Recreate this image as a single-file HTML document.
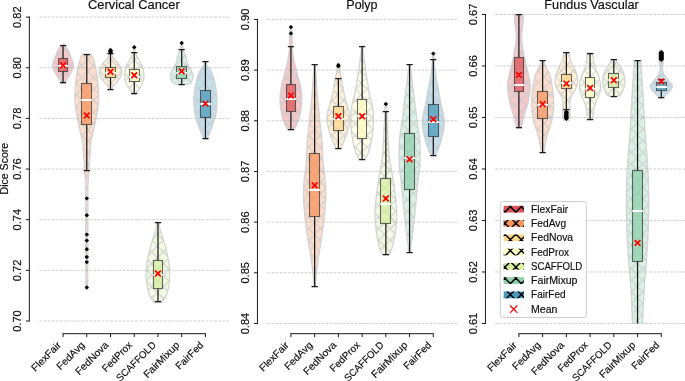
<!DOCTYPE html><html><head><meta charset="utf-8"><style>html,body{margin:0;padding:0;background:#fff;width:685px;height:381px;overflow:hidden}svg{display:block;will-change:transform}text{font-family:"Liberation Sans", sans-serif;fill:#111;stroke:#111;stroke-width:0.18px}</style></head><body>
<svg width="685" height="381" viewBox="0 0 685 381">
<defs>
<pattern id="hv0" patternUnits="userSpaceOnUse" x="0" y="0" width="11.64" height="11.64">
<path d="M-11.64,-39.46 L23.28,-4.54 M-11.64,-15.54 L23.28,-50.46 M-11.64,-27.82 L23.28,7.10 M-11.64,-3.90 L23.28,-38.82 M-11.64,-16.18 L23.28,18.74 M-11.64,7.74 L23.28,-27.18 M-11.64,-4.54 L23.28,30.38 M-11.64,19.38 L23.28,-15.54 M-11.64,7.10 L23.28,42.02 M-11.64,31.02 L23.28,-3.90 M-11.64,18.74 L23.28,53.66 M-11.64,42.66 L23.28,7.74 M-11.64,30.38 L23.28,65.30 M-11.64,54.30 L23.28,19.38" stroke="#c6c9d0" stroke-width="1.3" stroke-opacity="0.75" fill="none"/>
</pattern>
<pattern id="hv1" patternUnits="userSpaceOnUse" x="0" y="0" width="11.64" height="11.64">
<path d="M-11.64,-45.28 L23.28,-10.36 M-11.64,-21.36 L23.28,-56.28 M-11.64,-33.64 L23.28,1.28 M-11.64,-9.72 L23.28,-44.64 M-11.64,-22.00 L23.28,12.92 M-11.64,1.92 L23.28,-33.00 M-11.64,-10.36 L23.28,24.56 M-11.64,13.56 L23.28,-21.36 M-11.64,1.28 L23.28,36.20 M-11.64,25.20 L23.28,-9.72 M-11.64,12.92 L23.28,47.84 M-11.64,36.84 L23.28,1.92 M-11.64,24.56 L23.28,59.48 M-11.64,48.48 L23.28,13.56" stroke="#c6c9d0" stroke-width="1.3" stroke-opacity="0.75" fill="none"/>
</pattern>
<pattern id="hv2" patternUnits="userSpaceOnUse" x="0" y="0" width="11.64" height="11.64">
<path d="M-11.64,-36.70 L23.28,-1.78 M-11.64,-19.62 L23.28,-54.54 M-11.64,-25.06 L23.28,9.86 M-11.64,-7.98 L23.28,-42.90 M-11.64,-13.42 L23.28,21.50 M-11.64,3.66 L23.28,-31.26 M-11.64,-1.78 L23.28,33.14 M-11.64,15.30 L23.28,-19.62 M-11.64,9.86 L23.28,44.78 M-11.64,26.94 L23.28,-7.98 M-11.64,21.50 L23.28,56.42 M-11.64,38.58 L23.28,3.66 M-11.64,33.14 L23.28,68.06 M-11.64,50.22 L23.28,15.30" stroke="#c6c9d0" stroke-width="1.3" stroke-opacity="0.75" fill="none"/>
</pattern>
<pattern id="hl" patternUnits="userSpaceOnUse" x="0" y="0" width="11" height="11">
<path d="M-11.00,-39.70 L22.00,-6.70 M-11.00,-20.00 L22.00,-53.00 M-11.00,-28.70 L22.00,4.30 M-11.00,-9.00 L22.00,-42.00 M-11.00,-17.70 L22.00,15.30 M-11.00,2.00 L22.00,-31.00 M-11.00,-6.70 L22.00,26.30 M-11.00,13.00 L22.00,-20.00 M-11.00,4.30 L22.00,37.30 M-11.00,24.00 L22.00,-9.00 M-11.00,15.30 L22.00,48.30 M-11.00,35.00 L22.00,2.00 M-11.00,26.30 L22.00,59.30 M-11.00,46.00 L22.00,13.00" stroke="#000" stroke-width="1.5" stroke-opacity="1" fill="none"/>
</pattern>
<clipPath id="ax0"><rect x="39.32" y="14.45" width="189.84" height="309.15"/></clipPath>
<clipPath id="bx0"><rect x="39.32" y="12.45" width="189.84" height="311.15"/></clipPath>
<clipPath id="ax1"><rect x="267.27" y="14.45" width="189.84" height="309.15"/></clipPath>
<clipPath id="bx1"><rect x="267.27" y="12.45" width="189.84" height="311.15"/></clipPath>
<clipPath id="ax2"><rect x="495.17" y="14.45" width="190.33" height="309.15"/></clipPath>
<clipPath id="bx2"><rect x="495.17" y="12.45" width="190.33" height="311.15"/></clipPath>
</defs>
<g clip-path="url(#ax0)">
<path d="M63.95,44.20 L64.36,44.68 L65.15,45.70 L65.80,46.58 L66.60,47.68 L67.43,48.89 L68.15,50.10 L68.61,51.06 L69.02,52.05 L69.40,53.06 L69.77,54.08 L70.15,55.10 L70.56,56.12 L70.98,57.14 L71.40,58.16 L71.79,59.18 L72.15,60.20 L72.50,61.20 L72.85,62.20 L73.15,63.20 L73.37,64.20 L73.45,65.20 L73.38,66.22 L73.18,67.24 L72.90,68.26 L72.54,69.28 L72.15,70.30 L71.71,71.30 L71.19,72.30 L70.63,73.30 L70.04,74.30 L69.45,75.30 L68.84,76.35 L68.18,77.43 L67.52,78.51 L66.90,79.51 L66.35,80.40 L65.56,81.67 L64.90,82.70 L64.45,83.40 L61.65,83.40 L61.20,82.70 L60.54,81.67 L59.75,80.40 L59.20,79.51 L58.58,78.51 L57.92,77.43 L57.26,76.35 L56.65,75.30 L56.06,74.30 L55.47,73.30 L54.91,72.30 L54.39,71.30 L53.95,70.30 L53.56,69.28 L53.20,68.26 L52.92,67.24 L52.72,66.22 L52.65,65.20 L52.73,64.20 L52.95,63.20 L53.25,62.20 L53.60,61.20 L53.95,60.20 L54.31,59.18 L54.70,58.16 L55.12,57.14 L55.54,56.12 L55.95,55.10 L56.33,54.08 L56.70,53.06 L57.08,52.05 L57.49,51.06 L57.95,50.10 L58.67,48.89 L59.50,47.68 L60.30,46.58 L60.95,45.70 L61.74,44.68 L62.15,44.20 Z" fill="#dd4a4c" fill-opacity="0.3" stroke="none"/>
<path d="M63.95,44.20 L64.36,44.68 L65.15,45.70 L65.80,46.58 L66.60,47.68 L67.43,48.89 L68.15,50.10 L68.61,51.06 L69.02,52.05 L69.40,53.06 L69.77,54.08 L70.15,55.10 L70.56,56.12 L70.98,57.14 L71.40,58.16 L71.79,59.18 L72.15,60.20 L72.50,61.20 L72.85,62.20 L73.15,63.20 L73.37,64.20 L73.45,65.20 L73.38,66.22 L73.18,67.24 L72.90,68.26 L72.54,69.28 L72.15,70.30 L71.71,71.30 L71.19,72.30 L70.63,73.30 L70.04,74.30 L69.45,75.30 L68.84,76.35 L68.18,77.43 L67.52,78.51 L66.90,79.51 L66.35,80.40 L65.56,81.67 L64.90,82.70 L64.45,83.40 L61.65,83.40 L61.20,82.70 L60.54,81.67 L59.75,80.40 L59.20,79.51 L58.58,78.51 L57.92,77.43 L57.26,76.35 L56.65,75.30 L56.06,74.30 L55.47,73.30 L54.91,72.30 L54.39,71.30 L53.95,70.30 L53.56,69.28 L53.20,68.26 L52.92,67.24 L52.72,66.22 L52.65,65.20 L52.73,64.20 L52.95,63.20 L53.25,62.20 L53.60,61.20 L53.95,60.20 L54.31,59.18 L54.70,58.16 L55.12,57.14 L55.54,56.12 L55.95,55.10 L56.33,54.08 L56.70,53.06 L57.08,52.05 L57.49,51.06 L57.95,50.10 L58.67,48.89 L59.50,47.68 L60.30,46.58 L60.95,45.70 L61.74,44.68 L62.15,44.20 Z" fill="url(#hv0)" stroke="#d0d0d0" stroke-width="1.3" stroke-opacity="0.9"/>
<path d="M90.78,53.90 L91.33,54.51 L92.18,56.00 L92.47,56.70 L92.79,57.49 L93.13,58.38 L93.48,59.37 L93.85,60.49 L94.22,61.73 L94.58,63.10 L94.78,63.91 L94.98,64.78 L95.20,65.71 L95.41,66.69 L95.63,67.70 L95.85,68.74 L96.06,69.81 L96.27,70.89 L96.48,71.97 L96.67,73.05 L96.86,74.12 L97.03,75.18 L97.18,76.20 L97.32,77.21 L97.45,78.22 L97.58,79.22 L97.69,80.23 L97.79,81.24 L97.89,82.25 L97.98,83.25 L98.06,84.26 L98.14,85.27 L98.21,86.28 L98.27,87.28 L98.33,88.29 L98.38,89.30 L98.43,90.31 L98.47,91.32 L98.52,92.32 L98.55,93.33 L98.59,94.34 L98.61,95.35 L98.62,96.35 L98.63,97.36 L98.63,98.37 L98.61,99.38 L98.58,100.38 L98.54,101.39 L98.48,102.40 L98.41,103.41 L98.32,104.42 L98.21,105.42 L98.10,106.43 L97.97,107.44 L97.83,108.45 L97.68,109.45 L97.52,110.46 L97.36,111.47 L97.20,112.48 L97.03,113.48 L96.85,114.49 L96.68,115.50 L96.50,116.51 L96.32,117.52 L96.12,118.52 L95.93,119.53 L95.72,120.54 L95.51,121.55 L95.30,122.55 L95.08,123.56 L94.86,124.57 L94.64,125.58 L94.42,126.58 L94.20,127.59 L93.98,128.60 L93.75,129.62 L93.51,130.66 L93.26,131.72 L93.00,132.79 L92.74,133.86 L92.48,134.92 L92.22,135.98 L91.97,137.01 L91.74,138.02 L91.51,139.00 L91.31,139.95 L91.13,140.85 L90.98,141.70 L90.79,142.96 L90.67,144.07 L90.59,145.09 L90.54,146.04 L90.51,146.97 L90.49,147.92 L90.45,148.91 L90.38,150.00 L90.31,150.91 L90.24,151.81 L90.16,152.72 L90.08,153.64 L90.00,154.58 L89.92,155.56 L89.84,156.58 L89.76,157.65 L89.67,158.79 L89.58,160.00 L89.52,160.87 L89.45,161.79 L89.39,162.76 L89.32,163.77 L89.25,164.81 L89.18,165.88 L89.10,166.96 L89.03,168.04 L88.96,169.12 L88.89,170.19 L88.82,171.23 L88.76,172.24 L88.69,173.21 L88.64,174.13 L88.58,175.00 L88.50,176.18 L88.43,177.24 L88.35,178.21 L88.29,179.12 L88.22,180.00 L88.16,180.88 L88.11,181.79 L88.06,182.76 L88.02,183.82 L87.98,185.00 L87.96,185.78 L87.94,186.48 L87.93,187.12 L87.91,187.73 L87.91,188.33 L87.90,188.96 L87.89,189.64 L87.89,190.39 L87.89,191.24 L87.89,192.22 L87.89,193.36 L87.89,194.68 L87.88,196.21 L87.88,197.97 L87.88,200.00 L87.88,200.67 L87.88,201.36 L87.88,202.09 L87.88,202.85 L87.88,203.64 L87.88,204.45 L87.88,205.29 L87.88,206.15 L87.88,207.04 L87.88,207.95 L87.88,208.88 L87.88,209.84 L87.88,210.81 L87.88,211.80 L87.88,212.81 L87.88,213.83 L87.88,214.87 L87.88,215.92 L87.88,216.98 L87.88,218.06 L87.88,219.14 L87.88,220.24 L87.88,221.34 L87.89,222.45 L87.89,223.56 L87.89,224.68 L87.89,225.81 L87.89,226.93 L87.89,228.06 L87.89,229.18 L87.89,230.31 L87.89,231.43 L87.89,232.55 L87.89,233.67 L87.89,234.78 L87.89,235.88 L87.89,236.98 L87.89,238.07 L87.89,239.14 L87.89,240.21 L87.89,241.26 L87.89,242.30 L87.89,243.33 L87.89,244.34 L87.89,245.33 L87.89,246.30 L87.89,247.26 L87.88,248.19 L87.88,249.11 L87.88,250.00 L87.88,251.16 L87.87,252.33 L87.87,253.51 L87.87,254.69 L87.86,255.88 L87.86,257.07 L87.85,258.26 L87.85,259.45 L87.84,260.64 L87.84,261.83 L87.83,263.01 L87.82,264.18 L87.82,265.35 L87.81,266.51 L87.81,267.66 L87.80,268.80 L87.79,269.92 L87.79,271.03 L87.78,272.12 L87.77,273.20 L87.77,274.26 L87.76,275.30 L87.75,276.31 L87.75,277.31 L87.74,278.28 L87.74,279.22 L87.73,280.13 L87.72,281.02 L87.72,281.88 L87.71,282.70 L87.71,283.50 L87.70,284.25 L87.70,284.98 L87.69,285.66 L87.69,286.31 L87.69,286.91 L87.68,287.48 L87.68,288.00 L85.88,288.00 L85.88,287.48 L85.87,286.91 L85.87,286.31 L85.87,285.66 L85.86,284.98 L85.86,284.25 L85.85,283.50 L85.85,282.70 L85.84,281.88 L85.84,281.02 L85.83,280.13 L85.82,279.22 L85.82,278.28 L85.81,277.31 L85.81,276.31 L85.80,275.30 L85.79,274.26 L85.79,273.20 L85.78,272.12 L85.77,271.03 L85.77,269.92 L85.76,268.80 L85.75,267.66 L85.75,266.51 L85.74,265.35 L85.74,264.18 L85.73,263.01 L85.72,261.83 L85.72,260.64 L85.71,259.45 L85.71,258.26 L85.70,257.07 L85.70,255.88 L85.69,254.69 L85.69,253.51 L85.69,252.33 L85.68,251.16 L85.68,250.00 L85.68,249.11 L85.68,248.19 L85.67,247.26 L85.67,246.30 L85.67,245.33 L85.67,244.34 L85.67,243.33 L85.67,242.30 L85.67,241.26 L85.67,240.21 L85.67,239.14 L85.67,238.07 L85.67,236.98 L85.67,235.88 L85.67,234.78 L85.67,233.67 L85.67,232.55 L85.67,231.43 L85.67,230.31 L85.67,229.18 L85.67,228.06 L85.67,226.93 L85.67,225.81 L85.67,224.68 L85.67,223.56 L85.67,222.45 L85.68,221.34 L85.68,220.24 L85.68,219.14 L85.68,218.06 L85.68,216.98 L85.68,215.92 L85.68,214.87 L85.68,213.83 L85.68,212.81 L85.68,211.80 L85.68,210.81 L85.68,209.84 L85.68,208.88 L85.68,207.95 L85.68,207.04 L85.68,206.15 L85.68,205.29 L85.68,204.45 L85.68,203.64 L85.68,202.85 L85.68,202.09 L85.68,201.36 L85.68,200.67 L85.68,200.00 L85.68,197.97 L85.68,196.21 L85.67,194.68 L85.67,193.36 L85.67,192.22 L85.67,191.24 L85.67,190.39 L85.67,189.64 L85.66,188.96 L85.65,188.33 L85.65,187.73 L85.63,187.12 L85.62,186.48 L85.60,185.78 L85.58,185.00 L85.54,183.82 L85.50,182.76 L85.45,181.79 L85.40,180.88 L85.34,180.00 L85.27,179.12 L85.21,178.21 L85.13,177.24 L85.06,176.18 L84.98,175.00 L84.92,174.13 L84.87,173.21 L84.80,172.24 L84.74,171.23 L84.67,170.19 L84.60,169.12 L84.53,168.04 L84.46,166.96 L84.38,165.88 L84.31,164.81 L84.24,163.77 L84.17,162.76 L84.11,161.79 L84.04,160.87 L83.98,160.00 L83.89,158.79 L83.80,157.65 L83.72,156.58 L83.64,155.56 L83.56,154.58 L83.48,153.64 L83.40,152.72 L83.32,151.81 L83.25,150.91 L83.18,150.00 L83.11,148.91 L83.07,147.92 L83.05,146.97 L83.02,146.04 L82.97,145.09 L82.89,144.07 L82.77,142.96 L82.58,141.70 L82.43,140.85 L82.25,139.95 L82.05,139.00 L81.82,138.02 L81.59,137.01 L81.34,135.98 L81.08,134.92 L80.82,133.86 L80.56,132.79 L80.30,131.72 L80.05,130.66 L79.81,129.62 L79.58,128.60 L79.36,127.59 L79.14,126.58 L78.92,125.58 L78.70,124.57 L78.48,123.56 L78.26,122.55 L78.05,121.55 L77.84,120.54 L77.63,119.53 L77.44,118.52 L77.24,117.52 L77.06,116.51 L76.88,115.50 L76.71,114.49 L76.53,113.48 L76.36,112.48 L76.20,111.47 L76.04,110.46 L75.88,109.45 L75.73,108.45 L75.59,107.44 L75.46,106.43 L75.35,105.42 L75.24,104.42 L75.15,103.41 L75.08,102.40 L75.02,101.39 L74.98,100.38 L74.95,99.38 L74.93,98.37 L74.93,97.36 L74.94,96.35 L74.95,95.35 L74.97,94.34 L75.01,93.33 L75.04,92.32 L75.09,91.32 L75.13,90.31 L75.18,89.30 L75.23,88.29 L75.29,87.28 L75.35,86.28 L75.42,85.27 L75.50,84.26 L75.58,83.25 L75.67,82.25 L75.77,81.24 L75.87,80.23 L75.98,79.22 L76.11,78.22 L76.24,77.21 L76.38,76.20 L76.53,75.18 L76.70,74.12 L76.89,73.05 L77.08,71.97 L77.29,70.89 L77.50,69.81 L77.71,68.74 L77.93,67.70 L78.15,66.69 L78.36,65.71 L78.58,64.78 L78.78,63.91 L78.98,63.10 L79.34,61.73 L79.71,60.49 L80.08,59.37 L80.43,58.38 L80.77,57.49 L81.09,56.70 L81.38,56.00 L82.23,54.51 L82.78,53.90 Z" fill="#f98e52" fill-opacity="0.3" stroke="none"/>
<path d="M90.78,53.90 L91.33,54.51 L92.18,56.00 L92.47,56.70 L92.79,57.49 L93.13,58.38 L93.48,59.37 L93.85,60.49 L94.22,61.73 L94.58,63.10 L94.78,63.91 L94.98,64.78 L95.20,65.71 L95.41,66.69 L95.63,67.70 L95.85,68.74 L96.06,69.81 L96.27,70.89 L96.48,71.97 L96.67,73.05 L96.86,74.12 L97.03,75.18 L97.18,76.20 L97.32,77.21 L97.45,78.22 L97.58,79.22 L97.69,80.23 L97.79,81.24 L97.89,82.25 L97.98,83.25 L98.06,84.26 L98.14,85.27 L98.21,86.28 L98.27,87.28 L98.33,88.29 L98.38,89.30 L98.43,90.31 L98.47,91.32 L98.52,92.32 L98.55,93.33 L98.59,94.34 L98.61,95.35 L98.62,96.35 L98.63,97.36 L98.63,98.37 L98.61,99.38 L98.58,100.38 L98.54,101.39 L98.48,102.40 L98.41,103.41 L98.32,104.42 L98.21,105.42 L98.10,106.43 L97.97,107.44 L97.83,108.45 L97.68,109.45 L97.52,110.46 L97.36,111.47 L97.20,112.48 L97.03,113.48 L96.85,114.49 L96.68,115.50 L96.50,116.51 L96.32,117.52 L96.12,118.52 L95.93,119.53 L95.72,120.54 L95.51,121.55 L95.30,122.55 L95.08,123.56 L94.86,124.57 L94.64,125.58 L94.42,126.58 L94.20,127.59 L93.98,128.60 L93.75,129.62 L93.51,130.66 L93.26,131.72 L93.00,132.79 L92.74,133.86 L92.48,134.92 L92.22,135.98 L91.97,137.01 L91.74,138.02 L91.51,139.00 L91.31,139.95 L91.13,140.85 L90.98,141.70 L90.79,142.96 L90.67,144.07 L90.59,145.09 L90.54,146.04 L90.51,146.97 L90.49,147.92 L90.45,148.91 L90.38,150.00 L90.31,150.91 L90.24,151.81 L90.16,152.72 L90.08,153.64 L90.00,154.58 L89.92,155.56 L89.84,156.58 L89.76,157.65 L89.67,158.79 L89.58,160.00 L89.52,160.87 L89.45,161.79 L89.39,162.76 L89.32,163.77 L89.25,164.81 L89.18,165.88 L89.10,166.96 L89.03,168.04 L88.96,169.12 L88.89,170.19 L88.82,171.23 L88.76,172.24 L88.69,173.21 L88.64,174.13 L88.58,175.00 L88.50,176.18 L88.43,177.24 L88.35,178.21 L88.29,179.12 L88.22,180.00 L88.16,180.88 L88.11,181.79 L88.06,182.76 L88.02,183.82 L87.98,185.00 L87.96,185.78 L87.94,186.48 L87.93,187.12 L87.91,187.73 L87.91,188.33 L87.90,188.96 L87.89,189.64 L87.89,190.39 L87.89,191.24 L87.89,192.22 L87.89,193.36 L87.89,194.68 L87.88,196.21 L87.88,197.97 L87.88,200.00 L87.88,200.67 L87.88,201.36 L87.88,202.09 L87.88,202.85 L87.88,203.64 L87.88,204.45 L87.88,205.29 L87.88,206.15 L87.88,207.04 L87.88,207.95 L87.88,208.88 L87.88,209.84 L87.88,210.81 L87.88,211.80 L87.88,212.81 L87.88,213.83 L87.88,214.87 L87.88,215.92 L87.88,216.98 L87.88,218.06 L87.88,219.14 L87.88,220.24 L87.88,221.34 L87.89,222.45 L87.89,223.56 L87.89,224.68 L87.89,225.81 L87.89,226.93 L87.89,228.06 L87.89,229.18 L87.89,230.31 L87.89,231.43 L87.89,232.55 L87.89,233.67 L87.89,234.78 L87.89,235.88 L87.89,236.98 L87.89,238.07 L87.89,239.14 L87.89,240.21 L87.89,241.26 L87.89,242.30 L87.89,243.33 L87.89,244.34 L87.89,245.33 L87.89,246.30 L87.89,247.26 L87.88,248.19 L87.88,249.11 L87.88,250.00 L87.88,251.16 L87.87,252.33 L87.87,253.51 L87.87,254.69 L87.86,255.88 L87.86,257.07 L87.85,258.26 L87.85,259.45 L87.84,260.64 L87.84,261.83 L87.83,263.01 L87.82,264.18 L87.82,265.35 L87.81,266.51 L87.81,267.66 L87.80,268.80 L87.79,269.92 L87.79,271.03 L87.78,272.12 L87.77,273.20 L87.77,274.26 L87.76,275.30 L87.75,276.31 L87.75,277.31 L87.74,278.28 L87.74,279.22 L87.73,280.13 L87.72,281.02 L87.72,281.88 L87.71,282.70 L87.71,283.50 L87.70,284.25 L87.70,284.98 L87.69,285.66 L87.69,286.31 L87.69,286.91 L87.68,287.48 L87.68,288.00 L85.88,288.00 L85.88,287.48 L85.87,286.91 L85.87,286.31 L85.87,285.66 L85.86,284.98 L85.86,284.25 L85.85,283.50 L85.85,282.70 L85.84,281.88 L85.84,281.02 L85.83,280.13 L85.82,279.22 L85.82,278.28 L85.81,277.31 L85.81,276.31 L85.80,275.30 L85.79,274.26 L85.79,273.20 L85.78,272.12 L85.77,271.03 L85.77,269.92 L85.76,268.80 L85.75,267.66 L85.75,266.51 L85.74,265.35 L85.74,264.18 L85.73,263.01 L85.72,261.83 L85.72,260.64 L85.71,259.45 L85.71,258.26 L85.70,257.07 L85.70,255.88 L85.69,254.69 L85.69,253.51 L85.69,252.33 L85.68,251.16 L85.68,250.00 L85.68,249.11 L85.68,248.19 L85.67,247.26 L85.67,246.30 L85.67,245.33 L85.67,244.34 L85.67,243.33 L85.67,242.30 L85.67,241.26 L85.67,240.21 L85.67,239.14 L85.67,238.07 L85.67,236.98 L85.67,235.88 L85.67,234.78 L85.67,233.67 L85.67,232.55 L85.67,231.43 L85.67,230.31 L85.67,229.18 L85.67,228.06 L85.67,226.93 L85.67,225.81 L85.67,224.68 L85.67,223.56 L85.67,222.45 L85.68,221.34 L85.68,220.24 L85.68,219.14 L85.68,218.06 L85.68,216.98 L85.68,215.92 L85.68,214.87 L85.68,213.83 L85.68,212.81 L85.68,211.80 L85.68,210.81 L85.68,209.84 L85.68,208.88 L85.68,207.95 L85.68,207.04 L85.68,206.15 L85.68,205.29 L85.68,204.45 L85.68,203.64 L85.68,202.85 L85.68,202.09 L85.68,201.36 L85.68,200.67 L85.68,200.00 L85.68,197.97 L85.68,196.21 L85.67,194.68 L85.67,193.36 L85.67,192.22 L85.67,191.24 L85.67,190.39 L85.67,189.64 L85.66,188.96 L85.65,188.33 L85.65,187.73 L85.63,187.12 L85.62,186.48 L85.60,185.78 L85.58,185.00 L85.54,183.82 L85.50,182.76 L85.45,181.79 L85.40,180.88 L85.34,180.00 L85.27,179.12 L85.21,178.21 L85.13,177.24 L85.06,176.18 L84.98,175.00 L84.92,174.13 L84.87,173.21 L84.80,172.24 L84.74,171.23 L84.67,170.19 L84.60,169.12 L84.53,168.04 L84.46,166.96 L84.38,165.88 L84.31,164.81 L84.24,163.77 L84.17,162.76 L84.11,161.79 L84.04,160.87 L83.98,160.00 L83.89,158.79 L83.80,157.65 L83.72,156.58 L83.64,155.56 L83.56,154.58 L83.48,153.64 L83.40,152.72 L83.32,151.81 L83.25,150.91 L83.18,150.00 L83.11,148.91 L83.07,147.92 L83.05,146.97 L83.02,146.04 L82.97,145.09 L82.89,144.07 L82.77,142.96 L82.58,141.70 L82.43,140.85 L82.25,139.95 L82.05,139.00 L81.82,138.02 L81.59,137.01 L81.34,135.98 L81.08,134.92 L80.82,133.86 L80.56,132.79 L80.30,131.72 L80.05,130.66 L79.81,129.62 L79.58,128.60 L79.36,127.59 L79.14,126.58 L78.92,125.58 L78.70,124.57 L78.48,123.56 L78.26,122.55 L78.05,121.55 L77.84,120.54 L77.63,119.53 L77.44,118.52 L77.24,117.52 L77.06,116.51 L76.88,115.50 L76.71,114.49 L76.53,113.48 L76.36,112.48 L76.20,111.47 L76.04,110.46 L75.88,109.45 L75.73,108.45 L75.59,107.44 L75.46,106.43 L75.35,105.42 L75.24,104.42 L75.15,103.41 L75.08,102.40 L75.02,101.39 L74.98,100.38 L74.95,99.38 L74.93,98.37 L74.93,97.36 L74.94,96.35 L74.95,95.35 L74.97,94.34 L75.01,93.33 L75.04,92.32 L75.09,91.32 L75.13,90.31 L75.18,89.30 L75.23,88.29 L75.29,87.28 L75.35,86.28 L75.42,85.27 L75.50,84.26 L75.58,83.25 L75.67,82.25 L75.77,81.24 L75.87,80.23 L75.98,79.22 L76.11,78.22 L76.24,77.21 L76.38,76.20 L76.53,75.18 L76.70,74.12 L76.89,73.05 L77.08,71.97 L77.29,70.89 L77.50,69.81 L77.71,68.74 L77.93,67.70 L78.15,66.69 L78.36,65.71 L78.58,64.78 L78.78,63.91 L78.98,63.10 L79.34,61.73 L79.71,60.49 L80.08,59.37 L80.43,58.38 L80.77,57.49 L81.09,56.70 L81.38,56.00 L82.23,54.51 L82.78,53.90 Z" fill="url(#hv0)" stroke="#d0d0d0" stroke-width="1.3" stroke-opacity="0.9"/>
<path d="M111.51,48.50 L111.58,49.32 L111.67,50.51 L111.79,51.81 L111.91,53.00 L112.00,54.34 L112.11,55.62 L112.51,56.90 L113.38,58.20 L114.53,59.50 L115.71,60.80 L116.87,62.06 L118.04,63.33 L119.11,64.70 L119.84,65.86 L120.52,67.09 L121.10,68.36 L121.51,69.60 L121.73,70.80 L121.81,72.00 L121.73,73.20 L121.51,74.40 L121.10,75.64 L120.52,76.91 L119.84,78.14 L119.11,79.30 L118.01,80.71 L116.81,82.01 L115.71,83.20 L114.40,84.71 L113.31,86.10 L112.66,87.20 L112.10,88.32 L111.71,89.10 L109.31,89.10 L108.92,88.32 L108.36,87.20 L107.71,86.10 L106.62,84.71 L105.31,83.20 L104.21,82.01 L103.01,80.71 L101.91,79.30 L101.18,78.14 L100.50,76.91 L99.92,75.64 L99.51,74.40 L99.28,73.20 L99.21,72.00 L99.28,70.80 L99.51,69.60 L99.92,68.36 L100.50,67.09 L101.18,65.86 L101.91,64.70 L102.98,63.33 L104.15,62.06 L105.31,60.80 L106.49,59.50 L107.64,58.20 L108.51,56.90 L108.91,55.62 L109.02,54.34 L109.11,53.00 L109.23,51.81 L109.35,50.51 L109.44,49.32 L109.51,48.50 Z" fill="#fed481" fill-opacity="0.3" stroke="none"/>
<path d="M111.51,48.50 L111.58,49.32 L111.67,50.51 L111.79,51.81 L111.91,53.00 L112.00,54.34 L112.11,55.62 L112.51,56.90 L113.38,58.20 L114.53,59.50 L115.71,60.80 L116.87,62.06 L118.04,63.33 L119.11,64.70 L119.84,65.86 L120.52,67.09 L121.10,68.36 L121.51,69.60 L121.73,70.80 L121.81,72.00 L121.73,73.20 L121.51,74.40 L121.10,75.64 L120.52,76.91 L119.84,78.14 L119.11,79.30 L118.01,80.71 L116.81,82.01 L115.71,83.20 L114.40,84.71 L113.31,86.10 L112.66,87.20 L112.10,88.32 L111.71,89.10 L109.31,89.10 L108.92,88.32 L108.36,87.20 L107.71,86.10 L106.62,84.71 L105.31,83.20 L104.21,82.01 L103.01,80.71 L101.91,79.30 L101.18,78.14 L100.50,76.91 L99.92,75.64 L99.51,74.40 L99.28,73.20 L99.21,72.00 L99.28,70.80 L99.51,69.60 L99.92,68.36 L100.50,67.09 L101.18,65.86 L101.91,64.70 L102.98,63.33 L104.15,62.06 L105.31,60.80 L106.49,59.50 L107.64,58.20 L108.51,56.90 L108.91,55.62 L109.02,54.34 L109.11,53.00 L109.23,51.81 L109.35,50.51 L109.44,49.32 L109.51,48.50 Z" fill="url(#hv0)" stroke="#d0d0d0" stroke-width="1.3" stroke-opacity="0.9"/>
<path d="M134.94,47.00 L134.98,47.87 L135.04,49.15 L135.11,50.57 L135.18,51.87 L135.24,52.80 L135.23,53.15 L135.54,53.50 L135.95,54.33 L136.50,55.45 L137.13,56.74 L137.80,58.06 L138.44,59.30 L139.08,60.46 L139.77,61.62 L140.45,62.78 L141.08,63.94 L141.64,65.10 L142.11,66.26 L142.52,67.42 L142.88,68.59 L143.19,69.75 L143.44,70.90 L143.65,72.04 L143.82,73.18 L143.94,74.32 L143.98,75.46 L143.94,76.60 L143.81,77.75 L143.59,78.91 L143.31,80.08 L142.95,81.24 L142.54,82.40 L142.04,83.60 L141.44,84.83 L140.80,86.04 L140.15,87.18 L139.54,88.20 L138.57,89.61 L137.63,90.77 L136.84,91.80 L135.97,93.22 L135.44,94.20 L133.04,94.20 L132.51,93.22 L131.64,91.80 L130.85,90.77 L129.91,89.61 L128.94,88.20 L128.33,87.18 L127.68,86.04 L127.04,84.83 L126.44,83.60 L125.94,82.40 L125.53,81.24 L125.17,80.08 L124.89,78.91 L124.67,77.75 L124.54,76.60 L124.50,75.46 L124.54,74.32 L124.66,73.18 L124.83,72.04 L125.04,70.90 L125.29,69.75 L125.60,68.59 L125.96,67.42 L126.37,66.26 L126.84,65.10 L127.40,63.94 L128.03,62.78 L128.71,61.62 L129.40,60.46 L130.04,59.30 L130.68,58.06 L131.35,56.74 L131.98,55.45 L132.53,54.33 L132.94,53.50 L133.25,53.15 L133.24,52.80 L133.30,51.87 L133.37,50.57 L133.44,49.15 L133.50,47.87 L133.54,47.00 Z" fill="#ffffbe" fill-opacity="0.3" stroke="none"/>
<path d="M134.94,47.00 L134.98,47.87 L135.04,49.15 L135.11,50.57 L135.18,51.87 L135.24,52.80 L135.23,53.15 L135.54,53.50 L135.95,54.33 L136.50,55.45 L137.13,56.74 L137.80,58.06 L138.44,59.30 L139.08,60.46 L139.77,61.62 L140.45,62.78 L141.08,63.94 L141.64,65.10 L142.11,66.26 L142.52,67.42 L142.88,68.59 L143.19,69.75 L143.44,70.90 L143.65,72.04 L143.82,73.18 L143.94,74.32 L143.98,75.46 L143.94,76.60 L143.81,77.75 L143.59,78.91 L143.31,80.08 L142.95,81.24 L142.54,82.40 L142.04,83.60 L141.44,84.83 L140.80,86.04 L140.15,87.18 L139.54,88.20 L138.57,89.61 L137.63,90.77 L136.84,91.80 L135.97,93.22 L135.44,94.20 L133.04,94.20 L132.51,93.22 L131.64,91.80 L130.85,90.77 L129.91,89.61 L128.94,88.20 L128.33,87.18 L127.68,86.04 L127.04,84.83 L126.44,83.60 L125.94,82.40 L125.53,81.24 L125.17,80.08 L124.89,78.91 L124.67,77.75 L124.54,76.60 L124.50,75.46 L124.54,74.32 L124.66,73.18 L124.83,72.04 L125.04,70.90 L125.29,69.75 L125.60,68.59 L125.96,67.42 L126.37,66.26 L126.84,65.10 L127.40,63.94 L128.03,62.78 L128.71,61.62 L129.40,60.46 L130.04,59.30 L130.68,58.06 L131.35,56.74 L131.98,55.45 L132.53,54.33 L132.94,53.50 L133.25,53.15 L133.24,52.80 L133.30,51.87 L133.37,50.57 L133.44,49.15 L133.50,47.87 L133.54,47.00 Z" fill="url(#hv0)" stroke="#d0d0d0" stroke-width="1.3" stroke-opacity="0.9"/>
<path d="M158.67,222.30 L158.78,222.95 L158.92,223.80 L159.08,224.83 L159.27,225.97 L159.50,227.20 L159.76,228.45 L160.07,229.70 L160.35,230.67 L160.66,231.67 L161.00,232.70 L161.36,233.76 L161.74,234.85 L162.12,235.97 L162.51,237.11 L162.90,238.29 L163.27,239.50 L163.55,240.43 L163.84,241.39 L164.13,242.38 L164.43,243.39 L164.73,244.41 L165.03,245.44 L165.32,246.49 L165.61,247.54 L165.89,248.59 L166.16,249.63 L166.42,250.67 L166.67,251.70 L166.91,252.72 L167.14,253.75 L167.36,254.77 L167.58,255.80 L167.79,256.82 L167.99,257.85 L168.18,258.88 L168.36,259.90 L168.53,260.93 L168.69,261.95 L168.84,262.98 L168.97,264.00 L169.09,265.02 L169.20,266.04 L169.30,267.05 L169.40,268.07 L169.48,269.09 L169.54,270.10 L169.60,271.11 L169.64,272.13 L169.67,273.15 L169.69,274.16 L169.69,275.18 L169.67,276.20 L169.64,277.23 L169.59,278.29 L169.52,279.36 L169.44,280.43 L169.35,281.51 L169.25,282.58 L169.13,283.64 L169.00,284.68 L168.85,285.69 L168.70,286.67 L168.54,287.61 L168.37,288.50 L168.09,289.76 L167.77,290.96 L167.43,292.10 L167.06,293.18 L166.68,294.20 L166.28,295.18 L165.88,296.11 L165.47,297.00 L164.74,298.38 L163.91,299.68 L163.08,300.84 L162.37,301.80 L161.87,302.50 L154.07,302.50 L153.57,301.80 L152.86,300.84 L152.03,299.68 L151.20,298.38 L150.47,297.00 L150.06,296.11 L149.66,295.18 L149.26,294.20 L148.88,293.18 L148.51,292.10 L148.17,290.96 L147.85,289.76 L147.57,288.50 L147.40,287.61 L147.24,286.67 L147.09,285.69 L146.94,284.68 L146.81,283.64 L146.69,282.58 L146.59,281.51 L146.50,280.43 L146.42,279.36 L146.35,278.29 L146.30,277.23 L146.27,276.20 L146.25,275.18 L146.25,274.16 L146.27,273.15 L146.30,272.13 L146.34,271.11 L146.40,270.10 L146.46,269.09 L146.54,268.07 L146.64,267.05 L146.74,266.04 L146.85,265.02 L146.97,264.00 L147.10,262.98 L147.25,261.95 L147.41,260.93 L147.58,259.90 L147.76,258.88 L147.95,257.85 L148.15,256.82 L148.36,255.80 L148.58,254.77 L148.80,253.75 L149.03,252.72 L149.27,251.70 L149.52,250.67 L149.78,249.63 L150.05,248.59 L150.33,247.54 L150.62,246.49 L150.91,245.44 L151.21,244.41 L151.51,243.39 L151.81,242.38 L152.10,241.39 L152.39,240.43 L152.67,239.50 L153.04,238.29 L153.43,237.11 L153.82,235.97 L154.20,234.85 L154.58,233.76 L154.94,232.70 L155.28,231.67 L155.59,230.67 L155.87,229.70 L156.18,228.45 L156.44,227.20 L156.67,225.97 L156.86,224.83 L157.02,223.80 L157.16,222.95 L157.27,222.30 Z" fill="#d6ee9b" fill-opacity="0.3" stroke="none"/>
<path d="M158.67,222.30 L158.78,222.95 L158.92,223.80 L159.08,224.83 L159.27,225.97 L159.50,227.20 L159.76,228.45 L160.07,229.70 L160.35,230.67 L160.66,231.67 L161.00,232.70 L161.36,233.76 L161.74,234.85 L162.12,235.97 L162.51,237.11 L162.90,238.29 L163.27,239.50 L163.55,240.43 L163.84,241.39 L164.13,242.38 L164.43,243.39 L164.73,244.41 L165.03,245.44 L165.32,246.49 L165.61,247.54 L165.89,248.59 L166.16,249.63 L166.42,250.67 L166.67,251.70 L166.91,252.72 L167.14,253.75 L167.36,254.77 L167.58,255.80 L167.79,256.82 L167.99,257.85 L168.18,258.88 L168.36,259.90 L168.53,260.93 L168.69,261.95 L168.84,262.98 L168.97,264.00 L169.09,265.02 L169.20,266.04 L169.30,267.05 L169.40,268.07 L169.48,269.09 L169.54,270.10 L169.60,271.11 L169.64,272.13 L169.67,273.15 L169.69,274.16 L169.69,275.18 L169.67,276.20 L169.64,277.23 L169.59,278.29 L169.52,279.36 L169.44,280.43 L169.35,281.51 L169.25,282.58 L169.13,283.64 L169.00,284.68 L168.85,285.69 L168.70,286.67 L168.54,287.61 L168.37,288.50 L168.09,289.76 L167.77,290.96 L167.43,292.10 L167.06,293.18 L166.68,294.20 L166.28,295.18 L165.88,296.11 L165.47,297.00 L164.74,298.38 L163.91,299.68 L163.08,300.84 L162.37,301.80 L161.87,302.50 L154.07,302.50 L153.57,301.80 L152.86,300.84 L152.03,299.68 L151.20,298.38 L150.47,297.00 L150.06,296.11 L149.66,295.18 L149.26,294.20 L148.88,293.18 L148.51,292.10 L148.17,290.96 L147.85,289.76 L147.57,288.50 L147.40,287.61 L147.24,286.67 L147.09,285.69 L146.94,284.68 L146.81,283.64 L146.69,282.58 L146.59,281.51 L146.50,280.43 L146.42,279.36 L146.35,278.29 L146.30,277.23 L146.27,276.20 L146.25,275.18 L146.25,274.16 L146.27,273.15 L146.30,272.13 L146.34,271.11 L146.40,270.10 L146.46,269.09 L146.54,268.07 L146.64,267.05 L146.74,266.04 L146.85,265.02 L146.97,264.00 L147.10,262.98 L147.25,261.95 L147.41,260.93 L147.58,259.90 L147.76,258.88 L147.95,257.85 L148.15,256.82 L148.36,255.80 L148.58,254.77 L148.80,253.75 L149.03,252.72 L149.27,251.70 L149.52,250.67 L149.78,249.63 L150.05,248.59 L150.33,247.54 L150.62,246.49 L150.91,245.44 L151.21,244.41 L151.51,243.39 L151.81,242.38 L152.10,241.39 L152.39,240.43 L152.67,239.50 L153.04,238.29 L153.43,237.11 L153.82,235.97 L154.20,234.85 L154.58,233.76 L154.94,232.70 L155.28,231.67 L155.59,230.67 L155.87,229.70 L156.18,228.45 L156.44,227.20 L156.67,225.97 L156.86,224.83 L157.02,223.80 L157.16,222.95 L157.27,222.30 Z" fill="url(#hv0)" stroke="#d0d0d0" stroke-width="1.3" stroke-opacity="0.9"/>
<path d="M182.70,42.90 L182.72,43.60 L182.75,44.60 L182.78,45.76 L182.83,46.97 L182.90,48.09 L183.00,49.00 L183.28,50.16 L183.64,50.97 L184.10,52.00 L184.54,53.09 L185.06,54.32 L185.57,55.62 L186.00,56.90 L186.24,57.92 L186.42,58.98 L186.58,60.03 L186.76,61.05 L187.00,62.00 L187.40,63.08 L187.88,64.07 L188.38,65.03 L188.90,66.00 L189.43,66.98 L189.99,67.94 L190.56,68.93 L191.10,70.00 L191.56,70.94 L192.05,71.93 L192.51,72.95 L192.88,73.98 L193.10,75.00 L193.14,76.03 L193.05,77.10 L192.86,78.14 L192.59,79.13 L192.30,80.00 L191.66,81.21 L190.87,82.20 L190.10,83.00 L188.96,83.84 L188.10,84.30 L175.30,84.30 L174.44,83.84 L173.30,83.00 L172.53,82.20 L171.74,81.21 L171.10,80.00 L170.81,79.13 L170.54,78.14 L170.35,77.10 L170.26,76.03 L170.30,75.00 L170.52,73.98 L170.89,72.95 L171.35,71.93 L171.84,70.94 L172.30,70.00 L172.84,68.93 L173.41,67.94 L173.97,66.98 L174.50,66.00 L175.02,65.03 L175.52,64.07 L176.00,63.08 L176.40,62.00 L176.64,61.05 L176.82,60.03 L176.98,58.98 L177.16,57.92 L177.40,56.90 L177.83,55.62 L178.34,54.32 L178.86,53.09 L179.30,52.00 L179.76,50.97 L180.12,50.16 L180.40,49.00 L180.50,48.09 L180.57,46.97 L180.62,45.76 L180.65,44.60 L180.68,43.60 L180.70,42.90 Z" fill="#86cfa5" fill-opacity="0.3" stroke="none"/>
<path d="M182.70,42.90 L182.72,43.60 L182.75,44.60 L182.78,45.76 L182.83,46.97 L182.90,48.09 L183.00,49.00 L183.28,50.16 L183.64,50.97 L184.10,52.00 L184.54,53.09 L185.06,54.32 L185.57,55.62 L186.00,56.90 L186.24,57.92 L186.42,58.98 L186.58,60.03 L186.76,61.05 L187.00,62.00 L187.40,63.08 L187.88,64.07 L188.38,65.03 L188.90,66.00 L189.43,66.98 L189.99,67.94 L190.56,68.93 L191.10,70.00 L191.56,70.94 L192.05,71.93 L192.51,72.95 L192.88,73.98 L193.10,75.00 L193.14,76.03 L193.05,77.10 L192.86,78.14 L192.59,79.13 L192.30,80.00 L191.66,81.21 L190.87,82.20 L190.10,83.00 L188.96,83.84 L188.10,84.30 L175.30,84.30 L174.44,83.84 L173.30,83.00 L172.53,82.20 L171.74,81.21 L171.10,80.00 L170.81,79.13 L170.54,78.14 L170.35,77.10 L170.26,76.03 L170.30,75.00 L170.52,73.98 L170.89,72.95 L171.35,71.93 L171.84,70.94 L172.30,70.00 L172.84,68.93 L173.41,67.94 L173.97,66.98 L174.50,66.00 L175.02,65.03 L175.52,64.07 L176.00,63.08 L176.40,62.00 L176.64,61.05 L176.82,60.03 L176.98,58.98 L177.16,57.92 L177.40,56.90 L177.83,55.62 L178.34,54.32 L178.86,53.09 L179.30,52.00 L179.76,50.97 L180.12,50.16 L180.40,49.00 L180.50,48.09 L180.57,46.97 L180.62,45.76 L180.65,44.60 L180.68,43.60 L180.70,42.90 Z" fill="url(#hv0)" stroke="#d0d0d0" stroke-width="1.3" stroke-opacity="0.9"/>
<path d="M206.03,61.40 L206.10,62.06 L206.27,63.06 L206.83,64.50 L207.29,65.30 L207.88,66.24 L208.56,67.26 L209.28,68.35 L210.00,69.45 L210.66,70.55 L211.23,71.60 L211.70,72.57 L212.11,73.49 L212.48,74.40 L212.82,75.33 L213.15,76.33 L213.48,77.44 L213.83,78.70 L214.06,79.60 L214.30,80.56 L214.54,81.58 L214.78,82.64 L215.02,83.75 L215.26,84.87 L215.48,86.01 L215.70,87.15 L215.89,88.29 L216.07,89.41 L216.23,90.50 L216.37,91.57 L216.50,92.64 L216.62,93.72 L216.72,94.79 L216.81,95.86 L216.89,96.93 L216.95,98.00 L217.00,99.07 L217.03,100.15 L217.04,101.22 L217.03,102.30 L217.00,103.38 L216.96,104.46 L216.91,105.54 L216.84,106.62 L216.75,107.71 L216.64,108.79 L216.52,109.88 L216.38,110.96 L216.22,112.04 L216.03,113.12 L215.83,114.20 L215.60,115.29 L215.33,116.40 L215.03,117.52 L214.71,118.65 L214.37,119.77 L214.02,120.88 L213.67,121.97 L213.32,123.04 L212.97,124.07 L212.64,125.06 L212.33,126.00 L211.92,127.23 L211.50,128.41 L211.09,129.54 L210.69,130.61 L210.30,131.62 L209.93,132.57 L209.57,133.47 L209.23,134.30 L208.59,135.80 L207.99,137.07 L207.48,138.08 L207.13,138.80 L203.73,138.80 L203.38,138.08 L202.87,137.07 L202.27,135.80 L201.63,134.30 L201.29,133.47 L200.93,132.57 L200.56,131.62 L200.17,130.61 L199.77,129.54 L199.36,128.41 L198.94,127.23 L198.53,126.00 L198.22,125.06 L197.89,124.07 L197.54,123.04 L197.19,121.97 L196.84,120.88 L196.49,119.77 L196.15,118.65 L195.83,117.52 L195.53,116.40 L195.26,115.29 L195.03,114.20 L194.83,113.12 L194.64,112.04 L194.48,110.96 L194.34,109.88 L194.22,108.79 L194.11,107.71 L194.02,106.62 L193.95,105.54 L193.90,104.46 L193.86,103.38 L193.83,102.30 L193.82,101.22 L193.83,100.15 L193.86,99.07 L193.91,98.00 L193.97,96.93 L194.05,95.86 L194.14,94.79 L194.24,93.72 L194.36,92.64 L194.49,91.57 L194.63,90.50 L194.79,89.41 L194.97,88.29 L195.16,87.15 L195.38,86.01 L195.60,84.87 L195.84,83.75 L196.08,82.64 L196.32,81.58 L196.56,80.56 L196.80,79.60 L197.03,78.70 L197.38,77.44 L197.71,76.33 L198.04,75.33 L198.38,74.40 L198.75,73.49 L199.16,72.57 L199.63,71.60 L200.20,70.55 L200.86,69.45 L201.58,68.35 L202.30,67.26 L202.98,66.24 L203.57,65.30 L204.03,64.50 L204.59,63.06 L204.76,62.06 L204.83,61.40 Z" fill="#3d95b8" fill-opacity="0.3" stroke="none"/>
<path d="M206.03,61.40 L206.10,62.06 L206.27,63.06 L206.83,64.50 L207.29,65.30 L207.88,66.24 L208.56,67.26 L209.28,68.35 L210.00,69.45 L210.66,70.55 L211.23,71.60 L211.70,72.57 L212.11,73.49 L212.48,74.40 L212.82,75.33 L213.15,76.33 L213.48,77.44 L213.83,78.70 L214.06,79.60 L214.30,80.56 L214.54,81.58 L214.78,82.64 L215.02,83.75 L215.26,84.87 L215.48,86.01 L215.70,87.15 L215.89,88.29 L216.07,89.41 L216.23,90.50 L216.37,91.57 L216.50,92.64 L216.62,93.72 L216.72,94.79 L216.81,95.86 L216.89,96.93 L216.95,98.00 L217.00,99.07 L217.03,100.15 L217.04,101.22 L217.03,102.30 L217.00,103.38 L216.96,104.46 L216.91,105.54 L216.84,106.62 L216.75,107.71 L216.64,108.79 L216.52,109.88 L216.38,110.96 L216.22,112.04 L216.03,113.12 L215.83,114.20 L215.60,115.29 L215.33,116.40 L215.03,117.52 L214.71,118.65 L214.37,119.77 L214.02,120.88 L213.67,121.97 L213.32,123.04 L212.97,124.07 L212.64,125.06 L212.33,126.00 L211.92,127.23 L211.50,128.41 L211.09,129.54 L210.69,130.61 L210.30,131.62 L209.93,132.57 L209.57,133.47 L209.23,134.30 L208.59,135.80 L207.99,137.07 L207.48,138.08 L207.13,138.80 L203.73,138.80 L203.38,138.08 L202.87,137.07 L202.27,135.80 L201.63,134.30 L201.29,133.47 L200.93,132.57 L200.56,131.62 L200.17,130.61 L199.77,129.54 L199.36,128.41 L198.94,127.23 L198.53,126.00 L198.22,125.06 L197.89,124.07 L197.54,123.04 L197.19,121.97 L196.84,120.88 L196.49,119.77 L196.15,118.65 L195.83,117.52 L195.53,116.40 L195.26,115.29 L195.03,114.20 L194.83,113.12 L194.64,112.04 L194.48,110.96 L194.34,109.88 L194.22,108.79 L194.11,107.71 L194.02,106.62 L193.95,105.54 L193.90,104.46 L193.86,103.38 L193.83,102.30 L193.82,101.22 L193.83,100.15 L193.86,99.07 L193.91,98.00 L193.97,96.93 L194.05,95.86 L194.14,94.79 L194.24,93.72 L194.36,92.64 L194.49,91.57 L194.63,90.50 L194.79,89.41 L194.97,88.29 L195.16,87.15 L195.38,86.01 L195.60,84.87 L195.84,83.75 L196.08,82.64 L196.32,81.58 L196.56,80.56 L196.80,79.60 L197.03,78.70 L197.38,77.44 L197.71,76.33 L198.04,75.33 L198.38,74.40 L198.75,73.49 L199.16,72.57 L199.63,71.60 L200.20,70.55 L200.86,69.45 L201.58,68.35 L202.30,67.26 L202.98,66.24 L203.57,65.30 L204.03,64.50 L204.59,63.06 L204.76,62.06 L204.83,61.40 Z" fill="url(#hv0)" stroke="#d0d0d0" stroke-width="1.3" stroke-opacity="0.9"/>
</g>
<line x1="39.32" y1="321" x2="229.16" y2="321" stroke="#b0b0b0" stroke-opacity="0.6" stroke-width="1" stroke-dasharray="2.9 1.26"/>
<line x1="39.32" y1="270.35" x2="229.16" y2="270.35" stroke="#b0b0b0" stroke-opacity="0.6" stroke-width="1" stroke-dasharray="2.9 1.26"/>
<line x1="39.32" y1="219.7" x2="229.16" y2="219.7" stroke="#b0b0b0" stroke-opacity="0.6" stroke-width="1" stroke-dasharray="2.9 1.26"/>
<line x1="39.32" y1="169.05" x2="229.16" y2="169.05" stroke="#b0b0b0" stroke-opacity="0.6" stroke-width="1" stroke-dasharray="2.9 1.26"/>
<line x1="39.32" y1="118.4" x2="229.16" y2="118.4" stroke="#b0b0b0" stroke-opacity="0.6" stroke-width="1" stroke-dasharray="2.9 1.26"/>
<line x1="39.32" y1="67.75" x2="229.16" y2="67.75" stroke="#b0b0b0" stroke-opacity="0.6" stroke-width="1" stroke-dasharray="2.9 1.26"/>
<line x1="39.32" y1="17.1" x2="229.16" y2="17.1" stroke="#b0b0b0" stroke-opacity="0.6" stroke-width="1" stroke-dasharray="2.9 1.26"/>
<g clip-path="url(#bx0)">
<line x1="63.05" y1="45.5" x2="63.05" y2="58.5" stroke="#1a1a1a" stroke-width="1.25"/>
<line x1="63.05" y1="71.5" x2="63.05" y2="82.5" stroke="#1a1a1a" stroke-width="1.25"/>
<line x1="59.95" y1="45.5" x2="66.15" y2="45.5" stroke="#1a1a1a" stroke-width="1.25"/>
<line x1="59.95" y1="82.5" x2="66.15" y2="82.5" stroke="#1a1a1a" stroke-width="1.25"/>
<rect x="58.5" y="58.5" width="9" height="13" fill="#dd4a4c" fill-opacity="0.68" stroke="#303030" stroke-width="1.1" stroke-opacity="0.72"/>
<line x1="58.2" y1="66" x2="67.9" y2="66" stroke="#fff" stroke-width="2"/>
<path d="M60.2,62.45 L65.9,68.15 M60.2,68.15 L65.9,62.45" stroke="#ff0000" stroke-width="1.75" fill="none"/>
<line x1="86.78" y1="54.5" x2="86.78" y2="83.5" stroke="#1a1a1a" stroke-width="1.25"/>
<line x1="86.78" y1="124.5" x2="86.78" y2="170.5" stroke="#1a1a1a" stroke-width="1.25"/>
<line x1="83.68" y1="54.5" x2="89.88" y2="54.5" stroke="#1a1a1a" stroke-width="1.25"/>
<line x1="83.68" y1="170.5" x2="89.88" y2="170.5" stroke="#1a1a1a" stroke-width="1.25"/>
<rect x="81.5" y="83.5" width="10" height="41" fill="#f98e52" fill-opacity="0.68" stroke="#303030" stroke-width="1.1" stroke-opacity="0.72"/>
<line x1="81.2" y1="100" x2="91.9" y2="100" stroke="#fff" stroke-width="2"/>
<path d="M86.78,196.2 L88.98,198.4 L86.78,200.6 L84.58,198.4 Z" fill="#000"/>
<path d="M86.78,213 L88.98,215.2 L86.78,217.4 L84.58,215.2 Z" fill="#000"/>
<path d="M86.78,232.4 L88.98,234.6 L86.78,236.8 L84.58,234.6 Z" fill="#000"/>
<path d="M86.78,238.4 L88.98,240.6 L86.78,242.8 L84.58,240.6 Z" fill="#000"/>
<path d="M86.78,247 L88.98,249.2 L86.78,251.4 L84.58,249.2 Z" fill="#000"/>
<path d="M86.78,254.8 L88.98,257 L86.78,259.2 L84.58,257 Z" fill="#000"/>
<path d="M86.78,259.9 L88.98,262.1 L86.78,264.3 L84.58,262.1 Z" fill="#000"/>
<path d="M86.78,285.3 L88.98,287.5 L86.78,289.7 L84.58,287.5 Z" fill="#000"/>
<path d="M83.93,112.55 L89.63,118.25 M83.93,118.25 L89.63,112.55" stroke="#ff0000" stroke-width="1.75" fill="none"/>
<line x1="110.51" y1="53.5" x2="110.51" y2="67.5" stroke="#1a1a1a" stroke-width="1.25"/>
<line x1="110.51" y1="77.5" x2="110.51" y2="89.5" stroke="#1a1a1a" stroke-width="1.25"/>
<line x1="107.41" y1="53.5" x2="113.61" y2="53.5" stroke="#1a1a1a" stroke-width="1.25"/>
<line x1="107.41" y1="89.5" x2="113.61" y2="89.5" stroke="#1a1a1a" stroke-width="1.25"/>
<rect x="105.5" y="67.5" width="10" height="10" fill="#fed481" fill-opacity="0.68" stroke="#303030" stroke-width="1.1" stroke-opacity="0.72"/>
<line x1="105.2" y1="73" x2="115.9" y2="73" stroke="#fff" stroke-width="2"/>
<path d="M110.51,47.9 L112.91,50.3 L110.51,52.7 L108.11,50.3 Z" fill="#000"/>
<path d="M110.51,48.8 L112.91,51.2 L110.51,53.6 L108.11,51.2 Z" fill="#000"/>
<path d="M110.51,49.7 L112.91,52.1 L110.51,54.5 L108.11,52.1 Z" fill="#000"/>
<path d="M107.66,68.85 L113.36,74.55 M107.66,74.55 L113.36,68.85" stroke="#ff0000" stroke-width="1.75" fill="none"/>
<line x1="134.24" y1="52.5" x2="134.24" y2="69.5" stroke="#1a1a1a" stroke-width="1.25"/>
<line x1="134.24" y1="81.5" x2="134.24" y2="93.5" stroke="#1a1a1a" stroke-width="1.25"/>
<line x1="131.14" y1="52.5" x2="137.34" y2="52.5" stroke="#1a1a1a" stroke-width="1.25"/>
<line x1="131.14" y1="93.5" x2="137.34" y2="93.5" stroke="#1a1a1a" stroke-width="1.25"/>
<rect x="129.5" y="69.5" width="10" height="12" fill="#ffffbe" fill-opacity="0.68" stroke="#303030" stroke-width="1.1" stroke-opacity="0.72"/>
<line x1="129.2" y1="77" x2="139.9" y2="77" stroke="#fff" stroke-width="2"/>
<path d="M134.24,45.1 L136.44,47.3 L134.24,49.5 L132.04,47.3 Z" fill="#000"/>
<path d="M131.39,72.45 L137.09,78.15 M131.39,78.15 L137.09,72.45" stroke="#ff0000" stroke-width="1.75" fill="none"/>
<line x1="157.97" y1="222.5" x2="157.97" y2="260.5" stroke="#1a1a1a" stroke-width="1.25"/>
<line x1="157.97" y1="288.5" x2="157.97" y2="301.5" stroke="#1a1a1a" stroke-width="1.25"/>
<line x1="154.87" y1="222.5" x2="161.07" y2="222.5" stroke="#1a1a1a" stroke-width="1.25"/>
<line x1="154.87" y1="301.5" x2="161.07" y2="301.5" stroke="#1a1a1a" stroke-width="1.25"/>
<rect x="153.5" y="260.5" width="9" height="28" fill="#d6ee9b" fill-opacity="0.68" stroke="#303030" stroke-width="1.1" stroke-opacity="0.72"/>
<line x1="153.2" y1="275" x2="162.9" y2="275" stroke="#fff" stroke-width="2"/>
<path d="M155.12,270.65 L160.82,276.35 M155.12,276.35 L160.82,270.65" stroke="#ff0000" stroke-width="1.75" fill="none"/>
<line x1="181.7" y1="49.5" x2="181.7" y2="66.5" stroke="#1a1a1a" stroke-width="1.25"/>
<line x1="181.7" y1="78.5" x2="181.7" y2="84.5" stroke="#1a1a1a" stroke-width="1.25"/>
<line x1="178.6" y1="49.5" x2="184.8" y2="49.5" stroke="#1a1a1a" stroke-width="1.25"/>
<line x1="178.6" y1="84.5" x2="184.8" y2="84.5" stroke="#1a1a1a" stroke-width="1.25"/>
<rect x="176.5" y="66.5" width="10" height="12" fill="#86cfa5" fill-opacity="0.68" stroke="#303030" stroke-width="1.1" stroke-opacity="0.72"/>
<line x1="176.2" y1="73" x2="186.9" y2="73" stroke="#fff" stroke-width="2"/>
<path d="M181.7,40.8 L183.9,43 L181.7,45.2 L179.5,43 Z" fill="#000"/>
<path d="M178.85,68.35 L184.55,74.05 M178.85,74.05 L184.55,68.35" stroke="#ff0000" stroke-width="1.75" fill="none"/>
<line x1="205.43" y1="61.5" x2="205.43" y2="90.5" stroke="#1a1a1a" stroke-width="1.25"/>
<line x1="205.43" y1="117.5" x2="205.43" y2="138.5" stroke="#1a1a1a" stroke-width="1.25"/>
<line x1="202.33" y1="61.5" x2="208.53" y2="61.5" stroke="#1a1a1a" stroke-width="1.25"/>
<line x1="202.33" y1="138.5" x2="208.53" y2="138.5" stroke="#1a1a1a" stroke-width="1.25"/>
<rect x="200.5" y="90.5" width="10" height="27" fill="#3d95b8" fill-opacity="0.68" stroke="#303030" stroke-width="1.1" stroke-opacity="0.72"/>
<line x1="200.2" y1="104" x2="210.9" y2="104" stroke="#fff" stroke-width="2"/>
<path d="M202.58,100.75 L208.28,106.45 M202.58,106.45 L208.28,100.75" stroke="#ff0000" stroke-width="1.75" fill="none"/>
</g>
<line x1="29.35" y1="16.6" x2="29.35" y2="321.5" stroke="#1a1a1a" stroke-width="1"/>
<line x1="25.85" y1="321" x2="29.35" y2="321" stroke="#1a1a1a" stroke-width="1"/>
<text transform="translate(20.85,321) rotate(-90)" text-anchor="middle" font-size="10.38" textLength="21.6" lengthAdjust="spacingAndGlyphs">0.70</text>
<line x1="25.85" y1="270.35" x2="29.35" y2="270.35" stroke="#1a1a1a" stroke-width="1"/>
<text transform="translate(20.85,270.35) rotate(-90)" text-anchor="middle" font-size="10.38" textLength="21.6" lengthAdjust="spacingAndGlyphs">0.72</text>
<line x1="25.85" y1="219.7" x2="29.35" y2="219.7" stroke="#1a1a1a" stroke-width="1"/>
<text transform="translate(20.85,219.7) rotate(-90)" text-anchor="middle" font-size="10.38" textLength="21.6" lengthAdjust="spacingAndGlyphs">0.74</text>
<line x1="25.85" y1="169.05" x2="29.35" y2="169.05" stroke="#1a1a1a" stroke-width="1"/>
<text transform="translate(20.85,169.05) rotate(-90)" text-anchor="middle" font-size="10.38" textLength="21.6" lengthAdjust="spacingAndGlyphs">0.76</text>
<line x1="25.85" y1="118.4" x2="29.35" y2="118.4" stroke="#1a1a1a" stroke-width="1"/>
<text transform="translate(20.85,118.4) rotate(-90)" text-anchor="middle" font-size="10.38" textLength="21.6" lengthAdjust="spacingAndGlyphs">0.78</text>
<line x1="25.85" y1="67.75" x2="29.35" y2="67.75" stroke="#1a1a1a" stroke-width="1"/>
<text transform="translate(20.85,67.75) rotate(-90)" text-anchor="middle" font-size="10.38" textLength="21.6" lengthAdjust="spacingAndGlyphs">0.80</text>
<line x1="25.85" y1="17.1" x2="29.35" y2="17.1" stroke="#1a1a1a" stroke-width="1"/>
<text transform="translate(20.85,17.1) rotate(-90)" text-anchor="middle" font-size="10.38" textLength="21.6" lengthAdjust="spacingAndGlyphs">0.82</text>
<line x1="62.55" y1="333.7" x2="205.93" y2="333.7" stroke="#1a1a1a" stroke-width="1"/>
<line x1="63.05" y1="333.7" x2="63.05" y2="337.1" stroke="#1a1a1a" stroke-width="1"/>
<text transform="translate(61.62,345.71) rotate(-45)" text-anchor="end" font-size="9.99" textLength="37.13" lengthAdjust="spacingAndGlyphs">FlexFair</text>
<line x1="86.78" y1="333.7" x2="86.78" y2="337.1" stroke="#1a1a1a" stroke-width="1"/>
<text transform="translate(85.35,345.71) rotate(-45)" text-anchor="end" font-size="9.99" textLength="35.13" lengthAdjust="spacingAndGlyphs">FedAvg</text>
<line x1="110.51" y1="333.7" x2="110.51" y2="337.1" stroke="#1a1a1a" stroke-width="1"/>
<text transform="translate(109.08,345.71) rotate(-45)" text-anchor="end" font-size="9.99" textLength="42.05" lengthAdjust="spacingAndGlyphs">FedNova</text>
<line x1="134.24" y1="333.7" x2="134.24" y2="337.1" stroke="#1a1a1a" stroke-width="1"/>
<text transform="translate(132.81,345.71) rotate(-45)" text-anchor="end" font-size="9.99" textLength="37.99" lengthAdjust="spacingAndGlyphs">FedProx</text>
<line x1="157.97" y1="333.7" x2="157.97" y2="337.1" stroke="#1a1a1a" stroke-width="1"/>
<text transform="translate(156.54,345.71) rotate(-45)" text-anchor="end" font-size="9.99" textLength="51.23" lengthAdjust="spacingAndGlyphs">SCAFFOLD</text>
<line x1="181.7" y1="333.7" x2="181.7" y2="337.1" stroke="#1a1a1a" stroke-width="1"/>
<text transform="translate(180.27,345.71) rotate(-45)" text-anchor="end" font-size="9.99" textLength="46.43" lengthAdjust="spacingAndGlyphs">FairMixup</text>
<line x1="205.43" y1="333.7" x2="205.43" y2="337.1" stroke="#1a1a1a" stroke-width="1"/>
<text transform="translate(204,345.71) rotate(-45)" text-anchor="end" font-size="9.99" textLength="34.49" lengthAdjust="spacingAndGlyphs">FairFed</text>
<text x="133.9" y="8.7" text-anchor="middle" font-size="11.99" textLength="91.65" lengthAdjust="spacingAndGlyphs">Cervical Cancer</text>
<g clip-path="url(#ax1)">
<path d="M291.82,26.50 L291.84,27.14 L291.86,27.97 L291.89,28.95 L291.92,30.08 L291.95,31.31 L291.98,32.63 L292.02,34.00 L292.04,34.87 L292.07,35.83 L292.09,36.87 L292.12,37.96 L292.14,39.09 L292.17,40.22 L292.20,41.34 L292.22,42.43 L292.25,43.46 L292.27,44.41 L292.30,45.27 L292.32,46.00 L292.34,47.40 L292.34,48.06 L292.37,48.70 L292.52,50.00 L292.61,50.74 L292.71,51.59 L292.83,52.54 L292.97,53.55 L293.11,54.61 L293.26,55.71 L293.42,56.82 L293.59,57.92 L293.76,59.00 L293.94,60.03 L294.12,61.00 L294.36,62.14 L294.62,63.28 L294.90,64.40 L295.19,65.51 L295.48,66.59 L295.76,67.64 L296.04,68.65 L296.29,69.60 L296.52,70.50 L296.80,71.69 L297.03,72.72 L297.23,73.65 L297.43,74.56 L297.65,75.52 L297.92,76.60 L298.20,77.62 L298.51,78.68 L298.85,79.78 L299.19,80.91 L299.53,82.08 L299.84,83.28 L300.12,84.50 L300.32,85.48 L300.51,86.49 L300.69,87.52 L300.87,88.57 L301.03,89.63 L301.18,90.70 L301.31,91.78 L301.43,92.84 L301.52,93.90 L301.60,94.95 L301.65,96.00 L301.70,97.06 L301.72,98.12 L301.74,99.17 L301.73,100.23 L301.71,101.29 L301.67,102.34 L301.62,103.40 L301.55,104.46 L301.46,105.54 L301.35,106.63 L301.22,107.72 L301.08,108.79 L300.93,109.86 L300.77,110.90 L300.60,111.92 L300.42,112.90 L300.18,114.12 L299.93,115.30 L299.66,116.44 L299.37,117.55 L299.07,118.63 L298.75,119.68 L298.42,120.70 L298.00,121.88 L297.55,123.04 L297.08,124.16 L296.61,125.21 L296.15,126.17 L295.72,127.00 L294.45,128.79 L293.52,129.80 L288.32,129.80 L287.39,128.79 L286.12,127.00 L285.69,126.17 L285.23,125.21 L284.76,124.16 L284.29,123.04 L283.84,121.88 L283.42,120.70 L283.09,119.68 L282.77,118.63 L282.47,117.55 L282.18,116.44 L281.91,115.30 L281.66,114.12 L281.42,112.90 L281.24,111.92 L281.07,110.90 L280.91,109.86 L280.76,108.79 L280.62,107.72 L280.49,106.63 L280.38,105.54 L280.29,104.46 L280.22,103.40 L280.17,102.34 L280.13,101.29 L280.11,100.23 L280.10,99.17 L280.12,98.12 L280.14,97.06 L280.19,96.00 L280.24,94.95 L280.32,93.90 L280.41,92.84 L280.53,91.78 L280.66,90.70 L280.81,89.63 L280.97,88.57 L281.15,87.52 L281.33,86.49 L281.52,85.48 L281.72,84.50 L282.00,83.28 L282.31,82.08 L282.65,80.91 L282.99,79.78 L283.33,78.68 L283.64,77.62 L283.92,76.60 L284.19,75.52 L284.41,74.56 L284.61,73.65 L284.81,72.72 L285.04,71.69 L285.32,70.50 L285.55,69.60 L285.80,68.65 L286.08,67.64 L286.36,66.59 L286.65,65.51 L286.94,64.40 L287.22,63.28 L287.48,62.14 L287.72,61.00 L287.90,60.03 L288.08,59.00 L288.25,57.92 L288.42,56.82 L288.58,55.71 L288.73,54.61 L288.87,53.55 L289.01,52.54 L289.13,51.59 L289.23,50.74 L289.32,50.00 L289.47,48.70 L289.50,48.06 L289.50,47.40 L289.52,46.00 L289.54,45.27 L289.57,44.41 L289.59,43.46 L289.62,42.43 L289.64,41.34 L289.67,40.22 L289.70,39.09 L289.72,37.96 L289.75,36.87 L289.77,35.83 L289.80,34.87 L289.82,34.00 L289.86,32.63 L289.89,31.31 L289.92,30.08 L289.95,28.95 L289.98,27.97 L290.00,27.14 L290.02,26.50 Z" fill="#dd4a4c" fill-opacity="0.3" stroke="none"/>
<path d="M291.82,26.50 L291.84,27.14 L291.86,27.97 L291.89,28.95 L291.92,30.08 L291.95,31.31 L291.98,32.63 L292.02,34.00 L292.04,34.87 L292.07,35.83 L292.09,36.87 L292.12,37.96 L292.14,39.09 L292.17,40.22 L292.20,41.34 L292.22,42.43 L292.25,43.46 L292.27,44.41 L292.30,45.27 L292.32,46.00 L292.34,47.40 L292.34,48.06 L292.37,48.70 L292.52,50.00 L292.61,50.74 L292.71,51.59 L292.83,52.54 L292.97,53.55 L293.11,54.61 L293.26,55.71 L293.42,56.82 L293.59,57.92 L293.76,59.00 L293.94,60.03 L294.12,61.00 L294.36,62.14 L294.62,63.28 L294.90,64.40 L295.19,65.51 L295.48,66.59 L295.76,67.64 L296.04,68.65 L296.29,69.60 L296.52,70.50 L296.80,71.69 L297.03,72.72 L297.23,73.65 L297.43,74.56 L297.65,75.52 L297.92,76.60 L298.20,77.62 L298.51,78.68 L298.85,79.78 L299.19,80.91 L299.53,82.08 L299.84,83.28 L300.12,84.50 L300.32,85.48 L300.51,86.49 L300.69,87.52 L300.87,88.57 L301.03,89.63 L301.18,90.70 L301.31,91.78 L301.43,92.84 L301.52,93.90 L301.60,94.95 L301.65,96.00 L301.70,97.06 L301.72,98.12 L301.74,99.17 L301.73,100.23 L301.71,101.29 L301.67,102.34 L301.62,103.40 L301.55,104.46 L301.46,105.54 L301.35,106.63 L301.22,107.72 L301.08,108.79 L300.93,109.86 L300.77,110.90 L300.60,111.92 L300.42,112.90 L300.18,114.12 L299.93,115.30 L299.66,116.44 L299.37,117.55 L299.07,118.63 L298.75,119.68 L298.42,120.70 L298.00,121.88 L297.55,123.04 L297.08,124.16 L296.61,125.21 L296.15,126.17 L295.72,127.00 L294.45,128.79 L293.52,129.80 L288.32,129.80 L287.39,128.79 L286.12,127.00 L285.69,126.17 L285.23,125.21 L284.76,124.16 L284.29,123.04 L283.84,121.88 L283.42,120.70 L283.09,119.68 L282.77,118.63 L282.47,117.55 L282.18,116.44 L281.91,115.30 L281.66,114.12 L281.42,112.90 L281.24,111.92 L281.07,110.90 L280.91,109.86 L280.76,108.79 L280.62,107.72 L280.49,106.63 L280.38,105.54 L280.29,104.46 L280.22,103.40 L280.17,102.34 L280.13,101.29 L280.11,100.23 L280.10,99.17 L280.12,98.12 L280.14,97.06 L280.19,96.00 L280.24,94.95 L280.32,93.90 L280.41,92.84 L280.53,91.78 L280.66,90.70 L280.81,89.63 L280.97,88.57 L281.15,87.52 L281.33,86.49 L281.52,85.48 L281.72,84.50 L282.00,83.28 L282.31,82.08 L282.65,80.91 L282.99,79.78 L283.33,78.68 L283.64,77.62 L283.92,76.60 L284.19,75.52 L284.41,74.56 L284.61,73.65 L284.81,72.72 L285.04,71.69 L285.32,70.50 L285.55,69.60 L285.80,68.65 L286.08,67.64 L286.36,66.59 L286.65,65.51 L286.94,64.40 L287.22,63.28 L287.48,62.14 L287.72,61.00 L287.90,60.03 L288.08,59.00 L288.25,57.92 L288.42,56.82 L288.58,55.71 L288.73,54.61 L288.87,53.55 L289.01,52.54 L289.13,51.59 L289.23,50.74 L289.32,50.00 L289.47,48.70 L289.50,48.06 L289.50,47.40 L289.52,46.00 L289.54,45.27 L289.57,44.41 L289.59,43.46 L289.62,42.43 L289.64,41.34 L289.67,40.22 L289.70,39.09 L289.72,37.96 L289.75,36.87 L289.77,35.83 L289.80,34.87 L289.82,34.00 L289.86,32.63 L289.89,31.31 L289.92,30.08 L289.95,28.95 L289.98,27.97 L290.00,27.14 L290.02,26.50 Z" fill="url(#hv1)" stroke="#d0d0d0" stroke-width="1.3" stroke-opacity="0.9"/>
<path d="M315.15,64.70 L315.15,65.27 L315.16,65.97 L315.23,66.78 L315.30,67.69 L315.39,68.69 L315.48,69.76 L315.57,70.88 L315.67,72.06 L315.76,73.26 L315.86,74.48 L315.95,75.70 L316.02,76.62 L316.09,77.59 L316.16,78.61 L316.23,79.66 L316.30,80.73 L316.37,81.83 L316.44,82.95 L316.52,84.07 L316.59,85.19 L316.67,86.30 L316.74,87.40 L316.82,88.47 L316.90,89.52 L316.97,90.53 L317.05,91.50 L317.15,92.66 L317.24,93.77 L317.34,94.85 L317.44,95.90 L317.54,96.93 L317.64,97.94 L317.74,98.94 L317.85,99.94 L317.95,100.94 L318.05,101.94 L318.15,102.96 L318.25,104.00 L318.35,105.05 L318.45,106.09 L318.54,107.13 L318.64,108.17 L318.73,109.21 L318.83,110.26 L318.93,111.31 L319.03,112.36 L319.13,113.43 L319.23,114.51 L319.34,115.60 L319.45,116.70 L319.56,117.73 L319.67,118.76 L319.78,119.81 L319.89,120.85 L320.01,121.91 L320.13,122.97 L320.25,124.04 L320.37,125.13 L320.49,126.22 L320.60,127.32 L320.72,128.43 L320.84,129.56 L320.95,130.70 L321.05,131.70 L321.15,132.72 L321.25,133.75 L321.35,134.79 L321.45,135.84 L321.55,136.90 L321.65,137.96 L321.75,139.03 L321.85,140.10 L321.94,141.17 L322.03,142.25 L322.12,143.32 L322.20,144.38 L322.28,145.45 L322.35,146.50 L322.41,147.55 L322.47,148.60 L322.52,149.65 L322.56,150.69 L322.59,151.74 L322.62,152.79 L322.65,153.83 L322.68,154.88 L322.72,155.92 L322.75,156.97 L322.80,158.02 L322.84,159.06 L322.90,160.11 L322.97,161.15 L323.05,162.20 L323.14,163.25 L323.25,164.29 L323.37,165.34 L323.50,166.39 L323.63,167.43 L323.77,168.48 L323.92,169.53 L324.06,170.57 L324.20,171.62 L324.35,172.67 L324.48,173.71 L324.61,174.76 L324.74,175.81 L324.85,176.85 L324.95,177.90 L325.04,178.95 L325.13,179.99 L325.22,181.04 L325.31,182.08 L325.39,183.13 L325.46,184.18 L325.54,185.22 L325.60,186.27 L325.66,187.31 L325.71,188.36 L325.76,189.41 L325.79,190.45 L325.82,191.50 L325.84,192.55 L325.85,193.60 L325.85,194.65 L325.83,195.70 L325.81,196.76 L325.78,197.81 L325.74,198.86 L325.69,199.92 L325.64,200.97 L325.58,202.03 L325.51,203.08 L325.44,204.14 L325.37,205.19 L325.29,206.24 L325.21,207.30 L325.13,208.35 L325.05,209.40 L324.97,210.45 L324.88,211.49 L324.80,212.53 L324.71,213.56 L324.61,214.59 L324.52,215.62 L324.41,216.66 L324.31,217.69 L324.20,218.73 L324.09,219.77 L323.97,220.82 L323.85,221.88 L323.72,222.94 L323.59,224.02 L323.45,225.10 L323.32,226.07 L323.19,227.04 L323.05,228.02 L322.91,229.01 L322.76,230.00 L322.61,231.00 L322.45,232.00 L322.29,233.01 L322.13,234.02 L321.97,235.03 L321.81,236.04 L321.65,237.05 L321.48,238.07 L321.32,239.08 L321.16,240.09 L321.00,241.10 L320.85,242.10 L320.70,243.11 L320.54,244.12 L320.38,245.13 L320.23,246.15 L320.07,247.17 L319.91,248.20 L319.75,249.22 L319.59,250.24 L319.43,251.26 L319.28,252.27 L319.12,253.29 L318.97,254.29 L318.82,255.29 L318.67,256.28 L318.53,257.27 L318.39,258.24 L318.25,259.20 L318.10,260.29 L317.94,261.39 L317.79,262.50 L317.64,263.61 L317.49,264.72 L317.35,265.82 L317.21,266.91 L317.07,267.98 L316.93,269.03 L316.81,270.05 L316.68,271.04 L316.56,272.00 L316.45,272.91 L316.35,273.78 L316.25,274.60 L316.09,276.02 L315.96,277.31 L315.84,278.49 L315.75,279.56 L315.67,280.53 L315.59,281.42 L315.52,282.24 L315.45,283.00 L315.27,284.60 L315.15,285.63 L315.15,286.30 L314.15,286.30 L314.15,285.63 L314.03,284.60 L313.85,283.00 L313.78,282.24 L313.71,281.42 L313.63,280.53 L313.55,279.56 L313.46,278.49 L313.34,277.31 L313.21,276.02 L313.05,274.60 L312.95,273.78 L312.85,272.91 L312.74,272.00 L312.62,271.04 L312.49,270.05 L312.37,269.03 L312.23,267.98 L312.09,266.91 L311.95,265.82 L311.81,264.72 L311.66,263.61 L311.51,262.50 L311.36,261.39 L311.20,260.29 L311.05,259.20 L310.91,258.24 L310.77,257.27 L310.63,256.28 L310.48,255.29 L310.33,254.29 L310.18,253.29 L310.02,252.27 L309.87,251.26 L309.71,250.24 L309.55,249.22 L309.39,248.20 L309.23,247.17 L309.07,246.15 L308.92,245.13 L308.76,244.12 L308.60,243.11 L308.45,242.10 L308.30,241.10 L308.14,240.09 L307.98,239.08 L307.82,238.07 L307.65,237.05 L307.49,236.04 L307.33,235.03 L307.17,234.02 L307.01,233.01 L306.85,232.00 L306.69,231.00 L306.54,230.00 L306.39,229.01 L306.25,228.02 L306.11,227.04 L305.98,226.07 L305.85,225.10 L305.71,224.02 L305.58,222.94 L305.45,221.88 L305.33,220.82 L305.21,219.77 L305.10,218.73 L304.99,217.69 L304.89,216.66 L304.78,215.62 L304.69,214.59 L304.59,213.56 L304.50,212.53 L304.42,211.49 L304.33,210.45 L304.25,209.40 L304.17,208.35 L304.09,207.30 L304.01,206.24 L303.93,205.19 L303.86,204.14 L303.79,203.08 L303.72,202.03 L303.66,200.97 L303.61,199.92 L303.56,198.86 L303.52,197.81 L303.49,196.76 L303.47,195.70 L303.45,194.65 L303.45,193.60 L303.46,192.55 L303.48,191.50 L303.51,190.45 L303.54,189.41 L303.59,188.36 L303.64,187.31 L303.70,186.27 L303.76,185.22 L303.84,184.18 L303.91,183.13 L303.99,182.08 L304.08,181.04 L304.17,179.99 L304.26,178.95 L304.35,177.90 L304.45,176.85 L304.56,175.81 L304.69,174.76 L304.82,173.71 L304.95,172.67 L305.10,171.62 L305.24,170.57 L305.38,169.53 L305.53,168.48 L305.67,167.43 L305.80,166.39 L305.93,165.34 L306.05,164.29 L306.16,163.25 L306.25,162.20 L306.33,161.15 L306.40,160.11 L306.46,159.06 L306.50,158.02 L306.55,156.97 L306.58,155.92 L306.62,154.88 L306.65,153.83 L306.68,152.79 L306.71,151.74 L306.74,150.69 L306.78,149.65 L306.83,148.60 L306.89,147.55 L306.95,146.50 L307.02,145.45 L307.10,144.38 L307.18,143.32 L307.27,142.25 L307.36,141.17 L307.45,140.10 L307.55,139.03 L307.65,137.96 L307.75,136.90 L307.85,135.84 L307.95,134.79 L308.05,133.75 L308.15,132.72 L308.25,131.70 L308.35,130.70 L308.46,129.56 L308.58,128.43 L308.70,127.32 L308.81,126.22 L308.93,125.13 L309.05,124.04 L309.17,122.97 L309.29,121.91 L309.41,120.85 L309.52,119.81 L309.63,118.76 L309.74,117.73 L309.85,116.70 L309.96,115.60 L310.07,114.51 L310.17,113.43 L310.27,112.36 L310.37,111.31 L310.47,110.26 L310.57,109.21 L310.66,108.17 L310.76,107.13 L310.85,106.09 L310.95,105.05 L311.05,104.00 L311.15,102.96 L311.25,101.94 L311.35,100.94 L311.45,99.94 L311.56,98.94 L311.66,97.94 L311.76,96.93 L311.86,95.90 L311.96,94.85 L312.06,93.77 L312.15,92.66 L312.25,91.50 L312.33,90.53 L312.40,89.52 L312.48,88.47 L312.56,87.40 L312.63,86.30 L312.71,85.19 L312.78,84.07 L312.86,82.95 L312.93,81.83 L313.00,80.73 L313.07,79.66 L313.14,78.61 L313.21,77.59 L313.28,76.62 L313.35,75.70 L313.44,74.48 L313.54,73.26 L313.63,72.06 L313.73,70.88 L313.82,69.76 L313.91,68.69 L314.00,67.69 L314.07,66.78 L314.14,65.97 L314.15,65.27 L314.15,64.70 Z" fill="#f98e52" fill-opacity="0.3" stroke="none"/>
<path d="M315.15,64.70 L315.15,65.27 L315.16,65.97 L315.23,66.78 L315.30,67.69 L315.39,68.69 L315.48,69.76 L315.57,70.88 L315.67,72.06 L315.76,73.26 L315.86,74.48 L315.95,75.70 L316.02,76.62 L316.09,77.59 L316.16,78.61 L316.23,79.66 L316.30,80.73 L316.37,81.83 L316.44,82.95 L316.52,84.07 L316.59,85.19 L316.67,86.30 L316.74,87.40 L316.82,88.47 L316.90,89.52 L316.97,90.53 L317.05,91.50 L317.15,92.66 L317.24,93.77 L317.34,94.85 L317.44,95.90 L317.54,96.93 L317.64,97.94 L317.74,98.94 L317.85,99.94 L317.95,100.94 L318.05,101.94 L318.15,102.96 L318.25,104.00 L318.35,105.05 L318.45,106.09 L318.54,107.13 L318.64,108.17 L318.73,109.21 L318.83,110.26 L318.93,111.31 L319.03,112.36 L319.13,113.43 L319.23,114.51 L319.34,115.60 L319.45,116.70 L319.56,117.73 L319.67,118.76 L319.78,119.81 L319.89,120.85 L320.01,121.91 L320.13,122.97 L320.25,124.04 L320.37,125.13 L320.49,126.22 L320.60,127.32 L320.72,128.43 L320.84,129.56 L320.95,130.70 L321.05,131.70 L321.15,132.72 L321.25,133.75 L321.35,134.79 L321.45,135.84 L321.55,136.90 L321.65,137.96 L321.75,139.03 L321.85,140.10 L321.94,141.17 L322.03,142.25 L322.12,143.32 L322.20,144.38 L322.28,145.45 L322.35,146.50 L322.41,147.55 L322.47,148.60 L322.52,149.65 L322.56,150.69 L322.59,151.74 L322.62,152.79 L322.65,153.83 L322.68,154.88 L322.72,155.92 L322.75,156.97 L322.80,158.02 L322.84,159.06 L322.90,160.11 L322.97,161.15 L323.05,162.20 L323.14,163.25 L323.25,164.29 L323.37,165.34 L323.50,166.39 L323.63,167.43 L323.77,168.48 L323.92,169.53 L324.06,170.57 L324.20,171.62 L324.35,172.67 L324.48,173.71 L324.61,174.76 L324.74,175.81 L324.85,176.85 L324.95,177.90 L325.04,178.95 L325.13,179.99 L325.22,181.04 L325.31,182.08 L325.39,183.13 L325.46,184.18 L325.54,185.22 L325.60,186.27 L325.66,187.31 L325.71,188.36 L325.76,189.41 L325.79,190.45 L325.82,191.50 L325.84,192.55 L325.85,193.60 L325.85,194.65 L325.83,195.70 L325.81,196.76 L325.78,197.81 L325.74,198.86 L325.69,199.92 L325.64,200.97 L325.58,202.03 L325.51,203.08 L325.44,204.14 L325.37,205.19 L325.29,206.24 L325.21,207.30 L325.13,208.35 L325.05,209.40 L324.97,210.45 L324.88,211.49 L324.80,212.53 L324.71,213.56 L324.61,214.59 L324.52,215.62 L324.41,216.66 L324.31,217.69 L324.20,218.73 L324.09,219.77 L323.97,220.82 L323.85,221.88 L323.72,222.94 L323.59,224.02 L323.45,225.10 L323.32,226.07 L323.19,227.04 L323.05,228.02 L322.91,229.01 L322.76,230.00 L322.61,231.00 L322.45,232.00 L322.29,233.01 L322.13,234.02 L321.97,235.03 L321.81,236.04 L321.65,237.05 L321.48,238.07 L321.32,239.08 L321.16,240.09 L321.00,241.10 L320.85,242.10 L320.70,243.11 L320.54,244.12 L320.38,245.13 L320.23,246.15 L320.07,247.17 L319.91,248.20 L319.75,249.22 L319.59,250.24 L319.43,251.26 L319.28,252.27 L319.12,253.29 L318.97,254.29 L318.82,255.29 L318.67,256.28 L318.53,257.27 L318.39,258.24 L318.25,259.20 L318.10,260.29 L317.94,261.39 L317.79,262.50 L317.64,263.61 L317.49,264.72 L317.35,265.82 L317.21,266.91 L317.07,267.98 L316.93,269.03 L316.81,270.05 L316.68,271.04 L316.56,272.00 L316.45,272.91 L316.35,273.78 L316.25,274.60 L316.09,276.02 L315.96,277.31 L315.84,278.49 L315.75,279.56 L315.67,280.53 L315.59,281.42 L315.52,282.24 L315.45,283.00 L315.27,284.60 L315.15,285.63 L315.15,286.30 L314.15,286.30 L314.15,285.63 L314.03,284.60 L313.85,283.00 L313.78,282.24 L313.71,281.42 L313.63,280.53 L313.55,279.56 L313.46,278.49 L313.34,277.31 L313.21,276.02 L313.05,274.60 L312.95,273.78 L312.85,272.91 L312.74,272.00 L312.62,271.04 L312.49,270.05 L312.37,269.03 L312.23,267.98 L312.09,266.91 L311.95,265.82 L311.81,264.72 L311.66,263.61 L311.51,262.50 L311.36,261.39 L311.20,260.29 L311.05,259.20 L310.91,258.24 L310.77,257.27 L310.63,256.28 L310.48,255.29 L310.33,254.29 L310.18,253.29 L310.02,252.27 L309.87,251.26 L309.71,250.24 L309.55,249.22 L309.39,248.20 L309.23,247.17 L309.07,246.15 L308.92,245.13 L308.76,244.12 L308.60,243.11 L308.45,242.10 L308.30,241.10 L308.14,240.09 L307.98,239.08 L307.82,238.07 L307.65,237.05 L307.49,236.04 L307.33,235.03 L307.17,234.02 L307.01,233.01 L306.85,232.00 L306.69,231.00 L306.54,230.00 L306.39,229.01 L306.25,228.02 L306.11,227.04 L305.98,226.07 L305.85,225.10 L305.71,224.02 L305.58,222.94 L305.45,221.88 L305.33,220.82 L305.21,219.77 L305.10,218.73 L304.99,217.69 L304.89,216.66 L304.78,215.62 L304.69,214.59 L304.59,213.56 L304.50,212.53 L304.42,211.49 L304.33,210.45 L304.25,209.40 L304.17,208.35 L304.09,207.30 L304.01,206.24 L303.93,205.19 L303.86,204.14 L303.79,203.08 L303.72,202.03 L303.66,200.97 L303.61,199.92 L303.56,198.86 L303.52,197.81 L303.49,196.76 L303.47,195.70 L303.45,194.65 L303.45,193.60 L303.46,192.55 L303.48,191.50 L303.51,190.45 L303.54,189.41 L303.59,188.36 L303.64,187.31 L303.70,186.27 L303.76,185.22 L303.84,184.18 L303.91,183.13 L303.99,182.08 L304.08,181.04 L304.17,179.99 L304.26,178.95 L304.35,177.90 L304.45,176.85 L304.56,175.81 L304.69,174.76 L304.82,173.71 L304.95,172.67 L305.10,171.62 L305.24,170.57 L305.38,169.53 L305.53,168.48 L305.67,167.43 L305.80,166.39 L305.93,165.34 L306.05,164.29 L306.16,163.25 L306.25,162.20 L306.33,161.15 L306.40,160.11 L306.46,159.06 L306.50,158.02 L306.55,156.97 L306.58,155.92 L306.62,154.88 L306.65,153.83 L306.68,152.79 L306.71,151.74 L306.74,150.69 L306.78,149.65 L306.83,148.60 L306.89,147.55 L306.95,146.50 L307.02,145.45 L307.10,144.38 L307.18,143.32 L307.27,142.25 L307.36,141.17 L307.45,140.10 L307.55,139.03 L307.65,137.96 L307.75,136.90 L307.85,135.84 L307.95,134.79 L308.05,133.75 L308.15,132.72 L308.25,131.70 L308.35,130.70 L308.46,129.56 L308.58,128.43 L308.70,127.32 L308.81,126.22 L308.93,125.13 L309.05,124.04 L309.17,122.97 L309.29,121.91 L309.41,120.85 L309.52,119.81 L309.63,118.76 L309.74,117.73 L309.85,116.70 L309.96,115.60 L310.07,114.51 L310.17,113.43 L310.27,112.36 L310.37,111.31 L310.47,110.26 L310.57,109.21 L310.66,108.17 L310.76,107.13 L310.85,106.09 L310.95,105.05 L311.05,104.00 L311.15,102.96 L311.25,101.94 L311.35,100.94 L311.45,99.94 L311.56,98.94 L311.66,97.94 L311.76,96.93 L311.86,95.90 L311.96,94.85 L312.06,93.77 L312.15,92.66 L312.25,91.50 L312.33,90.53 L312.40,89.52 L312.48,88.47 L312.56,87.40 L312.63,86.30 L312.71,85.19 L312.78,84.07 L312.86,82.95 L312.93,81.83 L313.00,80.73 L313.07,79.66 L313.14,78.61 L313.21,77.59 L313.28,76.62 L313.35,75.70 L313.44,74.48 L313.54,73.26 L313.63,72.06 L313.73,70.88 L313.82,69.76 L313.91,68.69 L314.00,67.69 L314.07,66.78 L314.14,65.97 L314.15,65.27 L314.15,64.70 Z" fill="url(#hv1)" stroke="#d0d0d0" stroke-width="1.3" stroke-opacity="0.9"/>
<path d="M339.78,63.50 L339.82,64.29 L339.87,65.43 L339.93,66.73 L339.98,68.00 L340.00,68.98 L340.01,69.99 L340.02,71.02 L340.07,72.06 L340.18,73.10 L340.35,74.00 L340.57,74.76 L340.83,75.61 L341.13,76.75 L341.48,78.40 L341.62,79.16 L341.76,80.03 L341.92,80.98 L342.08,82.01 L342.25,83.09 L342.42,84.22 L342.60,85.37 L342.78,86.53 L342.96,87.69 L343.15,88.83 L343.33,89.94 L343.52,90.99 L343.70,91.99 L343.88,92.90 L344.16,94.20 L344.45,95.42 L344.74,96.57 L345.03,97.67 L345.33,98.71 L345.62,99.73 L345.91,100.72 L346.20,101.71 L346.48,102.70 L346.80,103.80 L347.13,104.86 L347.46,105.89 L347.78,106.90 L348.09,107.90 L348.38,108.89 L348.65,109.89 L348.88,110.90 L349.09,111.93 L349.28,112.95 L349.46,113.98 L349.62,115.00 L349.74,116.03 L349.83,117.05 L349.88,118.08 L349.88,119.10 L349.83,120.12 L349.72,121.15 L349.57,122.17 L349.39,123.20 L349.18,124.22 L348.95,125.25 L348.71,126.27 L348.48,127.30 L348.24,128.32 L347.99,129.35 L347.72,130.38 L347.44,131.40 L347.15,132.43 L346.84,133.45 L346.52,134.47 L346.18,135.50 L345.82,136.55 L345.42,137.63 L345.01,138.73 L344.59,139.82 L344.16,140.88 L343.74,141.90 L343.35,142.84 L342.98,143.70 L342.27,145.23 L341.58,146.56 L340.99,147.64 L340.58,148.40 L336.18,148.40 L335.77,147.64 L335.18,146.56 L334.49,145.23 L333.78,143.70 L333.41,142.84 L333.02,141.90 L332.60,140.88 L332.17,139.82 L331.75,138.73 L331.34,137.63 L330.94,136.55 L330.58,135.50 L330.24,134.47 L329.92,133.45 L329.61,132.43 L329.32,131.40 L329.04,130.38 L328.77,129.35 L328.52,128.32 L328.28,127.30 L328.05,126.27 L327.81,125.25 L327.58,124.22 L327.37,123.20 L327.19,122.17 L327.04,121.15 L326.93,120.12 L326.88,119.10 L326.88,118.08 L326.93,117.05 L327.02,116.03 L327.14,115.00 L327.30,113.98 L327.48,112.95 L327.67,111.93 L327.88,110.90 L328.11,109.89 L328.38,108.89 L328.67,107.90 L328.98,106.90 L329.30,105.89 L329.63,104.86 L329.96,103.80 L330.28,102.70 L330.56,101.71 L330.85,100.72 L331.14,99.73 L331.43,98.71 L331.73,97.67 L332.02,96.57 L332.31,95.42 L332.60,94.20 L332.88,92.90 L333.06,91.99 L333.24,90.99 L333.43,89.94 L333.61,88.83 L333.80,87.69 L333.98,86.53 L334.16,85.37 L334.34,84.22 L334.51,83.09 L334.68,82.01 L334.84,80.98 L335.00,80.03 L335.14,79.16 L335.28,78.40 L335.63,76.75 L335.93,75.61 L336.19,74.76 L336.41,74.00 L336.58,73.10 L336.69,72.06 L336.74,71.02 L336.75,69.99 L336.76,68.98 L336.78,68.00 L336.83,66.73 L336.89,65.43 L336.94,64.29 L336.98,63.50 Z" fill="#fed481" fill-opacity="0.3" stroke="none"/>
<path d="M339.78,63.50 L339.82,64.29 L339.87,65.43 L339.93,66.73 L339.98,68.00 L340.00,68.98 L340.01,69.99 L340.02,71.02 L340.07,72.06 L340.18,73.10 L340.35,74.00 L340.57,74.76 L340.83,75.61 L341.13,76.75 L341.48,78.40 L341.62,79.16 L341.76,80.03 L341.92,80.98 L342.08,82.01 L342.25,83.09 L342.42,84.22 L342.60,85.37 L342.78,86.53 L342.96,87.69 L343.15,88.83 L343.33,89.94 L343.52,90.99 L343.70,91.99 L343.88,92.90 L344.16,94.20 L344.45,95.42 L344.74,96.57 L345.03,97.67 L345.33,98.71 L345.62,99.73 L345.91,100.72 L346.20,101.71 L346.48,102.70 L346.80,103.80 L347.13,104.86 L347.46,105.89 L347.78,106.90 L348.09,107.90 L348.38,108.89 L348.65,109.89 L348.88,110.90 L349.09,111.93 L349.28,112.95 L349.46,113.98 L349.62,115.00 L349.74,116.03 L349.83,117.05 L349.88,118.08 L349.88,119.10 L349.83,120.12 L349.72,121.15 L349.57,122.17 L349.39,123.20 L349.18,124.22 L348.95,125.25 L348.71,126.27 L348.48,127.30 L348.24,128.32 L347.99,129.35 L347.72,130.38 L347.44,131.40 L347.15,132.43 L346.84,133.45 L346.52,134.47 L346.18,135.50 L345.82,136.55 L345.42,137.63 L345.01,138.73 L344.59,139.82 L344.16,140.88 L343.74,141.90 L343.35,142.84 L342.98,143.70 L342.27,145.23 L341.58,146.56 L340.99,147.64 L340.58,148.40 L336.18,148.40 L335.77,147.64 L335.18,146.56 L334.49,145.23 L333.78,143.70 L333.41,142.84 L333.02,141.90 L332.60,140.88 L332.17,139.82 L331.75,138.73 L331.34,137.63 L330.94,136.55 L330.58,135.50 L330.24,134.47 L329.92,133.45 L329.61,132.43 L329.32,131.40 L329.04,130.38 L328.77,129.35 L328.52,128.32 L328.28,127.30 L328.05,126.27 L327.81,125.25 L327.58,124.22 L327.37,123.20 L327.19,122.17 L327.04,121.15 L326.93,120.12 L326.88,119.10 L326.88,118.08 L326.93,117.05 L327.02,116.03 L327.14,115.00 L327.30,113.98 L327.48,112.95 L327.67,111.93 L327.88,110.90 L328.11,109.89 L328.38,108.89 L328.67,107.90 L328.98,106.90 L329.30,105.89 L329.63,104.86 L329.96,103.80 L330.28,102.70 L330.56,101.71 L330.85,100.72 L331.14,99.73 L331.43,98.71 L331.73,97.67 L332.02,96.57 L332.31,95.42 L332.60,94.20 L332.88,92.90 L333.06,91.99 L333.24,90.99 L333.43,89.94 L333.61,88.83 L333.80,87.69 L333.98,86.53 L334.16,85.37 L334.34,84.22 L334.51,83.09 L334.68,82.01 L334.84,80.98 L335.00,80.03 L335.14,79.16 L335.28,78.40 L335.63,76.75 L335.93,75.61 L336.19,74.76 L336.41,74.00 L336.58,73.10 L336.69,72.06 L336.74,71.02 L336.75,69.99 L336.76,68.98 L336.78,68.00 L336.83,66.73 L336.89,65.43 L336.94,64.29 L336.98,63.50 Z" fill="url(#hv1)" stroke="#d0d0d0" stroke-width="1.3" stroke-opacity="0.9"/>
<path d="M362.61,46.40 L362.61,46.98 L362.61,47.75 L362.64,48.73 L362.75,49.94 L362.91,51.40 L363.01,52.17 L363.13,53.03 L363.26,53.97 L363.41,54.96 L363.56,55.99 L363.72,57.06 L363.89,58.15 L364.05,59.24 L364.21,60.32 L364.36,61.38 L364.51,62.40 L364.65,63.39 L364.78,64.38 L364.91,65.36 L365.04,66.33 L365.16,67.31 L365.29,68.29 L365.42,69.28 L365.56,70.28 L365.70,71.30 L365.85,72.34 L366.01,73.40 L366.16,74.40 L366.33,75.43 L366.50,76.48 L366.67,77.54 L366.85,78.62 L367.03,79.70 L367.21,80.78 L367.40,81.86 L367.58,82.93 L367.76,83.97 L367.94,85.00 L368.11,86.00 L368.30,87.08 L368.48,88.16 L368.67,89.24 L368.85,90.32 L369.04,91.37 L369.22,92.41 L369.40,93.41 L369.58,94.38 L369.76,95.31 L369.94,96.18 L370.11,97.00 L370.43,98.28 L370.75,99.32 L371.06,100.23 L371.36,101.12 L371.65,102.11 L371.91,103.30 L372.08,104.22 L372.24,105.19 L372.39,106.22 L372.54,107.28 L372.68,108.39 L372.81,109.51 L372.92,110.66 L373.02,111.83 L373.11,113.00 L373.17,113.97 L373.22,114.97 L373.27,115.99 L373.31,117.02 L373.34,118.07 L373.36,119.12 L373.38,120.18 L373.38,121.24 L373.37,122.30 L373.34,123.36 L373.31,124.40 L373.26,125.44 L373.20,126.47 L373.13,127.51 L373.05,128.55 L372.96,129.58 L372.86,130.62 L372.75,131.65 L372.62,132.69 L372.49,133.73 L372.36,134.76 L372.21,135.80 L372.05,136.85 L371.89,137.92 L371.71,139.00 L371.52,140.08 L371.32,141.16 L371.11,142.23 L370.90,143.29 L370.68,144.32 L370.46,145.32 L370.24,146.28 L370.01,147.20 L369.69,148.41 L369.35,149.57 L368.99,150.69 L368.63,151.76 L368.26,152.77 L367.90,153.72 L367.55,154.60 L367.21,155.40 L366.51,156.79 L365.79,157.91 L365.15,158.78 L364.71,159.40 L359.51,159.40 L359.07,158.78 L358.44,157.91 L357.71,156.79 L357.01,155.40 L356.67,154.60 L356.32,153.72 L355.96,152.77 L355.59,151.76 L355.23,150.69 L354.87,149.57 L354.53,148.41 L354.21,147.20 L353.98,146.28 L353.76,145.32 L353.54,144.32 L353.32,143.29 L353.11,142.23 L352.90,141.16 L352.70,140.08 L352.51,139.00 L352.33,137.92 L352.17,136.85 L352.01,135.80 L351.86,134.76 L351.73,133.73 L351.60,132.69 L351.47,131.65 L351.36,130.62 L351.26,129.58 L351.17,128.55 L351.09,127.51 L351.02,126.47 L350.96,125.44 L350.91,124.40 L350.88,123.36 L350.85,122.30 L350.84,121.24 L350.84,120.18 L350.86,119.12 L350.88,118.07 L350.91,117.02 L350.95,115.99 L351.00,114.97 L351.05,113.97 L351.11,113.00 L351.20,111.83 L351.30,110.66 L351.41,109.51 L351.54,108.39 L351.68,107.28 L351.83,106.22 L351.98,105.19 L352.14,104.22 L352.31,103.30 L352.57,102.11 L352.86,101.12 L353.16,100.23 L353.47,99.32 L353.79,98.28 L354.11,97.00 L354.28,96.18 L354.46,95.31 L354.64,94.38 L354.82,93.41 L355.00,92.41 L355.18,91.37 L355.37,90.32 L355.55,89.24 L355.74,88.16 L355.92,87.08 L356.11,86.00 L356.28,85.00 L356.46,83.97 L356.64,82.93 L356.82,81.86 L357.01,80.78 L357.19,79.70 L357.37,78.62 L357.55,77.54 L357.72,76.48 L357.89,75.43 L358.06,74.40 L358.21,73.40 L358.37,72.34 L358.52,71.30 L358.66,70.28 L358.80,69.28 L358.93,68.29 L359.06,67.31 L359.18,66.33 L359.31,65.36 L359.44,64.38 L359.57,63.39 L359.71,62.40 L359.86,61.38 L360.01,60.32 L360.17,59.24 L360.33,58.15 L360.50,57.06 L360.66,55.99 L360.81,54.96 L360.96,53.97 L361.09,53.03 L361.21,52.17 L361.31,51.40 L361.47,49.94 L361.58,48.73 L361.61,47.75 L361.61,46.98 L361.61,46.40 Z" fill="#ffffbe" fill-opacity="0.3" stroke="none"/>
<path d="M362.61,46.40 L362.61,46.98 L362.61,47.75 L362.64,48.73 L362.75,49.94 L362.91,51.40 L363.01,52.17 L363.13,53.03 L363.26,53.97 L363.41,54.96 L363.56,55.99 L363.72,57.06 L363.89,58.15 L364.05,59.24 L364.21,60.32 L364.36,61.38 L364.51,62.40 L364.65,63.39 L364.78,64.38 L364.91,65.36 L365.04,66.33 L365.16,67.31 L365.29,68.29 L365.42,69.28 L365.56,70.28 L365.70,71.30 L365.85,72.34 L366.01,73.40 L366.16,74.40 L366.33,75.43 L366.50,76.48 L366.67,77.54 L366.85,78.62 L367.03,79.70 L367.21,80.78 L367.40,81.86 L367.58,82.93 L367.76,83.97 L367.94,85.00 L368.11,86.00 L368.30,87.08 L368.48,88.16 L368.67,89.24 L368.85,90.32 L369.04,91.37 L369.22,92.41 L369.40,93.41 L369.58,94.38 L369.76,95.31 L369.94,96.18 L370.11,97.00 L370.43,98.28 L370.75,99.32 L371.06,100.23 L371.36,101.12 L371.65,102.11 L371.91,103.30 L372.08,104.22 L372.24,105.19 L372.39,106.22 L372.54,107.28 L372.68,108.39 L372.81,109.51 L372.92,110.66 L373.02,111.83 L373.11,113.00 L373.17,113.97 L373.22,114.97 L373.27,115.99 L373.31,117.02 L373.34,118.07 L373.36,119.12 L373.38,120.18 L373.38,121.24 L373.37,122.30 L373.34,123.36 L373.31,124.40 L373.26,125.44 L373.20,126.47 L373.13,127.51 L373.05,128.55 L372.96,129.58 L372.86,130.62 L372.75,131.65 L372.62,132.69 L372.49,133.73 L372.36,134.76 L372.21,135.80 L372.05,136.85 L371.89,137.92 L371.71,139.00 L371.52,140.08 L371.32,141.16 L371.11,142.23 L370.90,143.29 L370.68,144.32 L370.46,145.32 L370.24,146.28 L370.01,147.20 L369.69,148.41 L369.35,149.57 L368.99,150.69 L368.63,151.76 L368.26,152.77 L367.90,153.72 L367.55,154.60 L367.21,155.40 L366.51,156.79 L365.79,157.91 L365.15,158.78 L364.71,159.40 L359.51,159.40 L359.07,158.78 L358.44,157.91 L357.71,156.79 L357.01,155.40 L356.67,154.60 L356.32,153.72 L355.96,152.77 L355.59,151.76 L355.23,150.69 L354.87,149.57 L354.53,148.41 L354.21,147.20 L353.98,146.28 L353.76,145.32 L353.54,144.32 L353.32,143.29 L353.11,142.23 L352.90,141.16 L352.70,140.08 L352.51,139.00 L352.33,137.92 L352.17,136.85 L352.01,135.80 L351.86,134.76 L351.73,133.73 L351.60,132.69 L351.47,131.65 L351.36,130.62 L351.26,129.58 L351.17,128.55 L351.09,127.51 L351.02,126.47 L350.96,125.44 L350.91,124.40 L350.88,123.36 L350.85,122.30 L350.84,121.24 L350.84,120.18 L350.86,119.12 L350.88,118.07 L350.91,117.02 L350.95,115.99 L351.00,114.97 L351.05,113.97 L351.11,113.00 L351.20,111.83 L351.30,110.66 L351.41,109.51 L351.54,108.39 L351.68,107.28 L351.83,106.22 L351.98,105.19 L352.14,104.22 L352.31,103.30 L352.57,102.11 L352.86,101.12 L353.16,100.23 L353.47,99.32 L353.79,98.28 L354.11,97.00 L354.28,96.18 L354.46,95.31 L354.64,94.38 L354.82,93.41 L355.00,92.41 L355.18,91.37 L355.37,90.32 L355.55,89.24 L355.74,88.16 L355.92,87.08 L356.11,86.00 L356.28,85.00 L356.46,83.97 L356.64,82.93 L356.82,81.86 L357.01,80.78 L357.19,79.70 L357.37,78.62 L357.55,77.54 L357.72,76.48 L357.89,75.43 L358.06,74.40 L358.21,73.40 L358.37,72.34 L358.52,71.30 L358.66,70.28 L358.80,69.28 L358.93,68.29 L359.06,67.31 L359.18,66.33 L359.31,65.36 L359.44,64.38 L359.57,63.39 L359.71,62.40 L359.86,61.38 L360.01,60.32 L360.17,59.24 L360.33,58.15 L360.50,57.06 L360.66,55.99 L360.81,54.96 L360.96,53.97 L361.09,53.03 L361.21,52.17 L361.31,51.40 L361.47,49.94 L361.58,48.73 L361.61,47.75 L361.61,46.98 L361.61,46.40 Z" fill="url(#hv1)" stroke="#d0d0d0" stroke-width="1.3" stroke-opacity="0.9"/>
<path d="M386.64,103.50 L386.65,104.12 L386.67,104.94 L386.69,105.90 L386.71,106.99 L386.73,108.15 L386.76,109.37 L386.80,110.60 L386.84,111.80 L386.88,112.74 L386.92,113.68 L386.96,114.63 L387.00,115.60 L387.05,116.60 L387.10,117.64 L387.16,118.73 L387.22,119.88 L387.28,121.10 L387.34,122.40 L387.38,123.26 L387.42,124.16 L387.47,125.10 L387.52,126.07 L387.56,127.07 L387.61,128.10 L387.66,129.14 L387.72,130.19 L387.77,131.26 L387.82,132.34 L387.87,133.41 L387.93,134.49 L387.98,135.56 L388.03,136.62 L388.09,137.67 L388.14,138.70 L388.19,139.74 L388.25,140.82 L388.31,141.92 L388.36,143.04 L388.42,144.18 L388.48,145.31 L388.54,146.44 L388.60,147.56 L388.65,148.66 L388.71,149.72 L388.77,150.75 L388.83,151.73 L388.88,152.65 L388.94,153.51 L388.99,154.29 L389.04,155.00 L389.19,156.80 L389.29,157.56 L389.44,158.26 L389.74,159.90 L389.86,160.64 L390.00,161.46 L390.16,162.36 L390.32,163.31 L390.50,164.33 L390.69,165.39 L390.88,166.49 L391.07,167.61 L391.27,168.76 L391.47,169.92 L391.67,171.08 L391.87,172.24 L392.06,173.38 L392.24,174.50 L392.40,175.47 L392.56,176.46 L392.72,177.45 L392.88,178.46 L393.05,179.47 L393.21,180.49 L393.38,181.51 L393.54,182.54 L393.70,183.58 L393.86,184.61 L394.02,185.65 L394.17,186.69 L394.32,187.72 L394.47,188.75 L394.61,189.78 L394.74,190.80 L394.87,191.83 L395.00,192.89 L395.13,193.98 L395.25,195.07 L395.38,196.18 L395.50,197.28 L395.61,198.38 L395.73,199.48 L395.84,200.55 L395.94,201.60 L396.04,202.63 L396.13,203.62 L396.22,204.56 L396.30,205.46 L396.37,206.31 L396.44,207.10 L396.56,208.69 L396.64,210.05 L396.69,211.23 L396.72,212.26 L396.73,213.20 L396.74,214.10 L396.74,215.00 L396.75,216.08 L396.74,216.88 L396.72,217.64 L396.65,218.60 L396.54,220.00 L396.47,220.82 L396.40,221.74 L396.31,222.75 L396.22,223.82 L396.12,224.94 L396.01,226.10 L395.89,227.28 L395.77,228.46 L395.63,229.64 L395.49,230.79 L395.34,231.90 L395.19,232.91 L395.03,233.95 L394.86,235.00 L394.68,236.06 L394.50,237.13 L394.31,238.18 L394.11,239.22 L393.92,240.24 L393.72,241.22 L393.52,242.17 L393.33,243.06 L393.14,243.90 L392.81,245.23 L392.48,246.46 L392.15,247.59 L391.82,248.64 L391.49,249.60 L391.16,250.48 L390.84,251.30 L390.05,252.91 L389.28,254.11 L388.74,254.90 L382.94,254.90 L382.40,254.11 L381.63,252.91 L380.84,251.30 L380.52,250.48 L380.19,249.60 L379.86,248.64 L379.53,247.59 L379.20,246.46 L378.87,245.23 L378.54,243.90 L378.35,243.06 L378.16,242.17 L377.96,241.22 L377.76,240.24 L377.57,239.22 L377.37,238.18 L377.18,237.13 L377.00,236.06 L376.82,235.00 L376.65,233.95 L376.49,232.91 L376.34,231.90 L376.19,230.79 L376.05,229.64 L375.91,228.46 L375.79,227.28 L375.67,226.10 L375.56,224.94 L375.46,223.82 L375.37,222.75 L375.28,221.74 L375.21,220.82 L375.14,220.00 L375.03,218.60 L374.96,217.64 L374.94,216.88 L374.93,216.08 L374.94,215.00 L374.94,214.10 L374.95,213.20 L374.96,212.26 L374.99,211.23 L375.04,210.05 L375.12,208.69 L375.24,207.10 L375.31,206.31 L375.38,205.46 L375.46,204.56 L375.55,203.62 L375.64,202.63 L375.74,201.60 L375.84,200.55 L375.95,199.48 L376.07,198.38 L376.18,197.28 L376.30,196.18 L376.43,195.07 L376.55,193.98 L376.68,192.89 L376.81,191.83 L376.94,190.80 L377.07,189.78 L377.21,188.75 L377.36,187.72 L377.51,186.69 L377.66,185.65 L377.82,184.61 L377.98,183.58 L378.14,182.54 L378.30,181.51 L378.47,180.49 L378.63,179.47 L378.80,178.46 L378.96,177.45 L379.12,176.46 L379.28,175.47 L379.44,174.50 L379.62,173.38 L379.81,172.24 L380.01,171.08 L380.21,169.92 L380.41,168.76 L380.61,167.61 L380.80,166.49 L380.99,165.39 L381.18,164.33 L381.36,163.31 L381.52,162.36 L381.68,161.46 L381.82,160.64 L381.94,159.90 L382.24,158.26 L382.39,157.56 L382.49,156.80 L382.64,155.00 L382.69,154.29 L382.74,153.51 L382.80,152.65 L382.85,151.73 L382.91,150.75 L382.97,149.72 L383.03,148.66 L383.08,147.56 L383.14,146.44 L383.20,145.31 L383.26,144.18 L383.32,143.04 L383.37,141.92 L383.43,140.82 L383.49,139.74 L383.54,138.70 L383.59,137.67 L383.65,136.62 L383.70,135.56 L383.75,134.49 L383.81,133.41 L383.86,132.34 L383.91,131.26 L383.97,130.19 L384.02,129.14 L384.07,128.10 L384.12,127.07 L384.16,126.07 L384.21,125.10 L384.26,124.16 L384.30,123.26 L384.34,122.40 L384.40,121.10 L384.46,119.88 L384.52,118.73 L384.58,117.64 L384.63,116.60 L384.68,115.60 L384.72,114.63 L384.76,113.68 L384.80,112.74 L384.84,111.80 L384.88,110.60 L384.92,109.37 L384.95,108.15 L384.97,106.99 L384.99,105.90 L385.01,104.94 L385.03,104.12 L385.04,103.50 Z" fill="#d6ee9b" fill-opacity="0.3" stroke="none"/>
<path d="M386.64,103.50 L386.65,104.12 L386.67,104.94 L386.69,105.90 L386.71,106.99 L386.73,108.15 L386.76,109.37 L386.80,110.60 L386.84,111.80 L386.88,112.74 L386.92,113.68 L386.96,114.63 L387.00,115.60 L387.05,116.60 L387.10,117.64 L387.16,118.73 L387.22,119.88 L387.28,121.10 L387.34,122.40 L387.38,123.26 L387.42,124.16 L387.47,125.10 L387.52,126.07 L387.56,127.07 L387.61,128.10 L387.66,129.14 L387.72,130.19 L387.77,131.26 L387.82,132.34 L387.87,133.41 L387.93,134.49 L387.98,135.56 L388.03,136.62 L388.09,137.67 L388.14,138.70 L388.19,139.74 L388.25,140.82 L388.31,141.92 L388.36,143.04 L388.42,144.18 L388.48,145.31 L388.54,146.44 L388.60,147.56 L388.65,148.66 L388.71,149.72 L388.77,150.75 L388.83,151.73 L388.88,152.65 L388.94,153.51 L388.99,154.29 L389.04,155.00 L389.19,156.80 L389.29,157.56 L389.44,158.26 L389.74,159.90 L389.86,160.64 L390.00,161.46 L390.16,162.36 L390.32,163.31 L390.50,164.33 L390.69,165.39 L390.88,166.49 L391.07,167.61 L391.27,168.76 L391.47,169.92 L391.67,171.08 L391.87,172.24 L392.06,173.38 L392.24,174.50 L392.40,175.47 L392.56,176.46 L392.72,177.45 L392.88,178.46 L393.05,179.47 L393.21,180.49 L393.38,181.51 L393.54,182.54 L393.70,183.58 L393.86,184.61 L394.02,185.65 L394.17,186.69 L394.32,187.72 L394.47,188.75 L394.61,189.78 L394.74,190.80 L394.87,191.83 L395.00,192.89 L395.13,193.98 L395.25,195.07 L395.38,196.18 L395.50,197.28 L395.61,198.38 L395.73,199.48 L395.84,200.55 L395.94,201.60 L396.04,202.63 L396.13,203.62 L396.22,204.56 L396.30,205.46 L396.37,206.31 L396.44,207.10 L396.56,208.69 L396.64,210.05 L396.69,211.23 L396.72,212.26 L396.73,213.20 L396.74,214.10 L396.74,215.00 L396.75,216.08 L396.74,216.88 L396.72,217.64 L396.65,218.60 L396.54,220.00 L396.47,220.82 L396.40,221.74 L396.31,222.75 L396.22,223.82 L396.12,224.94 L396.01,226.10 L395.89,227.28 L395.77,228.46 L395.63,229.64 L395.49,230.79 L395.34,231.90 L395.19,232.91 L395.03,233.95 L394.86,235.00 L394.68,236.06 L394.50,237.13 L394.31,238.18 L394.11,239.22 L393.92,240.24 L393.72,241.22 L393.52,242.17 L393.33,243.06 L393.14,243.90 L392.81,245.23 L392.48,246.46 L392.15,247.59 L391.82,248.64 L391.49,249.60 L391.16,250.48 L390.84,251.30 L390.05,252.91 L389.28,254.11 L388.74,254.90 L382.94,254.90 L382.40,254.11 L381.63,252.91 L380.84,251.30 L380.52,250.48 L380.19,249.60 L379.86,248.64 L379.53,247.59 L379.20,246.46 L378.87,245.23 L378.54,243.90 L378.35,243.06 L378.16,242.17 L377.96,241.22 L377.76,240.24 L377.57,239.22 L377.37,238.18 L377.18,237.13 L377.00,236.06 L376.82,235.00 L376.65,233.95 L376.49,232.91 L376.34,231.90 L376.19,230.79 L376.05,229.64 L375.91,228.46 L375.79,227.28 L375.67,226.10 L375.56,224.94 L375.46,223.82 L375.37,222.75 L375.28,221.74 L375.21,220.82 L375.14,220.00 L375.03,218.60 L374.96,217.64 L374.94,216.88 L374.93,216.08 L374.94,215.00 L374.94,214.10 L374.95,213.20 L374.96,212.26 L374.99,211.23 L375.04,210.05 L375.12,208.69 L375.24,207.10 L375.31,206.31 L375.38,205.46 L375.46,204.56 L375.55,203.62 L375.64,202.63 L375.74,201.60 L375.84,200.55 L375.95,199.48 L376.07,198.38 L376.18,197.28 L376.30,196.18 L376.43,195.07 L376.55,193.98 L376.68,192.89 L376.81,191.83 L376.94,190.80 L377.07,189.78 L377.21,188.75 L377.36,187.72 L377.51,186.69 L377.66,185.65 L377.82,184.61 L377.98,183.58 L378.14,182.54 L378.30,181.51 L378.47,180.49 L378.63,179.47 L378.80,178.46 L378.96,177.45 L379.12,176.46 L379.28,175.47 L379.44,174.50 L379.62,173.38 L379.81,172.24 L380.01,171.08 L380.21,169.92 L380.41,168.76 L380.61,167.61 L380.80,166.49 L380.99,165.39 L381.18,164.33 L381.36,163.31 L381.52,162.36 L381.68,161.46 L381.82,160.64 L381.94,159.90 L382.24,158.26 L382.39,157.56 L382.49,156.80 L382.64,155.00 L382.69,154.29 L382.74,153.51 L382.80,152.65 L382.85,151.73 L382.91,150.75 L382.97,149.72 L383.03,148.66 L383.08,147.56 L383.14,146.44 L383.20,145.31 L383.26,144.18 L383.32,143.04 L383.37,141.92 L383.43,140.82 L383.49,139.74 L383.54,138.70 L383.59,137.67 L383.65,136.62 L383.70,135.56 L383.75,134.49 L383.81,133.41 L383.86,132.34 L383.91,131.26 L383.97,130.19 L384.02,129.14 L384.07,128.10 L384.12,127.07 L384.16,126.07 L384.21,125.10 L384.26,124.16 L384.30,123.26 L384.34,122.40 L384.40,121.10 L384.46,119.88 L384.52,118.73 L384.58,117.64 L384.63,116.60 L384.68,115.60 L384.72,114.63 L384.76,113.68 L384.80,112.74 L384.84,111.80 L384.88,110.60 L384.92,109.37 L384.95,108.15 L384.97,106.99 L384.99,105.90 L385.01,104.94 L385.03,104.12 L385.04,103.50 Z" fill="url(#hv1)" stroke="#d0d0d0" stroke-width="1.3" stroke-opacity="0.9"/>
<path d="M410.07,64.60 L410.07,65.16 L410.19,65.85 L410.35,66.79 L410.54,68.08 L410.77,69.80 L410.86,70.55 L410.96,71.38 L411.07,72.28 L411.18,73.24 L411.29,74.25 L411.41,75.31 L411.54,76.41 L411.67,77.53 L411.80,78.67 L411.93,79.83 L412.06,80.99 L412.20,82.14 L412.33,83.28 L412.47,84.40 L412.59,85.37 L412.71,86.36 L412.84,87.35 L412.97,88.36 L413.10,89.37 L413.23,90.39 L413.37,91.41 L413.50,92.44 L413.64,93.48 L413.77,94.51 L413.91,95.55 L414.04,96.59 L414.18,97.62 L414.31,98.65 L414.44,99.68 L414.57,100.70 L414.70,101.74 L414.83,102.81 L414.97,103.90 L415.11,105.02 L415.25,106.14 L415.38,107.27 L415.52,108.39 L415.66,109.50 L415.79,110.59 L415.92,111.65 L416.04,112.67 L416.16,113.66 L416.28,114.59 L416.38,115.46 L416.48,116.27 L416.57,117.00 L416.77,118.71 L416.87,119.69 L416.94,120.41 L417.05,121.33 L417.27,122.90 L417.38,123.67 L417.52,124.51 L417.67,125.42 L417.83,126.39 L418.01,127.40 L418.19,128.46 L418.37,129.55 L418.55,130.67 L418.73,131.80 L418.91,132.95 L419.07,134.10 L419.22,135.25 L419.36,136.38 L419.47,137.50 L419.56,138.47 L419.64,139.46 L419.71,140.45 L419.78,141.46 L419.85,142.47 L419.90,143.49 L419.96,144.51 L420.00,145.54 L420.04,146.58 L420.08,147.61 L420.10,148.65 L420.13,149.69 L420.15,150.72 L420.16,151.75 L420.17,152.78 L420.17,153.80 L420.17,154.83 L420.15,155.89 L420.13,156.96 L420.11,158.04 L420.07,159.13 L420.04,160.22 L419.99,161.31 L419.95,162.39 L419.89,163.46 L419.84,164.51 L419.78,165.53 L419.72,166.52 L419.66,167.48 L419.60,168.40 L419.53,169.28 L419.47,170.10 L419.35,171.39 L419.23,172.47 L419.09,173.39 L418.95,174.23 L418.80,175.05 L418.65,175.90 L418.49,176.85 L418.33,177.96 L418.17,179.30 L418.08,180.10 L418.00,180.94 L417.91,181.81 L417.83,182.72 L417.74,183.67 L417.65,184.64 L417.56,185.64 L417.47,186.66 L417.38,187.71 L417.29,188.77 L417.19,189.86 L417.09,190.96 L416.99,192.07 L416.89,193.19 L416.79,194.32 L416.68,195.46 L416.57,196.60 L416.48,197.53 L416.39,198.48 L416.29,199.45 L416.19,200.43 L416.10,201.43 L416.00,202.43 L415.90,203.45 L415.79,204.48 L415.69,205.52 L415.59,206.56 L415.48,207.61 L415.37,208.66 L415.26,209.71 L415.16,210.77 L415.05,211.83 L414.93,212.88 L414.82,213.94 L414.71,214.99 L414.60,216.03 L414.48,217.07 L414.37,218.10 L414.25,219.14 L414.13,220.19 L414.01,221.26 L413.89,222.34 L413.76,223.43 L413.63,224.52 L413.50,225.62 L413.36,226.72 L413.23,227.82 L413.10,228.91 L412.97,229.99 L412.84,231.06 L412.71,232.12 L412.58,233.16 L412.45,234.17 L412.33,235.17 L412.21,236.14 L412.09,237.08 L411.98,237.99 L411.87,238.86 L411.77,239.70 L411.60,241.11 L411.43,242.48 L411.26,243.80 L411.10,245.06 L410.95,246.27 L410.81,247.40 L410.67,248.46 L410.55,249.44 L410.43,250.33 L410.33,251.12 L410.24,251.81 L410.17,252.40 L408.97,252.40 L408.90,251.81 L408.81,251.12 L408.71,250.33 L408.59,249.44 L408.47,248.46 L408.33,247.40 L408.19,246.27 L408.04,245.06 L407.88,243.80 L407.71,242.48 L407.54,241.11 L407.37,239.70 L407.27,238.86 L407.16,237.99 L407.05,237.08 L406.93,236.14 L406.81,235.17 L406.69,234.17 L406.56,233.16 L406.43,232.12 L406.30,231.06 L406.17,229.99 L406.04,228.91 L405.91,227.82 L405.78,226.72 L405.64,225.62 L405.51,224.52 L405.38,223.43 L405.25,222.34 L405.13,221.26 L405.01,220.19 L404.89,219.14 L404.77,218.10 L404.66,217.07 L404.54,216.03 L404.43,214.99 L404.32,213.94 L404.21,212.88 L404.09,211.83 L403.98,210.77 L403.88,209.71 L403.77,208.66 L403.66,207.61 L403.55,206.56 L403.45,205.52 L403.35,204.48 L403.24,203.45 L403.14,202.43 L403.04,201.43 L402.95,200.43 L402.85,199.45 L402.75,198.48 L402.66,197.53 L402.57,196.60 L402.46,195.46 L402.35,194.32 L402.25,193.19 L402.15,192.07 L402.05,190.96 L401.95,189.86 L401.85,188.77 L401.76,187.71 L401.67,186.66 L401.58,185.64 L401.49,184.64 L401.40,183.67 L401.31,182.72 L401.23,181.81 L401.14,180.94 L401.06,180.10 L400.97,179.30 L400.81,177.96 L400.65,176.85 L400.49,175.90 L400.34,175.05 L400.19,174.23 L400.05,173.39 L399.91,172.47 L399.79,171.39 L399.67,170.10 L399.61,169.28 L399.54,168.40 L399.48,167.48 L399.42,166.52 L399.36,165.53 L399.30,164.51 L399.25,163.46 L399.20,162.39 L399.15,161.31 L399.10,160.22 L399.07,159.13 L399.03,158.04 L399.01,156.96 L398.99,155.89 L398.97,154.83 L398.97,153.80 L398.97,152.78 L398.98,151.75 L398.99,150.72 L399.01,149.69 L399.04,148.65 L399.06,147.61 L399.10,146.58 L399.14,145.54 L399.18,144.51 L399.24,143.49 L399.29,142.47 L399.36,141.46 L399.43,140.45 L399.50,139.46 L399.58,138.47 L399.67,137.50 L399.78,136.38 L399.92,135.25 L400.07,134.10 L400.23,132.95 L400.41,131.80 L400.59,130.67 L400.77,129.55 L400.95,128.46 L401.13,127.40 L401.31,126.39 L401.47,125.42 L401.62,124.51 L401.76,123.67 L401.87,122.90 L402.09,121.33 L402.20,120.41 L402.27,119.69 L402.37,118.71 L402.57,117.00 L402.66,116.27 L402.76,115.46 L402.86,114.59 L402.98,113.66 L403.10,112.67 L403.22,111.65 L403.35,110.59 L403.48,109.50 L403.62,108.39 L403.76,107.27 L403.89,106.14 L404.03,105.02 L404.17,103.90 L404.31,102.81 L404.44,101.74 L404.57,100.70 L404.70,99.68 L404.83,98.65 L404.96,97.62 L405.10,96.59 L405.23,95.55 L405.37,94.51 L405.50,93.48 L405.64,92.44 L405.77,91.41 L405.91,90.39 L406.04,89.37 L406.17,88.36 L406.30,87.35 L406.43,86.36 L406.55,85.37 L406.67,84.40 L406.81,83.28 L406.94,82.14 L407.08,80.99 L407.21,79.83 L407.34,78.67 L407.47,77.53 L407.60,76.41 L407.73,75.31 L407.85,74.25 L407.96,73.24 L408.07,72.28 L408.18,71.38 L408.28,70.55 L408.37,69.80 L408.60,68.08 L408.79,66.79 L408.95,65.85 L409.07,65.16 L409.07,64.60 Z" fill="#86cfa5" fill-opacity="0.3" stroke="none"/>
<path d="M410.07,64.60 L410.07,65.16 L410.19,65.85 L410.35,66.79 L410.54,68.08 L410.77,69.80 L410.86,70.55 L410.96,71.38 L411.07,72.28 L411.18,73.24 L411.29,74.25 L411.41,75.31 L411.54,76.41 L411.67,77.53 L411.80,78.67 L411.93,79.83 L412.06,80.99 L412.20,82.14 L412.33,83.28 L412.47,84.40 L412.59,85.37 L412.71,86.36 L412.84,87.35 L412.97,88.36 L413.10,89.37 L413.23,90.39 L413.37,91.41 L413.50,92.44 L413.64,93.48 L413.77,94.51 L413.91,95.55 L414.04,96.59 L414.18,97.62 L414.31,98.65 L414.44,99.68 L414.57,100.70 L414.70,101.74 L414.83,102.81 L414.97,103.90 L415.11,105.02 L415.25,106.14 L415.38,107.27 L415.52,108.39 L415.66,109.50 L415.79,110.59 L415.92,111.65 L416.04,112.67 L416.16,113.66 L416.28,114.59 L416.38,115.46 L416.48,116.27 L416.57,117.00 L416.77,118.71 L416.87,119.69 L416.94,120.41 L417.05,121.33 L417.27,122.90 L417.38,123.67 L417.52,124.51 L417.67,125.42 L417.83,126.39 L418.01,127.40 L418.19,128.46 L418.37,129.55 L418.55,130.67 L418.73,131.80 L418.91,132.95 L419.07,134.10 L419.22,135.25 L419.36,136.38 L419.47,137.50 L419.56,138.47 L419.64,139.46 L419.71,140.45 L419.78,141.46 L419.85,142.47 L419.90,143.49 L419.96,144.51 L420.00,145.54 L420.04,146.58 L420.08,147.61 L420.10,148.65 L420.13,149.69 L420.15,150.72 L420.16,151.75 L420.17,152.78 L420.17,153.80 L420.17,154.83 L420.15,155.89 L420.13,156.96 L420.11,158.04 L420.07,159.13 L420.04,160.22 L419.99,161.31 L419.95,162.39 L419.89,163.46 L419.84,164.51 L419.78,165.53 L419.72,166.52 L419.66,167.48 L419.60,168.40 L419.53,169.28 L419.47,170.10 L419.35,171.39 L419.23,172.47 L419.09,173.39 L418.95,174.23 L418.80,175.05 L418.65,175.90 L418.49,176.85 L418.33,177.96 L418.17,179.30 L418.08,180.10 L418.00,180.94 L417.91,181.81 L417.83,182.72 L417.74,183.67 L417.65,184.64 L417.56,185.64 L417.47,186.66 L417.38,187.71 L417.29,188.77 L417.19,189.86 L417.09,190.96 L416.99,192.07 L416.89,193.19 L416.79,194.32 L416.68,195.46 L416.57,196.60 L416.48,197.53 L416.39,198.48 L416.29,199.45 L416.19,200.43 L416.10,201.43 L416.00,202.43 L415.90,203.45 L415.79,204.48 L415.69,205.52 L415.59,206.56 L415.48,207.61 L415.37,208.66 L415.26,209.71 L415.16,210.77 L415.05,211.83 L414.93,212.88 L414.82,213.94 L414.71,214.99 L414.60,216.03 L414.48,217.07 L414.37,218.10 L414.25,219.14 L414.13,220.19 L414.01,221.26 L413.89,222.34 L413.76,223.43 L413.63,224.52 L413.50,225.62 L413.36,226.72 L413.23,227.82 L413.10,228.91 L412.97,229.99 L412.84,231.06 L412.71,232.12 L412.58,233.16 L412.45,234.17 L412.33,235.17 L412.21,236.14 L412.09,237.08 L411.98,237.99 L411.87,238.86 L411.77,239.70 L411.60,241.11 L411.43,242.48 L411.26,243.80 L411.10,245.06 L410.95,246.27 L410.81,247.40 L410.67,248.46 L410.55,249.44 L410.43,250.33 L410.33,251.12 L410.24,251.81 L410.17,252.40 L408.97,252.40 L408.90,251.81 L408.81,251.12 L408.71,250.33 L408.59,249.44 L408.47,248.46 L408.33,247.40 L408.19,246.27 L408.04,245.06 L407.88,243.80 L407.71,242.48 L407.54,241.11 L407.37,239.70 L407.27,238.86 L407.16,237.99 L407.05,237.08 L406.93,236.14 L406.81,235.17 L406.69,234.17 L406.56,233.16 L406.43,232.12 L406.30,231.06 L406.17,229.99 L406.04,228.91 L405.91,227.82 L405.78,226.72 L405.64,225.62 L405.51,224.52 L405.38,223.43 L405.25,222.34 L405.13,221.26 L405.01,220.19 L404.89,219.14 L404.77,218.10 L404.66,217.07 L404.54,216.03 L404.43,214.99 L404.32,213.94 L404.21,212.88 L404.09,211.83 L403.98,210.77 L403.88,209.71 L403.77,208.66 L403.66,207.61 L403.55,206.56 L403.45,205.52 L403.35,204.48 L403.24,203.45 L403.14,202.43 L403.04,201.43 L402.95,200.43 L402.85,199.45 L402.75,198.48 L402.66,197.53 L402.57,196.60 L402.46,195.46 L402.35,194.32 L402.25,193.19 L402.15,192.07 L402.05,190.96 L401.95,189.86 L401.85,188.77 L401.76,187.71 L401.67,186.66 L401.58,185.64 L401.49,184.64 L401.40,183.67 L401.31,182.72 L401.23,181.81 L401.14,180.94 L401.06,180.10 L400.97,179.30 L400.81,177.96 L400.65,176.85 L400.49,175.90 L400.34,175.05 L400.19,174.23 L400.05,173.39 L399.91,172.47 L399.79,171.39 L399.67,170.10 L399.61,169.28 L399.54,168.40 L399.48,167.48 L399.42,166.52 L399.36,165.53 L399.30,164.51 L399.25,163.46 L399.20,162.39 L399.15,161.31 L399.10,160.22 L399.07,159.13 L399.03,158.04 L399.01,156.96 L398.99,155.89 L398.97,154.83 L398.97,153.80 L398.97,152.78 L398.98,151.75 L398.99,150.72 L399.01,149.69 L399.04,148.65 L399.06,147.61 L399.10,146.58 L399.14,145.54 L399.18,144.51 L399.24,143.49 L399.29,142.47 L399.36,141.46 L399.43,140.45 L399.50,139.46 L399.58,138.47 L399.67,137.50 L399.78,136.38 L399.92,135.25 L400.07,134.10 L400.23,132.95 L400.41,131.80 L400.59,130.67 L400.77,129.55 L400.95,128.46 L401.13,127.40 L401.31,126.39 L401.47,125.42 L401.62,124.51 L401.76,123.67 L401.87,122.90 L402.09,121.33 L402.20,120.41 L402.27,119.69 L402.37,118.71 L402.57,117.00 L402.66,116.27 L402.76,115.46 L402.86,114.59 L402.98,113.66 L403.10,112.67 L403.22,111.65 L403.35,110.59 L403.48,109.50 L403.62,108.39 L403.76,107.27 L403.89,106.14 L404.03,105.02 L404.17,103.90 L404.31,102.81 L404.44,101.74 L404.57,100.70 L404.70,99.68 L404.83,98.65 L404.96,97.62 L405.10,96.59 L405.23,95.55 L405.37,94.51 L405.50,93.48 L405.64,92.44 L405.77,91.41 L405.91,90.39 L406.04,89.37 L406.17,88.36 L406.30,87.35 L406.43,86.36 L406.55,85.37 L406.67,84.40 L406.81,83.28 L406.94,82.14 L407.08,80.99 L407.21,79.83 L407.34,78.67 L407.47,77.53 L407.60,76.41 L407.73,75.31 L407.85,74.25 L407.96,73.24 L408.07,72.28 L408.18,71.38 L408.28,70.55 L408.37,69.80 L408.60,68.08 L408.79,66.79 L408.95,65.85 L409.07,65.16 L409.07,64.60 Z" fill="url(#hv1)" stroke="#d0d0d0" stroke-width="1.3" stroke-opacity="0.9"/>
<path d="M434.10,53.20 L434.11,53.93 L434.12,54.96 L434.13,56.16 L434.15,57.43 L434.17,58.65 L434.20,59.70 L434.23,60.79 L434.26,61.59 L434.33,62.60 L434.50,64.30 L434.58,65.02 L434.67,65.84 L434.76,66.73 L434.87,67.68 L434.98,68.69 L435.10,69.74 L435.23,70.82 L435.36,71.92 L435.50,73.02 L435.64,74.13 L435.79,75.22 L435.94,76.28 L436.10,77.30 L436.26,78.30 L436.44,79.30 L436.62,80.30 L436.81,81.30 L437.01,82.30 L437.21,83.29 L437.41,84.29 L437.61,85.29 L437.82,86.29 L438.02,87.29 L438.22,88.29 L438.41,89.30 L438.60,90.30 L438.78,91.31 L438.97,92.34 L439.15,93.39 L439.33,94.44 L439.50,95.49 L439.68,96.54 L439.86,97.58 L440.03,98.61 L440.21,99.62 L440.38,100.61 L440.55,101.58 L440.73,102.51 L440.90,103.40 L441.15,104.63 L441.41,105.80 L441.68,106.91 L441.94,107.98 L442.20,109.02 L442.44,110.03 L442.68,111.03 L442.90,112.01 L443.10,113.00 L443.31,114.09 L443.51,115.15 L443.70,116.18 L443.88,117.19 L444.03,118.19 L444.15,119.19 L444.24,120.19 L444.30,121.20 L444.32,122.22 L444.30,123.23 L444.26,124.24 L444.19,125.25 L444.09,126.26 L443.98,127.27 L443.84,128.28 L443.70,129.30 L443.54,130.32 L443.34,131.35 L443.13,132.37 L442.90,133.40 L442.66,134.43 L442.41,135.45 L442.15,136.48 L441.90,137.50 L441.65,138.53 L441.39,139.57 L441.13,140.62 L440.86,141.66 L440.58,142.68 L440.29,143.69 L440.00,144.66 L439.70,145.60 L439.27,146.81 L438.81,148.00 L438.33,149.14 L437.86,150.21 L437.41,151.21 L437.00,152.10 L436.24,153.62 L435.56,154.80 L435.10,155.60 L431.50,155.60 L431.04,154.80 L430.36,153.62 L429.60,152.10 L429.19,151.21 L428.74,150.21 L428.27,149.14 L427.79,148.00 L427.33,146.81 L426.90,145.60 L426.60,144.66 L426.31,143.69 L426.02,142.68 L425.74,141.66 L425.47,140.62 L425.21,139.57 L424.95,138.53 L424.70,137.50 L424.45,136.48 L424.19,135.45 L423.94,134.43 L423.70,133.40 L423.47,132.37 L423.26,131.35 L423.06,130.32 L422.90,129.30 L422.76,128.28 L422.62,127.27 L422.51,126.26 L422.41,125.25 L422.34,124.24 L422.30,123.23 L422.28,122.22 L422.30,121.20 L422.36,120.19 L422.45,119.19 L422.57,118.19 L422.73,117.19 L422.90,116.18 L423.09,115.15 L423.29,114.09 L423.50,113.00 L423.70,112.01 L423.92,111.03 L424.16,110.03 L424.40,109.02 L424.66,107.98 L424.92,106.91 L425.19,105.80 L425.45,104.63 L425.70,103.40 L425.87,102.51 L426.05,101.58 L426.22,100.61 L426.39,99.62 L426.57,98.61 L426.74,97.58 L426.92,96.54 L427.10,95.49 L427.27,94.44 L427.45,93.39 L427.63,92.34 L427.82,91.31 L428.00,90.30 L428.19,89.30 L428.38,88.29 L428.58,87.29 L428.78,86.29 L428.99,85.29 L429.19,84.29 L429.39,83.29 L429.59,82.30 L429.79,81.30 L429.98,80.30 L430.16,79.30 L430.34,78.30 L430.50,77.30 L430.66,76.28 L430.81,75.22 L430.96,74.13 L431.10,73.02 L431.24,71.92 L431.37,70.82 L431.50,69.74 L431.62,68.69 L431.73,67.68 L431.84,66.73 L431.93,65.84 L432.02,65.02 L432.10,64.30 L432.27,62.60 L432.34,61.59 L432.37,60.79 L432.40,59.70 L432.43,58.65 L432.45,57.43 L432.47,56.16 L432.48,54.96 L432.49,53.93 L432.50,53.20 Z" fill="#3d95b8" fill-opacity="0.3" stroke="none"/>
<path d="M434.10,53.20 L434.11,53.93 L434.12,54.96 L434.13,56.16 L434.15,57.43 L434.17,58.65 L434.20,59.70 L434.23,60.79 L434.26,61.59 L434.33,62.60 L434.50,64.30 L434.58,65.02 L434.67,65.84 L434.76,66.73 L434.87,67.68 L434.98,68.69 L435.10,69.74 L435.23,70.82 L435.36,71.92 L435.50,73.02 L435.64,74.13 L435.79,75.22 L435.94,76.28 L436.10,77.30 L436.26,78.30 L436.44,79.30 L436.62,80.30 L436.81,81.30 L437.01,82.30 L437.21,83.29 L437.41,84.29 L437.61,85.29 L437.82,86.29 L438.02,87.29 L438.22,88.29 L438.41,89.30 L438.60,90.30 L438.78,91.31 L438.97,92.34 L439.15,93.39 L439.33,94.44 L439.50,95.49 L439.68,96.54 L439.86,97.58 L440.03,98.61 L440.21,99.62 L440.38,100.61 L440.55,101.58 L440.73,102.51 L440.90,103.40 L441.15,104.63 L441.41,105.80 L441.68,106.91 L441.94,107.98 L442.20,109.02 L442.44,110.03 L442.68,111.03 L442.90,112.01 L443.10,113.00 L443.31,114.09 L443.51,115.15 L443.70,116.18 L443.88,117.19 L444.03,118.19 L444.15,119.19 L444.24,120.19 L444.30,121.20 L444.32,122.22 L444.30,123.23 L444.26,124.24 L444.19,125.25 L444.09,126.26 L443.98,127.27 L443.84,128.28 L443.70,129.30 L443.54,130.32 L443.34,131.35 L443.13,132.37 L442.90,133.40 L442.66,134.43 L442.41,135.45 L442.15,136.48 L441.90,137.50 L441.65,138.53 L441.39,139.57 L441.13,140.62 L440.86,141.66 L440.58,142.68 L440.29,143.69 L440.00,144.66 L439.70,145.60 L439.27,146.81 L438.81,148.00 L438.33,149.14 L437.86,150.21 L437.41,151.21 L437.00,152.10 L436.24,153.62 L435.56,154.80 L435.10,155.60 L431.50,155.60 L431.04,154.80 L430.36,153.62 L429.60,152.10 L429.19,151.21 L428.74,150.21 L428.27,149.14 L427.79,148.00 L427.33,146.81 L426.90,145.60 L426.60,144.66 L426.31,143.69 L426.02,142.68 L425.74,141.66 L425.47,140.62 L425.21,139.57 L424.95,138.53 L424.70,137.50 L424.45,136.48 L424.19,135.45 L423.94,134.43 L423.70,133.40 L423.47,132.37 L423.26,131.35 L423.06,130.32 L422.90,129.30 L422.76,128.28 L422.62,127.27 L422.51,126.26 L422.41,125.25 L422.34,124.24 L422.30,123.23 L422.28,122.22 L422.30,121.20 L422.36,120.19 L422.45,119.19 L422.57,118.19 L422.73,117.19 L422.90,116.18 L423.09,115.15 L423.29,114.09 L423.50,113.00 L423.70,112.01 L423.92,111.03 L424.16,110.03 L424.40,109.02 L424.66,107.98 L424.92,106.91 L425.19,105.80 L425.45,104.63 L425.70,103.40 L425.87,102.51 L426.05,101.58 L426.22,100.61 L426.39,99.62 L426.57,98.61 L426.74,97.58 L426.92,96.54 L427.10,95.49 L427.27,94.44 L427.45,93.39 L427.63,92.34 L427.82,91.31 L428.00,90.30 L428.19,89.30 L428.38,88.29 L428.58,87.29 L428.78,86.29 L428.99,85.29 L429.19,84.29 L429.39,83.29 L429.59,82.30 L429.79,81.30 L429.98,80.30 L430.16,79.30 L430.34,78.30 L430.50,77.30 L430.66,76.28 L430.81,75.22 L430.96,74.13 L431.10,73.02 L431.24,71.92 L431.37,70.82 L431.50,69.74 L431.62,68.69 L431.73,67.68 L431.84,66.73 L431.93,65.84 L432.02,65.02 L432.10,64.30 L432.27,62.60 L432.34,61.59 L432.37,60.79 L432.40,59.70 L432.43,58.65 L432.45,57.43 L432.47,56.16 L432.48,54.96 L432.49,53.93 L432.50,53.20 Z" fill="url(#hv1)" stroke="#d0d0d0" stroke-width="1.3" stroke-opacity="0.9"/>
</g>
<line x1="267.27" y1="323.5" x2="457.11" y2="323.5" stroke="#b0b0b0" stroke-opacity="0.6" stroke-width="1" stroke-dasharray="2.9 1.26"/>
<line x1="267.27" y1="272.82" x2="457.11" y2="272.82" stroke="#b0b0b0" stroke-opacity="0.6" stroke-width="1" stroke-dasharray="2.9 1.26"/>
<line x1="267.27" y1="222.15" x2="457.11" y2="222.15" stroke="#b0b0b0" stroke-opacity="0.6" stroke-width="1" stroke-dasharray="2.9 1.26"/>
<line x1="267.27" y1="171.47" x2="457.11" y2="171.47" stroke="#b0b0b0" stroke-opacity="0.6" stroke-width="1" stroke-dasharray="2.9 1.26"/>
<line x1="267.27" y1="120.8" x2="457.11" y2="120.8" stroke="#b0b0b0" stroke-opacity="0.6" stroke-width="1" stroke-dasharray="2.9 1.26"/>
<line x1="267.27" y1="70.12" x2="457.11" y2="70.12" stroke="#b0b0b0" stroke-opacity="0.6" stroke-width="1" stroke-dasharray="2.9 1.26"/>
<line x1="267.27" y1="19.45" x2="457.11" y2="19.45" stroke="#b0b0b0" stroke-opacity="0.6" stroke-width="1" stroke-dasharray="2.9 1.26"/>
<g clip-path="url(#bx1)">
<line x1="290.92" y1="46.5" x2="290.92" y2="84.5" stroke="#1a1a1a" stroke-width="1.25"/>
<line x1="290.92" y1="111.5" x2="290.92" y2="129.5" stroke="#1a1a1a" stroke-width="1.25"/>
<line x1="287.82" y1="46.5" x2="294.02" y2="46.5" stroke="#1a1a1a" stroke-width="1.25"/>
<line x1="287.82" y1="129.5" x2="294.02" y2="129.5" stroke="#1a1a1a" stroke-width="1.25"/>
<rect x="286.5" y="84.5" width="9" height="27" fill="#dd4a4c" fill-opacity="0.68" stroke="#303030" stroke-width="1.1" stroke-opacity="0.72"/>
<line x1="286.2" y1="99" x2="295.9" y2="99" stroke="#fff" stroke-width="2"/>
<path d="M290.92,24.9 L293.12,27.1 L290.92,29.3 L288.72,27.1 Z" fill="#000"/>
<path d="M290.92,31.2 L293.12,33.4 L290.92,35.6 L288.72,33.4 Z" fill="#000"/>
<path d="M288.07,92.75 L293.77,98.45 M288.07,98.45 L293.77,92.75" stroke="#ff0000" stroke-width="1.75" fill="none"/>
<line x1="314.65" y1="64.5" x2="314.65" y2="153.5" stroke="#1a1a1a" stroke-width="1.25"/>
<line x1="314.65" y1="216.5" x2="314.65" y2="286.5" stroke="#1a1a1a" stroke-width="1.25"/>
<line x1="311.55" y1="64.5" x2="317.75" y2="64.5" stroke="#1a1a1a" stroke-width="1.25"/>
<line x1="311.55" y1="286.5" x2="317.75" y2="286.5" stroke="#1a1a1a" stroke-width="1.25"/>
<rect x="309.5" y="153.5" width="10" height="63" fill="#f98e52" fill-opacity="0.68" stroke="#303030" stroke-width="1.1" stroke-opacity="0.72"/>
<line x1="309.2" y1="190" x2="319.9" y2="190" stroke="#fff" stroke-width="2"/>
<path d="M311.8,182.45 L317.5,188.15 M311.8,188.15 L317.5,182.45" stroke="#ff0000" stroke-width="1.75" fill="none"/>
<line x1="338.38" y1="78.5" x2="338.38" y2="106.5" stroke="#1a1a1a" stroke-width="1.25"/>
<line x1="338.38" y1="130.5" x2="338.38" y2="148.5" stroke="#1a1a1a" stroke-width="1.25"/>
<line x1="335.28" y1="78.5" x2="341.48" y2="78.5" stroke="#1a1a1a" stroke-width="1.25"/>
<line x1="335.28" y1="148.5" x2="341.48" y2="148.5" stroke="#1a1a1a" stroke-width="1.25"/>
<rect x="333.5" y="106.5" width="10" height="24" fill="#fed481" fill-opacity="0.68" stroke="#303030" stroke-width="1.1" stroke-opacity="0.72"/>
<line x1="333.2" y1="119" x2="343.9" y2="119" stroke="#fff" stroke-width="2"/>
<path d="M338.38,63 L340.58,65.2 L338.38,67.4 L336.18,65.2 Z" fill="#000"/>
<path d="M338.38,64.1 L340.58,66.3 L338.38,68.5 L336.18,66.3 Z" fill="#000"/>
<path d="M335.53,113.35 L341.23,119.05 M335.53,119.05 L341.23,113.35" stroke="#ff0000" stroke-width="1.75" fill="none"/>
<line x1="362.11" y1="46.5" x2="362.11" y2="99.5" stroke="#1a1a1a" stroke-width="1.25"/>
<line x1="362.11" y1="138.5" x2="362.11" y2="159.5" stroke="#1a1a1a" stroke-width="1.25"/>
<line x1="359.01" y1="46.5" x2="365.21" y2="46.5" stroke="#1a1a1a" stroke-width="1.25"/>
<line x1="359.01" y1="159.5" x2="365.21" y2="159.5" stroke="#1a1a1a" stroke-width="1.25"/>
<rect x="357.5" y="99.5" width="9" height="39" fill="#ffffbe" fill-opacity="0.68" stroke="#303030" stroke-width="1.1" stroke-opacity="0.72"/>
<line x1="357.2" y1="116" x2="366.9" y2="116" stroke="#fff" stroke-width="2"/>
<path d="M359.26,113.45 L364.96,119.15 M359.26,119.15 L364.96,113.45" stroke="#ff0000" stroke-width="1.75" fill="none"/>
<line x1="385.84" y1="111.5" x2="385.84" y2="178.5" stroke="#1a1a1a" stroke-width="1.25"/>
<line x1="385.84" y1="223.5" x2="385.84" y2="254.5" stroke="#1a1a1a" stroke-width="1.25"/>
<line x1="382.74" y1="111.5" x2="388.94" y2="111.5" stroke="#1a1a1a" stroke-width="1.25"/>
<line x1="382.74" y1="254.5" x2="388.94" y2="254.5" stroke="#1a1a1a" stroke-width="1.25"/>
<rect x="380.5" y="178.5" width="10" height="45" fill="#d6ee9b" fill-opacity="0.68" stroke="#303030" stroke-width="1.1" stroke-opacity="0.72"/>
<line x1="380.2" y1="204" x2="390.9" y2="204" stroke="#fff" stroke-width="2"/>
<path d="M385.84,101.8 L388.04,104 L385.84,106.2 L383.64,104 Z" fill="#000"/>
<path d="M382.99,195.65 L388.69,201.35 M382.99,201.35 L388.69,195.65" stroke="#ff0000" stroke-width="1.75" fill="none"/>
<line x1="409.57" y1="64.5" x2="409.57" y2="133.5" stroke="#1a1a1a" stroke-width="1.25"/>
<line x1="409.57" y1="189.5" x2="409.57" y2="252.5" stroke="#1a1a1a" stroke-width="1.25"/>
<line x1="406.47" y1="64.5" x2="412.67" y2="64.5" stroke="#1a1a1a" stroke-width="1.25"/>
<line x1="406.47" y1="252.5" x2="412.67" y2="252.5" stroke="#1a1a1a" stroke-width="1.25"/>
<rect x="404.5" y="133.5" width="10" height="56" fill="#86cfa5" fill-opacity="0.68" stroke="#303030" stroke-width="1.1" stroke-opacity="0.72"/>
<line x1="404.2" y1="158" x2="414.9" y2="158" stroke="#fff" stroke-width="2"/>
<path d="M406.72,156.35 L412.42,162.05 M406.72,162.05 L412.42,156.35" stroke="#ff0000" stroke-width="1.75" fill="none"/>
<line x1="433.3" y1="59.5" x2="433.3" y2="104.5" stroke="#1a1a1a" stroke-width="1.25"/>
<line x1="433.3" y1="136.5" x2="433.3" y2="155.5" stroke="#1a1a1a" stroke-width="1.25"/>
<line x1="430.2" y1="59.5" x2="436.4" y2="59.5" stroke="#1a1a1a" stroke-width="1.25"/>
<line x1="430.2" y1="155.5" x2="436.4" y2="155.5" stroke="#1a1a1a" stroke-width="1.25"/>
<rect x="428.5" y="104.5" width="10" height="32" fill="#3d95b8" fill-opacity="0.68" stroke="#303030" stroke-width="1.1" stroke-opacity="0.72"/>
<line x1="428.2" y1="122" x2="438.9" y2="122" stroke="#fff" stroke-width="2"/>
<path d="M433.3,51.4 L435.5,53.6 L433.3,55.8 L431.1,53.6 Z" fill="#000"/>
<path d="M430.45,116.45 L436.15,122.15 M430.45,122.15 L436.15,116.45" stroke="#ff0000" stroke-width="1.75" fill="none"/>
</g>
<line x1="257.45" y1="18.95" x2="257.45" y2="324" stroke="#1a1a1a" stroke-width="1"/>
<line x1="253.95" y1="323.5" x2="257.45" y2="323.5" stroke="#1a1a1a" stroke-width="1"/>
<text transform="translate(248.95,323.5) rotate(-90)" text-anchor="middle" font-size="10.38" textLength="21.6" lengthAdjust="spacingAndGlyphs">0.84</text>
<line x1="253.95" y1="272.82" x2="257.45" y2="272.82" stroke="#1a1a1a" stroke-width="1"/>
<text transform="translate(248.95,272.82) rotate(-90)" text-anchor="middle" font-size="10.38" textLength="21.6" lengthAdjust="spacingAndGlyphs">0.85</text>
<line x1="253.95" y1="222.15" x2="257.45" y2="222.15" stroke="#1a1a1a" stroke-width="1"/>
<text transform="translate(248.95,222.15) rotate(-90)" text-anchor="middle" font-size="10.38" textLength="21.6" lengthAdjust="spacingAndGlyphs">0.86</text>
<line x1="253.95" y1="171.47" x2="257.45" y2="171.47" stroke="#1a1a1a" stroke-width="1"/>
<text transform="translate(248.95,171.47) rotate(-90)" text-anchor="middle" font-size="10.38" textLength="21.6" lengthAdjust="spacingAndGlyphs">0.87</text>
<line x1="253.95" y1="120.8" x2="257.45" y2="120.8" stroke="#1a1a1a" stroke-width="1"/>
<text transform="translate(248.95,120.8) rotate(-90)" text-anchor="middle" font-size="10.38" textLength="21.6" lengthAdjust="spacingAndGlyphs">0.88</text>
<line x1="253.95" y1="70.12" x2="257.45" y2="70.12" stroke="#1a1a1a" stroke-width="1"/>
<text transform="translate(248.95,70.12) rotate(-90)" text-anchor="middle" font-size="10.38" textLength="21.6" lengthAdjust="spacingAndGlyphs">0.89</text>
<line x1="253.95" y1="19.45" x2="257.45" y2="19.45" stroke="#1a1a1a" stroke-width="1"/>
<text transform="translate(248.95,19.45) rotate(-90)" text-anchor="middle" font-size="10.38" textLength="21.6" lengthAdjust="spacingAndGlyphs">0.90</text>
<line x1="290.42" y1="333.7" x2="433.8" y2="333.7" stroke="#1a1a1a" stroke-width="1"/>
<line x1="290.92" y1="333.7" x2="290.92" y2="337.1" stroke="#1a1a1a" stroke-width="1"/>
<text transform="translate(289.49,345.71) rotate(-45)" text-anchor="end" font-size="9.99" textLength="37.13" lengthAdjust="spacingAndGlyphs">FlexFair</text>
<line x1="314.65" y1="333.7" x2="314.65" y2="337.1" stroke="#1a1a1a" stroke-width="1"/>
<text transform="translate(313.22,345.71) rotate(-45)" text-anchor="end" font-size="9.99" textLength="35.13" lengthAdjust="spacingAndGlyphs">FedAvg</text>
<line x1="338.38" y1="333.7" x2="338.38" y2="337.1" stroke="#1a1a1a" stroke-width="1"/>
<text transform="translate(336.95,345.71) rotate(-45)" text-anchor="end" font-size="9.99" textLength="42.05" lengthAdjust="spacingAndGlyphs">FedNova</text>
<line x1="362.11" y1="333.7" x2="362.11" y2="337.1" stroke="#1a1a1a" stroke-width="1"/>
<text transform="translate(360.68,345.71) rotate(-45)" text-anchor="end" font-size="9.99" textLength="37.99" lengthAdjust="spacingAndGlyphs">FedProx</text>
<line x1="385.84" y1="333.7" x2="385.84" y2="337.1" stroke="#1a1a1a" stroke-width="1"/>
<text transform="translate(384.41,345.71) rotate(-45)" text-anchor="end" font-size="9.99" textLength="51.23" lengthAdjust="spacingAndGlyphs">SCAFFOLD</text>
<line x1="409.57" y1="333.7" x2="409.57" y2="337.1" stroke="#1a1a1a" stroke-width="1"/>
<text transform="translate(408.14,345.71) rotate(-45)" text-anchor="end" font-size="9.99" textLength="46.43" lengthAdjust="spacingAndGlyphs">FairMixup</text>
<line x1="433.3" y1="333.7" x2="433.3" y2="337.1" stroke="#1a1a1a" stroke-width="1"/>
<text transform="translate(431.87,345.71) rotate(-45)" text-anchor="end" font-size="9.99" textLength="34.49" lengthAdjust="spacingAndGlyphs">FairFed</text>
<text x="361.95" y="8.7" text-anchor="middle" font-size="11.99" textLength="31.23" lengthAdjust="spacingAndGlyphs">Polyp</text>
<g clip-path="url(#ax2)">
<path d="M523.80,5.00 L523.76,5.66 L523.71,6.55 L523.65,7.61 L523.58,8.79 L523.52,10.03 L523.45,11.28 L523.39,12.46 L523.34,13.54 L523.30,14.45 L523.28,15.67 L523.31,16.58 L523.35,17.38 L523.36,18.28 L523.30,19.50 L523.23,20.36 L523.14,21.33 L523.03,22.37 L522.91,23.46 L522.79,24.59 L522.66,25.72 L522.53,26.83 L522.41,27.90 L522.30,28.90 L522.16,30.11 L522.01,31.27 L521.86,32.39 L521.72,33.49 L521.61,34.59 L521.53,35.68 L521.50,36.80 L521.52,37.91 L521.59,39.01 L521.69,40.10 L521.82,41.20 L521.97,42.33 L522.13,43.49 L522.30,44.70 L522.44,45.69 L522.59,46.71 L522.76,47.75 L522.93,48.82 L523.12,49.90 L523.31,50.98 L523.50,52.06 L523.70,53.14 L523.90,54.20 L524.10,55.24 L524.30,56.26 L524.51,57.26 L524.72,58.27 L524.94,59.28 L525.17,60.31 L525.40,61.37 L525.64,62.46 L525.90,63.60 L526.12,64.57 L526.36,65.59 L526.62,66.64 L526.88,67.71 L527.14,68.80 L527.41,69.89 L527.67,70.98 L527.92,72.05 L528.17,73.10 L528.39,74.12 L528.60,75.10 L528.84,76.24 L529.07,77.35 L529.30,78.42 L529.51,79.46 L529.70,80.49 L529.87,81.51 L530.01,82.53 L530.12,83.56 L530.20,84.60 L530.24,85.65 L530.24,86.69 L530.21,87.74 L530.15,88.78 L530.07,89.82 L529.97,90.86 L529.86,91.91 L529.73,92.95 L529.60,94.00 L529.46,95.05 L529.30,96.11 L529.13,97.16 L528.94,98.22 L528.73,99.28 L528.52,100.34 L528.29,101.39 L528.05,102.45 L527.80,103.50 L527.53,104.55 L527.24,105.59 L526.93,106.64 L526.61,107.68 L526.28,108.72 L525.95,109.76 L525.62,110.81 L525.30,111.85 L525.00,112.90 L524.70,113.97 L524.40,115.08 L524.10,116.20 L523.81,117.33 L523.52,118.44 L523.24,119.52 L522.98,120.55 L522.73,121.52 L522.50,122.40 L522.13,123.86 L521.79,125.19 L521.51,126.35 L521.27,127.30 L521.10,128.00 L516.70,128.00 L516.53,127.30 L516.29,126.35 L516.01,125.19 L515.67,123.86 L515.30,122.40 L515.07,121.52 L514.82,120.55 L514.56,119.52 L514.28,118.44 L513.99,117.33 L513.70,116.20 L513.40,115.08 L513.10,113.97 L512.80,112.90 L512.50,111.85 L512.18,110.81 L511.85,109.76 L511.52,108.72 L511.19,107.68 L510.87,106.64 L510.56,105.59 L510.27,104.55 L510.00,103.50 L509.75,102.45 L509.51,101.39 L509.28,100.34 L509.07,99.28 L508.86,98.22 L508.67,97.16 L508.50,96.11 L508.34,95.05 L508.20,94.00 L508.07,92.95 L507.94,91.91 L507.83,90.86 L507.73,89.82 L507.65,88.78 L507.59,87.74 L507.56,86.69 L507.56,85.65 L507.60,84.60 L507.68,83.56 L507.79,82.53 L507.93,81.51 L508.10,80.49 L508.29,79.46 L508.50,78.42 L508.73,77.35 L508.96,76.24 L509.20,75.10 L509.41,74.12 L509.63,73.10 L509.88,72.05 L510.13,70.98 L510.39,69.89 L510.66,68.80 L510.92,67.71 L511.18,66.64 L511.44,65.59 L511.68,64.57 L511.90,63.60 L512.16,62.46 L512.40,61.37 L512.63,60.31 L512.86,59.28 L513.08,58.27 L513.29,57.26 L513.50,56.26 L513.70,55.24 L513.90,54.20 L514.10,53.14 L514.30,52.06 L514.49,50.98 L514.68,49.90 L514.87,48.82 L515.04,47.75 L515.21,46.71 L515.36,45.69 L515.50,44.70 L515.67,43.49 L515.83,42.33 L515.98,41.20 L516.11,40.10 L516.21,39.01 L516.28,37.91 L516.30,36.80 L516.27,35.68 L516.19,34.59 L516.08,33.49 L515.94,32.39 L515.79,31.27 L515.64,30.11 L515.50,28.90 L515.39,27.90 L515.27,26.83 L515.14,25.72 L515.01,24.59 L514.89,23.46 L514.77,22.37 L514.66,21.33 L514.57,20.36 L514.50,19.50 L514.44,18.28 L514.45,17.38 L514.49,16.58 L514.52,15.67 L514.50,14.45 L514.46,13.54 L514.41,12.46 L514.35,11.28 L514.28,10.03 L514.22,8.79 L514.15,7.61 L514.09,6.55 L514.04,5.66 L514.00,5.00 Z" fill="#dd4a4c" fill-opacity="0.3" stroke="none"/>
<path d="M523.80,5.00 L523.76,5.66 L523.71,6.55 L523.65,7.61 L523.58,8.79 L523.52,10.03 L523.45,11.28 L523.39,12.46 L523.34,13.54 L523.30,14.45 L523.28,15.67 L523.31,16.58 L523.35,17.38 L523.36,18.28 L523.30,19.50 L523.23,20.36 L523.14,21.33 L523.03,22.37 L522.91,23.46 L522.79,24.59 L522.66,25.72 L522.53,26.83 L522.41,27.90 L522.30,28.90 L522.16,30.11 L522.01,31.27 L521.86,32.39 L521.72,33.49 L521.61,34.59 L521.53,35.68 L521.50,36.80 L521.52,37.91 L521.59,39.01 L521.69,40.10 L521.82,41.20 L521.97,42.33 L522.13,43.49 L522.30,44.70 L522.44,45.69 L522.59,46.71 L522.76,47.75 L522.93,48.82 L523.12,49.90 L523.31,50.98 L523.50,52.06 L523.70,53.14 L523.90,54.20 L524.10,55.24 L524.30,56.26 L524.51,57.26 L524.72,58.27 L524.94,59.28 L525.17,60.31 L525.40,61.37 L525.64,62.46 L525.90,63.60 L526.12,64.57 L526.36,65.59 L526.62,66.64 L526.88,67.71 L527.14,68.80 L527.41,69.89 L527.67,70.98 L527.92,72.05 L528.17,73.10 L528.39,74.12 L528.60,75.10 L528.84,76.24 L529.07,77.35 L529.30,78.42 L529.51,79.46 L529.70,80.49 L529.87,81.51 L530.01,82.53 L530.12,83.56 L530.20,84.60 L530.24,85.65 L530.24,86.69 L530.21,87.74 L530.15,88.78 L530.07,89.82 L529.97,90.86 L529.86,91.91 L529.73,92.95 L529.60,94.00 L529.46,95.05 L529.30,96.11 L529.13,97.16 L528.94,98.22 L528.73,99.28 L528.52,100.34 L528.29,101.39 L528.05,102.45 L527.80,103.50 L527.53,104.55 L527.24,105.59 L526.93,106.64 L526.61,107.68 L526.28,108.72 L525.95,109.76 L525.62,110.81 L525.30,111.85 L525.00,112.90 L524.70,113.97 L524.40,115.08 L524.10,116.20 L523.81,117.33 L523.52,118.44 L523.24,119.52 L522.98,120.55 L522.73,121.52 L522.50,122.40 L522.13,123.86 L521.79,125.19 L521.51,126.35 L521.27,127.30 L521.10,128.00 L516.70,128.00 L516.53,127.30 L516.29,126.35 L516.01,125.19 L515.67,123.86 L515.30,122.40 L515.07,121.52 L514.82,120.55 L514.56,119.52 L514.28,118.44 L513.99,117.33 L513.70,116.20 L513.40,115.08 L513.10,113.97 L512.80,112.90 L512.50,111.85 L512.18,110.81 L511.85,109.76 L511.52,108.72 L511.19,107.68 L510.87,106.64 L510.56,105.59 L510.27,104.55 L510.00,103.50 L509.75,102.45 L509.51,101.39 L509.28,100.34 L509.07,99.28 L508.86,98.22 L508.67,97.16 L508.50,96.11 L508.34,95.05 L508.20,94.00 L508.07,92.95 L507.94,91.91 L507.83,90.86 L507.73,89.82 L507.65,88.78 L507.59,87.74 L507.56,86.69 L507.56,85.65 L507.60,84.60 L507.68,83.56 L507.79,82.53 L507.93,81.51 L508.10,80.49 L508.29,79.46 L508.50,78.42 L508.73,77.35 L508.96,76.24 L509.20,75.10 L509.41,74.12 L509.63,73.10 L509.88,72.05 L510.13,70.98 L510.39,69.89 L510.66,68.80 L510.92,67.71 L511.18,66.64 L511.44,65.59 L511.68,64.57 L511.90,63.60 L512.16,62.46 L512.40,61.37 L512.63,60.31 L512.86,59.28 L513.08,58.27 L513.29,57.26 L513.50,56.26 L513.70,55.24 L513.90,54.20 L514.10,53.14 L514.30,52.06 L514.49,50.98 L514.68,49.90 L514.87,48.82 L515.04,47.75 L515.21,46.71 L515.36,45.69 L515.50,44.70 L515.67,43.49 L515.83,42.33 L515.98,41.20 L516.11,40.10 L516.21,39.01 L516.28,37.91 L516.30,36.80 L516.27,35.68 L516.19,34.59 L516.08,33.49 L515.94,32.39 L515.79,31.27 L515.64,30.11 L515.50,28.90 L515.39,27.90 L515.27,26.83 L515.14,25.72 L515.01,24.59 L514.89,23.46 L514.77,22.37 L514.66,21.33 L514.57,20.36 L514.50,19.50 L514.44,18.28 L514.45,17.38 L514.49,16.58 L514.52,15.67 L514.50,14.45 L514.46,13.54 L514.41,12.46 L514.35,11.28 L514.28,10.03 L514.22,8.79 L514.15,7.61 L514.09,6.55 L514.04,5.66 L514.00,5.00 Z" fill="url(#hv2)" stroke="#d0d0d0" stroke-width="1.3" stroke-opacity="0.9"/>
<path d="M543.53,60.70 L543.79,61.46 L544.13,62.51 L544.55,63.76 L545.05,65.12 L545.63,66.50 L546.12,67.51 L546.70,68.58 L547.32,69.70 L547.96,70.85 L548.58,72.01 L549.15,73.16 L549.63,74.30 L550.01,75.38 L550.33,76.40 L550.60,77.41 L550.83,78.45 L551.06,79.56 L551.28,80.80 L551.53,82.20 L551.68,83.04 L551.83,83.93 L551.98,84.87 L552.14,85.85 L552.30,86.86 L552.46,87.90 L552.61,88.96 L552.76,90.02 L552.90,91.10 L553.03,92.17 L553.14,93.23 L553.24,94.28 L553.33,95.30 L553.40,96.31 L553.47,97.32 L553.53,98.32 L553.58,99.33 L553.62,100.34 L553.66,101.35 L553.68,102.35 L553.69,103.36 L553.68,104.37 L553.67,105.38 L553.64,106.38 L553.59,107.39 L553.53,108.40 L553.45,109.41 L553.36,110.44 L553.25,111.48 L553.12,112.52 L552.98,113.56 L552.83,114.60 L552.67,115.63 L552.50,116.65 L552.32,117.66 L552.13,118.65 L551.94,119.63 L551.74,120.58 L551.53,121.50 L551.24,122.66 L550.93,123.77 L550.59,124.84 L550.23,125.89 L549.87,126.91 L549.50,127.92 L549.14,128.93 L548.78,129.94 L548.44,130.96 L548.13,132.00 L547.83,133.05 L547.54,134.11 L547.26,135.17 L546.99,136.23 L546.72,137.29 L546.47,138.35 L546.22,139.40 L545.98,140.44 L545.75,141.48 L545.53,142.50 L545.29,143.67 L545.06,144.91 L544.83,146.18 L544.62,147.44 L544.42,148.66 L544.24,149.79 L544.08,150.79 L543.94,151.65 L543.83,152.30 L541.43,152.30 L541.32,151.65 L541.18,150.79 L541.02,149.79 L540.84,148.66 L540.64,147.44 L540.43,146.18 L540.20,144.91 L539.97,143.67 L539.73,142.50 L539.51,141.48 L539.28,140.44 L539.04,139.40 L538.79,138.35 L538.54,137.29 L538.27,136.23 L538.00,135.17 L537.72,134.11 L537.43,133.05 L537.13,132.00 L536.82,130.96 L536.48,129.94 L536.12,128.93 L535.76,127.92 L535.39,126.91 L535.03,125.89 L534.67,124.84 L534.33,123.77 L534.02,122.66 L533.73,121.50 L533.52,120.58 L533.32,119.63 L533.13,118.65 L532.94,117.66 L532.76,116.65 L532.59,115.63 L532.43,114.60 L532.28,113.56 L532.14,112.52 L532.01,111.48 L531.90,110.44 L531.81,109.41 L531.73,108.40 L531.67,107.39 L531.62,106.38 L531.59,105.38 L531.58,104.37 L531.57,103.36 L531.58,102.35 L531.60,101.35 L531.64,100.34 L531.68,99.33 L531.73,98.32 L531.79,97.32 L531.86,96.31 L531.93,95.30 L532.02,94.28 L532.12,93.23 L532.23,92.17 L532.36,91.10 L532.50,90.02 L532.65,88.96 L532.80,87.90 L532.96,86.86 L533.12,85.85 L533.28,84.87 L533.43,83.93 L533.58,83.04 L533.73,82.20 L533.98,80.80 L534.20,79.56 L534.43,78.45 L534.66,77.41 L534.93,76.40 L535.25,75.38 L535.63,74.30 L536.11,73.16 L536.68,72.01 L537.30,70.85 L537.94,69.70 L538.56,68.58 L539.14,67.51 L539.63,66.50 L540.21,65.12 L540.71,63.76 L541.13,62.51 L541.47,61.46 L541.73,60.70 Z" fill="#f98e52" fill-opacity="0.3" stroke="none"/>
<path d="M543.53,60.70 L543.79,61.46 L544.13,62.51 L544.55,63.76 L545.05,65.12 L545.63,66.50 L546.12,67.51 L546.70,68.58 L547.32,69.70 L547.96,70.85 L548.58,72.01 L549.15,73.16 L549.63,74.30 L550.01,75.38 L550.33,76.40 L550.60,77.41 L550.83,78.45 L551.06,79.56 L551.28,80.80 L551.53,82.20 L551.68,83.04 L551.83,83.93 L551.98,84.87 L552.14,85.85 L552.30,86.86 L552.46,87.90 L552.61,88.96 L552.76,90.02 L552.90,91.10 L553.03,92.17 L553.14,93.23 L553.24,94.28 L553.33,95.30 L553.40,96.31 L553.47,97.32 L553.53,98.32 L553.58,99.33 L553.62,100.34 L553.66,101.35 L553.68,102.35 L553.69,103.36 L553.68,104.37 L553.67,105.38 L553.64,106.38 L553.59,107.39 L553.53,108.40 L553.45,109.41 L553.36,110.44 L553.25,111.48 L553.12,112.52 L552.98,113.56 L552.83,114.60 L552.67,115.63 L552.50,116.65 L552.32,117.66 L552.13,118.65 L551.94,119.63 L551.74,120.58 L551.53,121.50 L551.24,122.66 L550.93,123.77 L550.59,124.84 L550.23,125.89 L549.87,126.91 L549.50,127.92 L549.14,128.93 L548.78,129.94 L548.44,130.96 L548.13,132.00 L547.83,133.05 L547.54,134.11 L547.26,135.17 L546.99,136.23 L546.72,137.29 L546.47,138.35 L546.22,139.40 L545.98,140.44 L545.75,141.48 L545.53,142.50 L545.29,143.67 L545.06,144.91 L544.83,146.18 L544.62,147.44 L544.42,148.66 L544.24,149.79 L544.08,150.79 L543.94,151.65 L543.83,152.30 L541.43,152.30 L541.32,151.65 L541.18,150.79 L541.02,149.79 L540.84,148.66 L540.64,147.44 L540.43,146.18 L540.20,144.91 L539.97,143.67 L539.73,142.50 L539.51,141.48 L539.28,140.44 L539.04,139.40 L538.79,138.35 L538.54,137.29 L538.27,136.23 L538.00,135.17 L537.72,134.11 L537.43,133.05 L537.13,132.00 L536.82,130.96 L536.48,129.94 L536.12,128.93 L535.76,127.92 L535.39,126.91 L535.03,125.89 L534.67,124.84 L534.33,123.77 L534.02,122.66 L533.73,121.50 L533.52,120.58 L533.32,119.63 L533.13,118.65 L532.94,117.66 L532.76,116.65 L532.59,115.63 L532.43,114.60 L532.28,113.56 L532.14,112.52 L532.01,111.48 L531.90,110.44 L531.81,109.41 L531.73,108.40 L531.67,107.39 L531.62,106.38 L531.59,105.38 L531.58,104.37 L531.57,103.36 L531.58,102.35 L531.60,101.35 L531.64,100.34 L531.68,99.33 L531.73,98.32 L531.79,97.32 L531.86,96.31 L531.93,95.30 L532.02,94.28 L532.12,93.23 L532.23,92.17 L532.36,91.10 L532.50,90.02 L532.65,88.96 L532.80,87.90 L532.96,86.86 L533.12,85.85 L533.28,84.87 L533.43,83.93 L533.58,83.04 L533.73,82.20 L533.98,80.80 L534.20,79.56 L534.43,78.45 L534.66,77.41 L534.93,76.40 L535.25,75.38 L535.63,74.30 L536.11,73.16 L536.68,72.01 L537.30,70.85 L537.94,69.70 L538.56,68.58 L539.14,67.51 L539.63,66.50 L540.21,65.12 L540.71,63.76 L541.13,62.51 L541.47,61.46 L541.73,60.70 Z" fill="url(#hv2)" stroke="#d0d0d0" stroke-width="1.3" stroke-opacity="0.9"/>
<path d="M569.26,52.40 L569.30,53.16 L569.34,54.22 L569.41,55.46 L569.54,56.76 L569.76,58.00 L570.03,58.98 L570.37,59.97 L570.75,60.98 L571.17,61.99 L571.62,63.00 L572.06,64.00 L572.53,65.00 L573.05,66.00 L573.58,67.00 L574.11,68.00 L574.61,69.00 L575.06,70.00 L575.47,71.00 L575.85,72.00 L576.21,73.00 L576.53,74.00 L576.82,75.00 L577.06,76.00 L577.27,77.00 L577.45,78.00 L577.59,79.00 L577.67,80.00 L577.70,81.00 L577.66,82.00 L577.54,83.00 L577.35,84.00 L577.10,85.00 L576.80,86.00 L576.45,87.00 L576.06,88.00 L575.60,89.01 L575.05,90.04 L574.46,91.06 L573.86,92.07 L573.28,93.06 L572.76,94.00 L572.19,95.06 L571.65,96.07 L571.15,97.05 L570.71,98.02 L570.36,99.00 L570.11,99.98 L569.95,100.95 L569.85,101.93 L569.79,102.94 L569.76,104.00 L569.76,104.94 L569.80,105.93 L569.87,106.94 L569.95,107.96 L570.02,108.99 L570.06,110.00 L570.09,111.02 L570.13,112.06 L570.16,113.10 L570.17,114.12 L570.14,115.09 L570.06,116.00 L569.80,117.32 L569.41,118.58 L569.02,119.65 L568.76,120.40 L563.96,120.40 L563.70,119.65 L563.31,118.58 L562.92,117.32 L562.66,116.00 L562.58,115.09 L562.55,114.12 L562.56,113.10 L562.59,112.06 L562.63,111.02 L562.66,110.00 L562.70,108.99 L562.77,107.96 L562.85,106.94 L562.92,105.93 L562.96,104.94 L562.96,104.00 L562.93,102.94 L562.87,101.93 L562.77,100.95 L562.61,99.98 L562.36,99.00 L562.01,98.02 L561.57,97.05 L561.07,96.07 L560.53,95.06 L559.96,94.00 L559.44,93.06 L558.86,92.07 L558.26,91.06 L557.67,90.04 L557.12,89.01 L556.66,88.00 L556.27,87.00 L555.92,86.00 L555.62,85.00 L555.37,84.00 L555.18,83.00 L555.06,82.00 L555.02,81.00 L555.05,80.00 L555.13,79.00 L555.27,78.00 L555.45,77.00 L555.66,76.00 L555.90,75.00 L556.19,74.00 L556.51,73.00 L556.87,72.00 L557.25,71.00 L557.66,70.00 L558.11,69.00 L558.61,68.00 L559.14,67.00 L559.67,66.00 L560.19,65.00 L560.66,64.00 L561.10,63.00 L561.55,61.99 L561.97,60.98 L562.35,59.97 L562.69,58.98 L562.96,58.00 L563.18,56.76 L563.31,55.46 L563.38,54.22 L563.42,53.16 L563.46,52.40 Z" fill="#fed481" fill-opacity="0.3" stroke="none"/>
<path d="M569.26,52.40 L569.30,53.16 L569.34,54.22 L569.41,55.46 L569.54,56.76 L569.76,58.00 L570.03,58.98 L570.37,59.97 L570.75,60.98 L571.17,61.99 L571.62,63.00 L572.06,64.00 L572.53,65.00 L573.05,66.00 L573.58,67.00 L574.11,68.00 L574.61,69.00 L575.06,70.00 L575.47,71.00 L575.85,72.00 L576.21,73.00 L576.53,74.00 L576.82,75.00 L577.06,76.00 L577.27,77.00 L577.45,78.00 L577.59,79.00 L577.67,80.00 L577.70,81.00 L577.66,82.00 L577.54,83.00 L577.35,84.00 L577.10,85.00 L576.80,86.00 L576.45,87.00 L576.06,88.00 L575.60,89.01 L575.05,90.04 L574.46,91.06 L573.86,92.07 L573.28,93.06 L572.76,94.00 L572.19,95.06 L571.65,96.07 L571.15,97.05 L570.71,98.02 L570.36,99.00 L570.11,99.98 L569.95,100.95 L569.85,101.93 L569.79,102.94 L569.76,104.00 L569.76,104.94 L569.80,105.93 L569.87,106.94 L569.95,107.96 L570.02,108.99 L570.06,110.00 L570.09,111.02 L570.13,112.06 L570.16,113.10 L570.17,114.12 L570.14,115.09 L570.06,116.00 L569.80,117.32 L569.41,118.58 L569.02,119.65 L568.76,120.40 L563.96,120.40 L563.70,119.65 L563.31,118.58 L562.92,117.32 L562.66,116.00 L562.58,115.09 L562.55,114.12 L562.56,113.10 L562.59,112.06 L562.63,111.02 L562.66,110.00 L562.70,108.99 L562.77,107.96 L562.85,106.94 L562.92,105.93 L562.96,104.94 L562.96,104.00 L562.93,102.94 L562.87,101.93 L562.77,100.95 L562.61,99.98 L562.36,99.00 L562.01,98.02 L561.57,97.05 L561.07,96.07 L560.53,95.06 L559.96,94.00 L559.44,93.06 L558.86,92.07 L558.26,91.06 L557.67,90.04 L557.12,89.01 L556.66,88.00 L556.27,87.00 L555.92,86.00 L555.62,85.00 L555.37,84.00 L555.18,83.00 L555.06,82.00 L555.02,81.00 L555.05,80.00 L555.13,79.00 L555.27,78.00 L555.45,77.00 L555.66,76.00 L555.90,75.00 L556.19,74.00 L556.51,73.00 L556.87,72.00 L557.25,71.00 L557.66,70.00 L558.11,69.00 L558.61,68.00 L559.14,67.00 L559.67,66.00 L560.19,65.00 L560.66,64.00 L561.10,63.00 L561.55,61.99 L561.97,60.98 L562.35,59.97 L562.69,58.98 L562.96,58.00 L563.18,56.76 L563.31,55.46 L563.38,54.22 L563.42,53.16 L563.46,52.40 Z" fill="url(#hv2)" stroke="#d0d0d0" stroke-width="1.3" stroke-opacity="0.9"/>
<path d="M593.09,53.00 L593.11,53.62 L593.14,54.46 L593.17,55.46 L593.21,56.56 L593.27,57.72 L593.36,58.89 L593.49,60.00 L593.63,60.95 L593.79,61.93 L593.96,62.93 L594.16,63.94 L594.38,64.96 L594.62,65.98 L594.89,66.99 L595.19,68.00 L595.53,69.00 L595.93,70.00 L596.37,71.00 L596.82,72.00 L597.28,73.00 L597.72,74.00 L598.13,75.00 L598.49,76.00 L598.82,77.01 L599.13,78.05 L599.42,79.09 L599.70,80.12 L599.94,81.15 L600.16,82.14 L600.34,83.10 L600.49,84.00 L600.63,85.12 L600.71,86.15 L600.74,87.12 L600.71,88.07 L600.63,89.02 L600.49,90.00 L600.28,91.00 L599.99,92.00 L599.65,93.00 L599.28,94.00 L598.88,95.00 L598.49,96.00 L598.08,97.00 L597.65,98.00 L597.19,99.00 L596.73,100.00 L596.30,101.00 L595.89,102.00 L595.51,102.98 L595.13,103.93 L594.77,104.88 L594.44,105.85 L594.14,106.88 L593.89,108.00 L593.74,108.94 L593.61,109.97 L593.51,111.06 L593.43,112.17 L593.37,113.26 L593.31,114.29 L593.25,115.22 L593.19,116.00 L593.05,117.54 L592.95,118.55 L592.89,119.20 L587.29,119.20 L587.23,118.55 L587.13,117.54 L586.99,116.00 L586.93,115.22 L586.87,114.29 L586.81,113.26 L586.75,112.17 L586.67,111.06 L586.57,109.97 L586.44,108.94 L586.29,108.00 L586.04,106.88 L585.74,105.85 L585.41,104.88 L585.05,103.93 L584.67,102.98 L584.29,102.00 L583.88,101.00 L583.45,100.00 L582.99,99.00 L582.53,98.00 L582.10,97.00 L581.69,96.00 L581.30,95.00 L580.90,94.00 L580.53,93.00 L580.19,92.00 L579.90,91.00 L579.69,90.00 L579.55,89.02 L579.47,88.07 L579.44,87.12 L579.47,86.15 L579.55,85.12 L579.69,84.00 L579.84,83.10 L580.02,82.14 L580.24,81.15 L580.48,80.12 L580.76,79.09 L581.05,78.05 L581.36,77.01 L581.69,76.00 L582.05,75.00 L582.46,74.00 L582.90,73.00 L583.36,72.00 L583.81,71.00 L584.25,70.00 L584.65,69.00 L584.99,68.00 L585.29,66.99 L585.56,65.98 L585.80,64.96 L586.02,63.94 L586.22,62.93 L586.39,61.93 L586.55,60.95 L586.69,60.00 L586.82,58.89 L586.91,57.72 L586.97,56.56 L587.01,55.46 L587.04,54.46 L587.07,53.62 L587.09,53.00 Z" fill="#ffffbe" fill-opacity="0.3" stroke="none"/>
<path d="M593.09,53.00 L593.11,53.62 L593.14,54.46 L593.17,55.46 L593.21,56.56 L593.27,57.72 L593.36,58.89 L593.49,60.00 L593.63,60.95 L593.79,61.93 L593.96,62.93 L594.16,63.94 L594.38,64.96 L594.62,65.98 L594.89,66.99 L595.19,68.00 L595.53,69.00 L595.93,70.00 L596.37,71.00 L596.82,72.00 L597.28,73.00 L597.72,74.00 L598.13,75.00 L598.49,76.00 L598.82,77.01 L599.13,78.05 L599.42,79.09 L599.70,80.12 L599.94,81.15 L600.16,82.14 L600.34,83.10 L600.49,84.00 L600.63,85.12 L600.71,86.15 L600.74,87.12 L600.71,88.07 L600.63,89.02 L600.49,90.00 L600.28,91.00 L599.99,92.00 L599.65,93.00 L599.28,94.00 L598.88,95.00 L598.49,96.00 L598.08,97.00 L597.65,98.00 L597.19,99.00 L596.73,100.00 L596.30,101.00 L595.89,102.00 L595.51,102.98 L595.13,103.93 L594.77,104.88 L594.44,105.85 L594.14,106.88 L593.89,108.00 L593.74,108.94 L593.61,109.97 L593.51,111.06 L593.43,112.17 L593.37,113.26 L593.31,114.29 L593.25,115.22 L593.19,116.00 L593.05,117.54 L592.95,118.55 L592.89,119.20 L587.29,119.20 L587.23,118.55 L587.13,117.54 L586.99,116.00 L586.93,115.22 L586.87,114.29 L586.81,113.26 L586.75,112.17 L586.67,111.06 L586.57,109.97 L586.44,108.94 L586.29,108.00 L586.04,106.88 L585.74,105.85 L585.41,104.88 L585.05,103.93 L584.67,102.98 L584.29,102.00 L583.88,101.00 L583.45,100.00 L582.99,99.00 L582.53,98.00 L582.10,97.00 L581.69,96.00 L581.30,95.00 L580.90,94.00 L580.53,93.00 L580.19,92.00 L579.90,91.00 L579.69,90.00 L579.55,89.02 L579.47,88.07 L579.44,87.12 L579.47,86.15 L579.55,85.12 L579.69,84.00 L579.84,83.10 L580.02,82.14 L580.24,81.15 L580.48,80.12 L580.76,79.09 L581.05,78.05 L581.36,77.01 L581.69,76.00 L582.05,75.00 L582.46,74.00 L582.90,73.00 L583.36,72.00 L583.81,71.00 L584.25,70.00 L584.65,69.00 L584.99,68.00 L585.29,66.99 L585.56,65.98 L585.80,64.96 L586.02,63.94 L586.22,62.93 L586.39,61.93 L586.55,60.95 L586.69,60.00 L586.82,58.89 L586.91,57.72 L586.97,56.56 L587.01,55.46 L587.04,54.46 L587.07,53.62 L587.09,53.00 Z" fill="url(#hv2)" stroke="#d0d0d0" stroke-width="1.3" stroke-opacity="0.9"/>
<path d="M616.52,59.60 L616.76,60.61 L617.22,62.00 L617.68,62.90 L618.26,63.88 L619.02,65.10 L619.62,66.02 L620.34,67.06 L621.09,68.17 L621.81,69.30 L622.42,70.40 L622.92,71.46 L623.35,72.52 L623.72,73.59 L624.04,74.65 L624.32,75.70 L624.56,76.74 L624.75,77.78 L624.90,78.82 L624.99,79.86 L625.02,80.90 L624.99,81.96 L624.90,83.02 L624.75,84.08 L624.56,85.14 L624.32,86.20 L624.02,87.28 L623.65,88.39 L623.24,89.48 L622.83,90.50 L622.42,91.40 L621.77,92.63 L621.11,93.63 L620.42,94.50 L619.19,95.64 L618.22,96.40 L609.42,96.40 L608.44,95.64 L607.22,94.50 L606.53,93.63 L605.87,92.63 L605.22,91.40 L604.81,90.50 L604.40,89.48 L603.99,88.39 L603.62,87.28 L603.32,86.20 L603.08,85.14 L602.89,84.08 L602.74,83.02 L602.65,81.96 L602.62,80.90 L602.65,79.86 L602.74,78.82 L602.89,77.78 L603.08,76.74 L603.32,75.70 L603.60,74.65 L603.92,73.59 L604.29,72.52 L604.72,71.46 L605.22,70.40 L605.83,69.30 L606.55,68.17 L607.30,67.06 L608.02,66.02 L608.62,65.10 L609.38,63.88 L609.96,62.90 L610.42,62.00 L610.88,60.61 L611.12,59.60 Z" fill="#d6ee9b" fill-opacity="0.3" stroke="none"/>
<path d="M616.52,59.60 L616.76,60.61 L617.22,62.00 L617.68,62.90 L618.26,63.88 L619.02,65.10 L619.62,66.02 L620.34,67.06 L621.09,68.17 L621.81,69.30 L622.42,70.40 L622.92,71.46 L623.35,72.52 L623.72,73.59 L624.04,74.65 L624.32,75.70 L624.56,76.74 L624.75,77.78 L624.90,78.82 L624.99,79.86 L625.02,80.90 L624.99,81.96 L624.90,83.02 L624.75,84.08 L624.56,85.14 L624.32,86.20 L624.02,87.28 L623.65,88.39 L623.24,89.48 L622.83,90.50 L622.42,91.40 L621.77,92.63 L621.11,93.63 L620.42,94.50 L619.19,95.64 L618.22,96.40 L609.42,96.40 L608.44,95.64 L607.22,94.50 L606.53,93.63 L605.87,92.63 L605.22,91.40 L604.81,90.50 L604.40,89.48 L603.99,88.39 L603.62,87.28 L603.32,86.20 L603.08,85.14 L602.89,84.08 L602.74,83.02 L602.65,81.96 L602.62,80.90 L602.65,79.86 L602.74,78.82 L602.89,77.78 L603.08,76.74 L603.32,75.70 L603.60,74.65 L603.92,73.59 L604.29,72.52 L604.72,71.46 L605.22,70.40 L605.83,69.30 L606.55,68.17 L607.30,67.06 L608.02,66.02 L608.62,65.10 L609.38,63.88 L609.96,62.90 L610.42,62.00 L610.88,60.61 L611.12,59.60 Z" fill="url(#hv2)" stroke="#d0d0d0" stroke-width="1.3" stroke-opacity="0.9"/>
<path d="M640.75,60.70 L640.79,61.26 L640.83,61.93 L640.88,62.69 L640.93,63.53 L640.99,64.45 L641.06,65.44 L641.13,66.49 L641.20,67.59 L641.27,68.73 L641.35,69.90 L641.43,71.11 L641.51,72.32 L641.59,73.55 L641.67,74.78 L641.75,76.00 L641.81,76.88 L641.87,77.78 L641.93,78.71 L641.99,79.66 L642.06,80.62 L642.13,81.61 L642.19,82.60 L642.26,83.61 L642.33,84.64 L642.40,85.67 L642.47,86.71 L642.54,87.75 L642.61,88.80 L642.68,89.85 L642.75,90.90 L642.82,91.95 L642.89,93.00 L642.96,94.03 L643.02,95.07 L643.09,96.09 L643.15,97.10 L643.21,98.11 L643.27,99.13 L643.33,100.16 L643.40,101.20 L643.46,102.24 L643.52,103.28 L643.58,104.33 L643.64,105.38 L643.69,106.42 L643.75,107.46 L643.81,108.50 L643.87,109.53 L643.92,110.55 L643.98,111.56 L644.03,112.56 L644.09,113.54 L644.14,114.51 L644.20,115.46 L644.25,116.40 L644.30,117.31 L644.35,118.20 L644.42,119.43 L644.49,120.64 L644.56,121.85 L644.62,123.04 L644.69,124.20 L644.75,125.35 L644.81,126.47 L644.87,127.55 L644.93,128.60 L644.99,129.62 L645.05,130.59 L645.10,131.52 L645.15,132.40 L645.20,133.23 L645.25,134.00 L645.34,135.45 L645.41,136.31 L645.46,136.92 L645.52,137.60 L645.61,138.68 L645.75,140.50 L645.80,141.19 L645.86,141.94 L645.93,142.75 L645.99,143.61 L646.07,144.52 L646.14,145.47 L646.22,146.46 L646.30,147.48 L646.38,148.53 L646.47,149.60 L646.56,150.69 L646.64,151.80 L646.73,152.91 L646.81,154.03 L646.90,155.15 L646.98,156.27 L647.06,157.37 L647.14,158.46 L647.21,159.53 L647.28,160.58 L647.35,161.60 L647.41,162.60 L647.48,163.60 L647.54,164.60 L647.60,165.60 L647.66,166.60 L647.72,167.60 L647.78,168.60 L647.84,169.60 L647.90,170.60 L647.95,171.60 L648.01,172.60 L648.06,173.60 L648.11,174.60 L648.16,175.60 L648.21,176.60 L648.25,177.60 L648.30,178.60 L648.34,179.60 L648.38,180.60 L648.42,181.60 L648.45,182.60 L648.48,183.61 L648.51,184.64 L648.54,185.69 L648.56,186.75 L648.59,187.82 L648.61,188.89 L648.62,189.97 L648.64,191.05 L648.66,192.12 L648.67,193.19 L648.68,194.25 L648.69,195.30 L648.70,196.34 L648.71,197.35 L648.72,198.35 L648.72,199.32 L648.73,200.26 L648.74,201.17 L648.74,202.05 L648.75,202.90 L648.75,203.70 L648.76,205.09 L648.76,206.29 L648.77,207.34 L648.77,208.28 L648.77,209.17 L648.76,210.03 L648.75,210.92 L648.73,211.86 L648.71,212.91 L648.68,214.11 L648.65,215.50 L648.63,216.30 L648.61,217.15 L648.59,218.03 L648.56,218.94 L648.54,219.88 L648.51,220.85 L648.48,221.85 L648.45,222.86 L648.42,223.90 L648.39,224.95 L648.36,226.01 L648.32,227.08 L648.29,228.15 L648.25,229.23 L648.21,230.31 L648.17,231.38 L648.13,232.45 L648.09,233.51 L648.04,234.56 L648.00,235.59 L647.95,236.60 L647.90,237.61 L647.85,238.63 L647.79,239.65 L647.74,240.69 L647.68,241.73 L647.62,242.77 L647.56,243.81 L647.49,244.85 L647.43,245.90 L647.36,246.93 L647.30,247.97 L647.23,248.99 L647.16,250.01 L647.10,251.01 L647.03,252.00 L646.97,252.98 L646.90,253.94 L646.84,254.89 L646.77,255.81 L646.71,256.72 L646.65,257.60 L646.57,258.81 L646.48,260.02 L646.39,261.21 L646.30,262.39 L646.22,263.54 L646.13,264.67 L646.04,265.77 L645.96,266.84 L645.87,267.88 L645.79,268.87 L645.72,269.82 L645.64,270.72 L645.57,271.57 L645.51,272.37 L645.45,273.10 L645.31,274.70 L645.22,275.61 L645.15,276.27 L645.07,277.14 L644.95,278.70 L644.89,279.46 L644.83,280.26 L644.77,281.12 L644.70,282.03 L644.63,282.98 L644.56,283.98 L644.49,285.02 L644.41,286.12 L644.34,287.26 L644.26,288.44 L644.18,289.66 L644.10,290.93 L644.03,292.25 L643.95,293.60 L643.90,294.45 L643.86,295.34 L643.81,296.26 L643.77,297.20 L643.72,298.17 L643.68,299.16 L643.63,300.17 L643.59,301.20 L643.54,302.24 L643.49,303.30 L643.45,304.37 L643.40,305.45 L643.35,306.53 L643.31,307.62 L643.26,308.71 L643.21,309.80 L643.16,310.88 L643.11,311.96 L643.06,313.03 L643.01,314.10 L642.96,315.15 L642.90,316.18 L642.85,317.20 L642.79,318.28 L642.73,319.39 L642.66,320.53 L642.59,321.70 L642.52,322.89 L642.45,324.09 L642.38,325.30 L642.30,326.51 L642.23,327.71 L642.16,328.90 L642.08,330.07 L642.01,331.22 L641.94,332.34 L641.87,333.42 L641.80,334.46 L641.74,335.45 L641.68,336.38 L641.62,337.25 L641.57,338.06 L641.53,338.79 L641.48,339.44 L641.45,340.00 L633.65,340.00 L633.62,339.44 L633.57,338.79 L633.53,338.06 L633.48,337.25 L633.42,336.38 L633.36,335.45 L633.30,334.46 L633.23,333.42 L633.16,332.34 L633.09,331.22 L633.02,330.07 L632.94,328.90 L632.87,327.71 L632.80,326.51 L632.72,325.30 L632.65,324.09 L632.58,322.89 L632.51,321.70 L632.44,320.53 L632.37,319.39 L632.31,318.28 L632.25,317.20 L632.20,316.18 L632.14,315.15 L632.09,314.10 L632.04,313.03 L631.99,311.96 L631.94,310.88 L631.89,309.80 L631.84,308.71 L631.79,307.62 L631.75,306.53 L631.70,305.45 L631.65,304.37 L631.61,303.30 L631.56,302.24 L631.51,301.20 L631.47,300.17 L631.42,299.16 L631.38,298.17 L631.33,297.20 L631.29,296.26 L631.24,295.34 L631.20,294.45 L631.15,293.60 L631.07,292.25 L631.00,290.93 L630.92,289.66 L630.84,288.44 L630.76,287.26 L630.69,286.12 L630.61,285.02 L630.54,283.98 L630.47,282.98 L630.40,282.03 L630.33,281.12 L630.27,280.26 L630.21,279.46 L630.15,278.70 L630.03,277.14 L629.95,276.27 L629.88,275.61 L629.79,274.70 L629.65,273.10 L629.59,272.37 L629.53,271.57 L629.46,270.72 L629.38,269.82 L629.31,268.87 L629.23,267.88 L629.14,266.84 L629.06,265.77 L628.97,264.67 L628.88,263.54 L628.80,262.39 L628.71,261.21 L628.62,260.02 L628.53,258.81 L628.45,257.60 L628.39,256.72 L628.33,255.81 L628.26,254.89 L628.20,253.94 L628.13,252.98 L628.07,252.00 L628.00,251.01 L627.94,250.01 L627.87,248.99 L627.80,247.97 L627.74,246.93 L627.67,245.90 L627.61,244.85 L627.54,243.81 L627.48,242.77 L627.42,241.73 L627.36,240.69 L627.31,239.65 L627.25,238.63 L627.20,237.61 L627.15,236.60 L627.10,235.59 L627.06,234.56 L627.01,233.51 L626.97,232.45 L626.93,231.38 L626.89,230.31 L626.85,229.23 L626.81,228.15 L626.78,227.08 L626.74,226.01 L626.71,224.95 L626.68,223.90 L626.65,222.86 L626.62,221.85 L626.59,220.85 L626.56,219.88 L626.54,218.94 L626.51,218.03 L626.49,217.15 L626.47,216.30 L626.45,215.50 L626.42,214.11 L626.39,212.91 L626.37,211.86 L626.35,210.92 L626.34,210.03 L626.33,209.17 L626.33,208.28 L626.33,207.34 L626.34,206.29 L626.34,205.09 L626.35,203.70 L626.35,202.90 L626.36,202.05 L626.36,201.17 L626.37,200.26 L626.38,199.32 L626.38,198.35 L626.39,197.35 L626.40,196.34 L626.41,195.30 L626.42,194.25 L626.43,193.19 L626.44,192.12 L626.46,191.05 L626.48,189.97 L626.49,188.89 L626.51,187.82 L626.54,186.75 L626.56,185.69 L626.59,184.64 L626.62,183.61 L626.65,182.60 L626.68,181.60 L626.72,180.60 L626.76,179.60 L626.80,178.60 L626.85,177.60 L626.89,176.60 L626.94,175.60 L626.99,174.60 L627.04,173.60 L627.09,172.60 L627.15,171.60 L627.20,170.60 L627.26,169.60 L627.32,168.60 L627.38,167.60 L627.44,166.60 L627.50,165.60 L627.56,164.60 L627.62,163.60 L627.69,162.60 L627.75,161.60 L627.82,160.58 L627.89,159.53 L627.96,158.46 L628.04,157.37 L628.12,156.27 L628.20,155.15 L628.29,154.03 L628.37,152.91 L628.46,151.80 L628.54,150.69 L628.63,149.60 L628.72,148.53 L628.80,147.48 L628.88,146.46 L628.96,145.47 L629.03,144.52 L629.11,143.61 L629.17,142.75 L629.24,141.94 L629.30,141.19 L629.35,140.50 L629.49,138.68 L629.58,137.60 L629.64,136.92 L629.69,136.31 L629.76,135.45 L629.85,134.00 L629.90,133.23 L629.95,132.40 L630.00,131.52 L630.05,130.59 L630.11,129.62 L630.17,128.60 L630.23,127.55 L630.29,126.47 L630.35,125.35 L630.41,124.20 L630.48,123.04 L630.54,121.85 L630.61,120.64 L630.68,119.43 L630.75,118.20 L630.80,117.31 L630.85,116.40 L630.90,115.46 L630.96,114.51 L631.01,113.54 L631.07,112.56 L631.12,111.56 L631.18,110.55 L631.23,109.53 L631.29,108.50 L631.35,107.46 L631.41,106.42 L631.46,105.38 L631.52,104.33 L631.58,103.28 L631.64,102.24 L631.70,101.20 L631.77,100.16 L631.83,99.13 L631.89,98.11 L631.95,97.10 L632.01,96.09 L632.08,95.07 L632.14,94.03 L632.21,93.00 L632.28,91.95 L632.35,90.90 L632.42,89.85 L632.49,88.80 L632.56,87.75 L632.63,86.71 L632.70,85.67 L632.77,84.64 L632.84,83.61 L632.91,82.60 L632.97,81.61 L633.04,80.62 L633.11,79.66 L633.17,78.71 L633.23,77.78 L633.29,76.88 L633.35,76.00 L633.43,74.78 L633.51,73.55 L633.59,72.32 L633.67,71.11 L633.75,69.90 L633.83,68.73 L633.90,67.59 L633.97,66.49 L634.04,65.44 L634.11,64.45 L634.17,63.53 L634.22,62.69 L634.27,61.93 L634.31,61.26 L634.35,60.70 Z" fill="#86cfa5" fill-opacity="0.3" stroke="none"/>
<path d="M640.75,60.70 L640.79,61.26 L640.83,61.93 L640.88,62.69 L640.93,63.53 L640.99,64.45 L641.06,65.44 L641.13,66.49 L641.20,67.59 L641.27,68.73 L641.35,69.90 L641.43,71.11 L641.51,72.32 L641.59,73.55 L641.67,74.78 L641.75,76.00 L641.81,76.88 L641.87,77.78 L641.93,78.71 L641.99,79.66 L642.06,80.62 L642.13,81.61 L642.19,82.60 L642.26,83.61 L642.33,84.64 L642.40,85.67 L642.47,86.71 L642.54,87.75 L642.61,88.80 L642.68,89.85 L642.75,90.90 L642.82,91.95 L642.89,93.00 L642.96,94.03 L643.02,95.07 L643.09,96.09 L643.15,97.10 L643.21,98.11 L643.27,99.13 L643.33,100.16 L643.40,101.20 L643.46,102.24 L643.52,103.28 L643.58,104.33 L643.64,105.38 L643.69,106.42 L643.75,107.46 L643.81,108.50 L643.87,109.53 L643.92,110.55 L643.98,111.56 L644.03,112.56 L644.09,113.54 L644.14,114.51 L644.20,115.46 L644.25,116.40 L644.30,117.31 L644.35,118.20 L644.42,119.43 L644.49,120.64 L644.56,121.85 L644.62,123.04 L644.69,124.20 L644.75,125.35 L644.81,126.47 L644.87,127.55 L644.93,128.60 L644.99,129.62 L645.05,130.59 L645.10,131.52 L645.15,132.40 L645.20,133.23 L645.25,134.00 L645.34,135.45 L645.41,136.31 L645.46,136.92 L645.52,137.60 L645.61,138.68 L645.75,140.50 L645.80,141.19 L645.86,141.94 L645.93,142.75 L645.99,143.61 L646.07,144.52 L646.14,145.47 L646.22,146.46 L646.30,147.48 L646.38,148.53 L646.47,149.60 L646.56,150.69 L646.64,151.80 L646.73,152.91 L646.81,154.03 L646.90,155.15 L646.98,156.27 L647.06,157.37 L647.14,158.46 L647.21,159.53 L647.28,160.58 L647.35,161.60 L647.41,162.60 L647.48,163.60 L647.54,164.60 L647.60,165.60 L647.66,166.60 L647.72,167.60 L647.78,168.60 L647.84,169.60 L647.90,170.60 L647.95,171.60 L648.01,172.60 L648.06,173.60 L648.11,174.60 L648.16,175.60 L648.21,176.60 L648.25,177.60 L648.30,178.60 L648.34,179.60 L648.38,180.60 L648.42,181.60 L648.45,182.60 L648.48,183.61 L648.51,184.64 L648.54,185.69 L648.56,186.75 L648.59,187.82 L648.61,188.89 L648.62,189.97 L648.64,191.05 L648.66,192.12 L648.67,193.19 L648.68,194.25 L648.69,195.30 L648.70,196.34 L648.71,197.35 L648.72,198.35 L648.72,199.32 L648.73,200.26 L648.74,201.17 L648.74,202.05 L648.75,202.90 L648.75,203.70 L648.76,205.09 L648.76,206.29 L648.77,207.34 L648.77,208.28 L648.77,209.17 L648.76,210.03 L648.75,210.92 L648.73,211.86 L648.71,212.91 L648.68,214.11 L648.65,215.50 L648.63,216.30 L648.61,217.15 L648.59,218.03 L648.56,218.94 L648.54,219.88 L648.51,220.85 L648.48,221.85 L648.45,222.86 L648.42,223.90 L648.39,224.95 L648.36,226.01 L648.32,227.08 L648.29,228.15 L648.25,229.23 L648.21,230.31 L648.17,231.38 L648.13,232.45 L648.09,233.51 L648.04,234.56 L648.00,235.59 L647.95,236.60 L647.90,237.61 L647.85,238.63 L647.79,239.65 L647.74,240.69 L647.68,241.73 L647.62,242.77 L647.56,243.81 L647.49,244.85 L647.43,245.90 L647.36,246.93 L647.30,247.97 L647.23,248.99 L647.16,250.01 L647.10,251.01 L647.03,252.00 L646.97,252.98 L646.90,253.94 L646.84,254.89 L646.77,255.81 L646.71,256.72 L646.65,257.60 L646.57,258.81 L646.48,260.02 L646.39,261.21 L646.30,262.39 L646.22,263.54 L646.13,264.67 L646.04,265.77 L645.96,266.84 L645.87,267.88 L645.79,268.87 L645.72,269.82 L645.64,270.72 L645.57,271.57 L645.51,272.37 L645.45,273.10 L645.31,274.70 L645.22,275.61 L645.15,276.27 L645.07,277.14 L644.95,278.70 L644.89,279.46 L644.83,280.26 L644.77,281.12 L644.70,282.03 L644.63,282.98 L644.56,283.98 L644.49,285.02 L644.41,286.12 L644.34,287.26 L644.26,288.44 L644.18,289.66 L644.10,290.93 L644.03,292.25 L643.95,293.60 L643.90,294.45 L643.86,295.34 L643.81,296.26 L643.77,297.20 L643.72,298.17 L643.68,299.16 L643.63,300.17 L643.59,301.20 L643.54,302.24 L643.49,303.30 L643.45,304.37 L643.40,305.45 L643.35,306.53 L643.31,307.62 L643.26,308.71 L643.21,309.80 L643.16,310.88 L643.11,311.96 L643.06,313.03 L643.01,314.10 L642.96,315.15 L642.90,316.18 L642.85,317.20 L642.79,318.28 L642.73,319.39 L642.66,320.53 L642.59,321.70 L642.52,322.89 L642.45,324.09 L642.38,325.30 L642.30,326.51 L642.23,327.71 L642.16,328.90 L642.08,330.07 L642.01,331.22 L641.94,332.34 L641.87,333.42 L641.80,334.46 L641.74,335.45 L641.68,336.38 L641.62,337.25 L641.57,338.06 L641.53,338.79 L641.48,339.44 L641.45,340.00 L633.65,340.00 L633.62,339.44 L633.57,338.79 L633.53,338.06 L633.48,337.25 L633.42,336.38 L633.36,335.45 L633.30,334.46 L633.23,333.42 L633.16,332.34 L633.09,331.22 L633.02,330.07 L632.94,328.90 L632.87,327.71 L632.80,326.51 L632.72,325.30 L632.65,324.09 L632.58,322.89 L632.51,321.70 L632.44,320.53 L632.37,319.39 L632.31,318.28 L632.25,317.20 L632.20,316.18 L632.14,315.15 L632.09,314.10 L632.04,313.03 L631.99,311.96 L631.94,310.88 L631.89,309.80 L631.84,308.71 L631.79,307.62 L631.75,306.53 L631.70,305.45 L631.65,304.37 L631.61,303.30 L631.56,302.24 L631.51,301.20 L631.47,300.17 L631.42,299.16 L631.38,298.17 L631.33,297.20 L631.29,296.26 L631.24,295.34 L631.20,294.45 L631.15,293.60 L631.07,292.25 L631.00,290.93 L630.92,289.66 L630.84,288.44 L630.76,287.26 L630.69,286.12 L630.61,285.02 L630.54,283.98 L630.47,282.98 L630.40,282.03 L630.33,281.12 L630.27,280.26 L630.21,279.46 L630.15,278.70 L630.03,277.14 L629.95,276.27 L629.88,275.61 L629.79,274.70 L629.65,273.10 L629.59,272.37 L629.53,271.57 L629.46,270.72 L629.38,269.82 L629.31,268.87 L629.23,267.88 L629.14,266.84 L629.06,265.77 L628.97,264.67 L628.88,263.54 L628.80,262.39 L628.71,261.21 L628.62,260.02 L628.53,258.81 L628.45,257.60 L628.39,256.72 L628.33,255.81 L628.26,254.89 L628.20,253.94 L628.13,252.98 L628.07,252.00 L628.00,251.01 L627.94,250.01 L627.87,248.99 L627.80,247.97 L627.74,246.93 L627.67,245.90 L627.61,244.85 L627.54,243.81 L627.48,242.77 L627.42,241.73 L627.36,240.69 L627.31,239.65 L627.25,238.63 L627.20,237.61 L627.15,236.60 L627.10,235.59 L627.06,234.56 L627.01,233.51 L626.97,232.45 L626.93,231.38 L626.89,230.31 L626.85,229.23 L626.81,228.15 L626.78,227.08 L626.74,226.01 L626.71,224.95 L626.68,223.90 L626.65,222.86 L626.62,221.85 L626.59,220.85 L626.56,219.88 L626.54,218.94 L626.51,218.03 L626.49,217.15 L626.47,216.30 L626.45,215.50 L626.42,214.11 L626.39,212.91 L626.37,211.86 L626.35,210.92 L626.34,210.03 L626.33,209.17 L626.33,208.28 L626.33,207.34 L626.34,206.29 L626.34,205.09 L626.35,203.70 L626.35,202.90 L626.36,202.05 L626.36,201.17 L626.37,200.26 L626.38,199.32 L626.38,198.35 L626.39,197.35 L626.40,196.34 L626.41,195.30 L626.42,194.25 L626.43,193.19 L626.44,192.12 L626.46,191.05 L626.48,189.97 L626.49,188.89 L626.51,187.82 L626.54,186.75 L626.56,185.69 L626.59,184.64 L626.62,183.61 L626.65,182.60 L626.68,181.60 L626.72,180.60 L626.76,179.60 L626.80,178.60 L626.85,177.60 L626.89,176.60 L626.94,175.60 L626.99,174.60 L627.04,173.60 L627.09,172.60 L627.15,171.60 L627.20,170.60 L627.26,169.60 L627.32,168.60 L627.38,167.60 L627.44,166.60 L627.50,165.60 L627.56,164.60 L627.62,163.60 L627.69,162.60 L627.75,161.60 L627.82,160.58 L627.89,159.53 L627.96,158.46 L628.04,157.37 L628.12,156.27 L628.20,155.15 L628.29,154.03 L628.37,152.91 L628.46,151.80 L628.54,150.69 L628.63,149.60 L628.72,148.53 L628.80,147.48 L628.88,146.46 L628.96,145.47 L629.03,144.52 L629.11,143.61 L629.17,142.75 L629.24,141.94 L629.30,141.19 L629.35,140.50 L629.49,138.68 L629.58,137.60 L629.64,136.92 L629.69,136.31 L629.76,135.45 L629.85,134.00 L629.90,133.23 L629.95,132.40 L630.00,131.52 L630.05,130.59 L630.11,129.62 L630.17,128.60 L630.23,127.55 L630.29,126.47 L630.35,125.35 L630.41,124.20 L630.48,123.04 L630.54,121.85 L630.61,120.64 L630.68,119.43 L630.75,118.20 L630.80,117.31 L630.85,116.40 L630.90,115.46 L630.96,114.51 L631.01,113.54 L631.07,112.56 L631.12,111.56 L631.18,110.55 L631.23,109.53 L631.29,108.50 L631.35,107.46 L631.41,106.42 L631.46,105.38 L631.52,104.33 L631.58,103.28 L631.64,102.24 L631.70,101.20 L631.77,100.16 L631.83,99.13 L631.89,98.11 L631.95,97.10 L632.01,96.09 L632.08,95.07 L632.14,94.03 L632.21,93.00 L632.28,91.95 L632.35,90.90 L632.42,89.85 L632.49,88.80 L632.56,87.75 L632.63,86.71 L632.70,85.67 L632.77,84.64 L632.84,83.61 L632.91,82.60 L632.97,81.61 L633.04,80.62 L633.11,79.66 L633.17,78.71 L633.23,77.78 L633.29,76.88 L633.35,76.00 L633.43,74.78 L633.51,73.55 L633.59,72.32 L633.67,71.11 L633.75,69.90 L633.83,68.73 L633.90,67.59 L633.97,66.49 L634.04,65.44 L634.11,64.45 L634.17,63.53 L634.22,62.69 L634.27,61.93 L634.31,61.26 L634.35,60.70 Z" fill="url(#hv2)" stroke="#d0d0d0" stroke-width="1.3" stroke-opacity="0.9"/>
<path d="M662.48,50.50 L662.75,51.00 L663.08,52.00 L663.20,52.81 L663.32,53.81 L663.41,54.91 L663.48,56.00 L663.52,57.14 L663.53,58.34 L663.52,59.50 L663.48,60.50 L663.33,61.78 L663.08,63.00 L662.87,63.85 L662.59,64.79 L662.36,65.83 L662.28,67.00 L662.34,68.08 L662.48,69.30 L662.69,70.56 L662.96,71.79 L663.28,72.90 L663.77,74.11 L664.36,75.19 L665.04,76.24 L665.78,77.30 L666.64,78.40 L667.61,79.50 L668.58,80.60 L669.48,81.70 L670.38,82.80 L671.30,83.90 L672.03,85.00 L672.38,86.10 L672.24,87.20 L671.73,88.30 L671.00,89.40 L670.18,90.50 L669.23,91.63 L668.11,92.77 L666.94,93.88 L665.88,94.90 L664.55,96.20 L663.33,97.39 L662.48,98.20 L660.08,98.20 L659.23,97.39 L658.01,96.20 L656.68,94.90 L655.62,93.88 L654.45,92.77 L653.33,91.63 L652.38,90.50 L651.56,89.40 L650.83,88.30 L650.32,87.20 L650.18,86.10 L650.53,85.00 L651.26,83.90 L652.18,82.80 L653.08,81.70 L653.98,80.60 L654.95,79.50 L655.92,78.40 L656.78,77.30 L657.52,76.24 L658.20,75.19 L658.79,74.11 L659.28,72.90 L659.60,71.79 L659.87,70.56 L660.08,69.30 L660.22,68.08 L660.28,67.00 L660.20,65.83 L659.97,64.79 L659.69,63.85 L659.48,63.00 L659.23,61.78 L659.08,60.50 L659.04,59.50 L659.03,58.34 L659.04,57.14 L659.08,56.00 L659.15,54.91 L659.24,53.81 L659.36,52.81 L659.48,52.00 L659.80,51.00 L660.08,50.50 Z" fill="#3d95b8" fill-opacity="0.3" stroke="none"/>
<path d="M662.48,50.50 L662.75,51.00 L663.08,52.00 L663.20,52.81 L663.32,53.81 L663.41,54.91 L663.48,56.00 L663.52,57.14 L663.53,58.34 L663.52,59.50 L663.48,60.50 L663.33,61.78 L663.08,63.00 L662.87,63.85 L662.59,64.79 L662.36,65.83 L662.28,67.00 L662.34,68.08 L662.48,69.30 L662.69,70.56 L662.96,71.79 L663.28,72.90 L663.77,74.11 L664.36,75.19 L665.04,76.24 L665.78,77.30 L666.64,78.40 L667.61,79.50 L668.58,80.60 L669.48,81.70 L670.38,82.80 L671.30,83.90 L672.03,85.00 L672.38,86.10 L672.24,87.20 L671.73,88.30 L671.00,89.40 L670.18,90.50 L669.23,91.63 L668.11,92.77 L666.94,93.88 L665.88,94.90 L664.55,96.20 L663.33,97.39 L662.48,98.20 L660.08,98.20 L659.23,97.39 L658.01,96.20 L656.68,94.90 L655.62,93.88 L654.45,92.77 L653.33,91.63 L652.38,90.50 L651.56,89.40 L650.83,88.30 L650.32,87.20 L650.18,86.10 L650.53,85.00 L651.26,83.90 L652.18,82.80 L653.08,81.70 L653.98,80.60 L654.95,79.50 L655.92,78.40 L656.78,77.30 L657.52,76.24 L658.20,75.19 L658.79,74.11 L659.28,72.90 L659.60,71.79 L659.87,70.56 L660.08,69.30 L660.22,68.08 L660.28,67.00 L660.20,65.83 L659.97,64.79 L659.69,63.85 L659.48,63.00 L659.23,61.78 L659.08,60.50 L659.04,59.50 L659.03,58.34 L659.04,57.14 L659.08,56.00 L659.15,54.91 L659.24,53.81 L659.36,52.81 L659.48,52.00 L659.80,51.00 L660.08,50.50 Z" fill="url(#hv2)" stroke="#d0d0d0" stroke-width="1.3" stroke-opacity="0.9"/>
</g>
<line x1="495.17" y1="323.5" x2="685.5" y2="323.5" stroke="#b0b0b0" stroke-opacity="0.6" stroke-width="1" stroke-dasharray="2.9 1.26"/>
<line x1="495.17" y1="271.99" x2="685.5" y2="271.99" stroke="#b0b0b0" stroke-opacity="0.6" stroke-width="1" stroke-dasharray="2.9 1.26"/>
<line x1="495.17" y1="220.48" x2="685.5" y2="220.48" stroke="#b0b0b0" stroke-opacity="0.6" stroke-width="1" stroke-dasharray="2.9 1.26"/>
<line x1="495.17" y1="168.97" x2="685.5" y2="168.97" stroke="#b0b0b0" stroke-opacity="0.6" stroke-width="1" stroke-dasharray="2.9 1.26"/>
<line x1="495.17" y1="117.47" x2="685.5" y2="117.47" stroke="#b0b0b0" stroke-opacity="0.6" stroke-width="1" stroke-dasharray="2.9 1.26"/>
<line x1="495.17" y1="65.96" x2="685.5" y2="65.96" stroke="#b0b0b0" stroke-opacity="0.6" stroke-width="1" stroke-dasharray="2.9 1.26"/>
<line x1="495.17" y1="14.45" x2="685.5" y2="14.45" stroke="#b0b0b0" stroke-opacity="0.6" stroke-width="1" stroke-dasharray="2.9 1.26"/>
<g clip-path="url(#bx2)">
<line x1="518.9" y1="14.5" x2="518.9" y2="57.5" stroke="#1a1a1a" stroke-width="1.25"/>
<line x1="518.9" y1="91.5" x2="518.9" y2="127.5" stroke="#1a1a1a" stroke-width="1.25"/>
<line x1="515.8" y1="14.5" x2="522" y2="14.5" stroke="#1a1a1a" stroke-width="1.25"/>
<line x1="515.8" y1="127.5" x2="522" y2="127.5" stroke="#1a1a1a" stroke-width="1.25"/>
<rect x="514.5" y="57.5" width="9" height="34" fill="#dd4a4c" fill-opacity="0.68" stroke="#303030" stroke-width="1.1" stroke-opacity="0.72"/>
<line x1="514.2" y1="85" x2="523.9" y2="85" stroke="#fff" stroke-width="2"/>
<path d="M516.05,72.05 L521.75,77.75 M516.05,77.75 L521.75,72.05" stroke="#ff0000" stroke-width="1.75" fill="none"/>
<line x1="542.63" y1="60.5" x2="542.63" y2="91.5" stroke="#1a1a1a" stroke-width="1.25"/>
<line x1="542.63" y1="118.5" x2="542.63" y2="152.5" stroke="#1a1a1a" stroke-width="1.25"/>
<line x1="539.53" y1="60.5" x2="545.73" y2="60.5" stroke="#1a1a1a" stroke-width="1.25"/>
<line x1="539.53" y1="152.5" x2="545.73" y2="152.5" stroke="#1a1a1a" stroke-width="1.25"/>
<rect x="537.5" y="91.5" width="10" height="27" fill="#f98e52" fill-opacity="0.68" stroke="#303030" stroke-width="1.1" stroke-opacity="0.72"/>
<line x1="537.2" y1="105" x2="547.9" y2="105" stroke="#fff" stroke-width="2"/>
<path d="M539.78,101.25 L545.48,106.95 M539.78,106.95 L545.48,101.25" stroke="#ff0000" stroke-width="1.75" fill="none"/>
<line x1="566.36" y1="52.5" x2="566.36" y2="74.5" stroke="#1a1a1a" stroke-width="1.25"/>
<line x1="566.36" y1="88.5" x2="566.36" y2="109.5" stroke="#1a1a1a" stroke-width="1.25"/>
<line x1="563.26" y1="52.5" x2="569.46" y2="52.5" stroke="#1a1a1a" stroke-width="1.25"/>
<line x1="563.26" y1="109.5" x2="569.46" y2="109.5" stroke="#1a1a1a" stroke-width="1.25"/>
<rect x="561.5" y="74.5" width="10" height="14" fill="#fed481" fill-opacity="0.68" stroke="#303030" stroke-width="1.1" stroke-opacity="0.72"/>
<line x1="561.2" y1="83" x2="571.9" y2="83" stroke="#fff" stroke-width="2"/>
<path d="M566.36,109.4 L568.86,111.9 L566.36,114.4 L563.86,111.9 Z" fill="#000"/>
<path d="M566.36,110.5 L568.86,113 L566.36,115.5 L563.86,113 Z" fill="#000"/>
<path d="M566.36,111.6 L568.86,114.1 L566.36,116.6 L563.86,114.1 Z" fill="#000"/>
<path d="M566.36,112.7 L568.86,115.2 L566.36,117.7 L563.86,115.2 Z" fill="#000"/>
<path d="M566.36,113.8 L568.86,116.3 L566.36,118.8 L563.86,116.3 Z" fill="#000"/>
<path d="M566.36,114.9 L568.86,117.4 L566.36,119.9 L563.86,117.4 Z" fill="#000"/>
<path d="M566.36,115.9 L568.86,118.4 L566.36,120.9 L563.86,118.4 Z" fill="#000"/>
<path d="M563.51,80.75 L569.21,86.45 M563.51,86.45 L569.21,80.75" stroke="#ff0000" stroke-width="1.75" fill="none"/>
<line x1="590.09" y1="53.5" x2="590.09" y2="77.5" stroke="#1a1a1a" stroke-width="1.25"/>
<line x1="590.09" y1="97.5" x2="590.09" y2="119.5" stroke="#1a1a1a" stroke-width="1.25"/>
<line x1="586.99" y1="53.5" x2="593.19" y2="53.5" stroke="#1a1a1a" stroke-width="1.25"/>
<line x1="586.99" y1="119.5" x2="593.19" y2="119.5" stroke="#1a1a1a" stroke-width="1.25"/>
<rect x="585.5" y="77.5" width="9" height="20" fill="#ffffbe" fill-opacity="0.68" stroke="#303030" stroke-width="1.1" stroke-opacity="0.72"/>
<line x1="585.2" y1="89" x2="594.9" y2="89" stroke="#fff" stroke-width="2"/>
<path d="M587.24,85.15 L592.94,90.85 M587.24,90.85 L592.94,85.15" stroke="#ff0000" stroke-width="1.75" fill="none"/>
<line x1="613.82" y1="59.5" x2="613.82" y2="73.5" stroke="#1a1a1a" stroke-width="1.25"/>
<line x1="613.82" y1="87.5" x2="613.82" y2="96.5" stroke="#1a1a1a" stroke-width="1.25"/>
<line x1="610.72" y1="59.5" x2="616.92" y2="59.5" stroke="#1a1a1a" stroke-width="1.25"/>
<line x1="610.72" y1="96.5" x2="616.92" y2="96.5" stroke="#1a1a1a" stroke-width="1.25"/>
<rect x="608.5" y="73.5" width="10" height="14" fill="#d6ee9b" fill-opacity="0.68" stroke="#303030" stroke-width="1.1" stroke-opacity="0.72"/>
<line x1="608.2" y1="80" x2="618.9" y2="80" stroke="#fff" stroke-width="2"/>
<path d="M610.97,77.35 L616.67,83.05 M610.97,83.05 L616.67,77.35" stroke="#ff0000" stroke-width="1.75" fill="none"/>
<line x1="637.55" y1="60.5" x2="637.55" y2="170.5" stroke="#1a1a1a" stroke-width="1.25"/>
<line x1="637.55" y1="261.5" x2="637.55" y2="340.5" stroke="#1a1a1a" stroke-width="1.25"/>
<line x1="634.45" y1="60.5" x2="640.65" y2="60.5" stroke="#1a1a1a" stroke-width="1.25"/>
<line x1="634.45" y1="340.5" x2="640.65" y2="340.5" stroke="#1a1a1a" stroke-width="1.25"/>
<rect x="632.5" y="170.5" width="10" height="91" fill="#86cfa5" fill-opacity="0.68" stroke="#303030" stroke-width="1.1" stroke-opacity="0.72"/>
<line x1="632.2" y1="211" x2="642.9" y2="211" stroke="#fff" stroke-width="2"/>
<path d="M634.7,240.05 L640.4,245.75 M634.7,245.75 L640.4,240.05" stroke="#ff0000" stroke-width="1.75" fill="none"/>
<line x1="661.28" y1="79.5" x2="661.28" y2="82.5" stroke="#1a1a1a" stroke-width="1.25"/>
<line x1="661.28" y1="90.5" x2="661.28" y2="97.5" stroke="#1a1a1a" stroke-width="1.25"/>
<line x1="658.18" y1="79.5" x2="664.38" y2="79.5" stroke="#1a1a1a" stroke-width="1.25"/>
<line x1="658.18" y1="97.5" x2="664.38" y2="97.5" stroke="#1a1a1a" stroke-width="1.25"/>
<rect x="656.5" y="82.5" width="10" height="8" fill="#3d95b8" fill-opacity="0.68" stroke="#303030" stroke-width="1.1" stroke-opacity="0.72"/>
<line x1="656.2" y1="87" x2="666.9" y2="87" stroke="#fff" stroke-width="2"/>
<path d="M661.28,49.9 L663.98,52.6 L661.28,55.3 L658.58,52.6 Z" fill="#000"/>
<path d="M661.28,50.9 L663.98,53.6 L661.28,56.3 L658.58,53.6 Z" fill="#000"/>
<path d="M661.28,51.8 L663.98,54.5 L661.28,57.2 L658.58,54.5 Z" fill="#000"/>
<path d="M661.28,52.8 L663.98,55.5 L661.28,58.2 L658.58,55.5 Z" fill="#000"/>
<path d="M661.28,53.8 L663.98,56.5 L661.28,59.2 L658.58,56.5 Z" fill="#000"/>
<path d="M661.28,54.7 L663.98,57.4 L661.28,60.1 L658.58,57.4 Z" fill="#000"/>
<path d="M661.28,55.7 L663.98,58.4 L661.28,61.1 L658.58,58.4 Z" fill="#000"/>
<path d="M661.28,56.7 L663.98,59.4 L661.28,62.1 L658.58,59.4 Z" fill="#000"/>
<path d="M658.43,78.55 L664.13,84.25 M658.43,84.25 L664.13,78.55" stroke="#ff0000" stroke-width="1.75" fill="none"/>
</g>
<line x1="485.45" y1="13.95" x2="485.45" y2="324" stroke="#1a1a1a" stroke-width="1"/>
<line x1="481.95" y1="323.5" x2="485.45" y2="323.5" stroke="#1a1a1a" stroke-width="1"/>
<text transform="translate(476.95,323.5) rotate(-90)" text-anchor="middle" font-size="10.38" textLength="21.6" lengthAdjust="spacingAndGlyphs">0.61</text>
<line x1="481.95" y1="271.99" x2="485.45" y2="271.99" stroke="#1a1a1a" stroke-width="1"/>
<text transform="translate(476.95,271.99) rotate(-90)" text-anchor="middle" font-size="10.38" textLength="21.6" lengthAdjust="spacingAndGlyphs">0.62</text>
<line x1="481.95" y1="220.48" x2="485.45" y2="220.48" stroke="#1a1a1a" stroke-width="1"/>
<text transform="translate(476.95,220.48) rotate(-90)" text-anchor="middle" font-size="10.38" textLength="21.6" lengthAdjust="spacingAndGlyphs">0.63</text>
<line x1="481.95" y1="168.97" x2="485.45" y2="168.97" stroke="#1a1a1a" stroke-width="1"/>
<text transform="translate(476.95,168.97) rotate(-90)" text-anchor="middle" font-size="10.38" textLength="21.6" lengthAdjust="spacingAndGlyphs">0.64</text>
<line x1="481.95" y1="117.47" x2="485.45" y2="117.47" stroke="#1a1a1a" stroke-width="1"/>
<text transform="translate(476.95,117.47) rotate(-90)" text-anchor="middle" font-size="10.38" textLength="21.6" lengthAdjust="spacingAndGlyphs">0.65</text>
<line x1="481.95" y1="65.96" x2="485.45" y2="65.96" stroke="#1a1a1a" stroke-width="1"/>
<text transform="translate(476.95,65.96) rotate(-90)" text-anchor="middle" font-size="10.38" textLength="21.6" lengthAdjust="spacingAndGlyphs">0.66</text>
<line x1="481.95" y1="14.45" x2="485.45" y2="14.45" stroke="#1a1a1a" stroke-width="1"/>
<text transform="translate(476.95,14.45) rotate(-90)" text-anchor="middle" font-size="10.38" textLength="21.6" lengthAdjust="spacingAndGlyphs">0.67</text>
<line x1="518.4" y1="333.7" x2="661.78" y2="333.7" stroke="#1a1a1a" stroke-width="1"/>
<line x1="518.9" y1="333.7" x2="518.9" y2="337.1" stroke="#1a1a1a" stroke-width="1"/>
<text transform="translate(517.47,345.71) rotate(-45)" text-anchor="end" font-size="9.99" textLength="37.13" lengthAdjust="spacingAndGlyphs">FlexFair</text>
<line x1="542.63" y1="333.7" x2="542.63" y2="337.1" stroke="#1a1a1a" stroke-width="1"/>
<text transform="translate(541.2,345.71) rotate(-45)" text-anchor="end" font-size="9.99" textLength="35.13" lengthAdjust="spacingAndGlyphs">FedAvg</text>
<line x1="566.36" y1="333.7" x2="566.36" y2="337.1" stroke="#1a1a1a" stroke-width="1"/>
<text transform="translate(564.93,345.71) rotate(-45)" text-anchor="end" font-size="9.99" textLength="42.05" lengthAdjust="spacingAndGlyphs">FedNova</text>
<line x1="590.09" y1="333.7" x2="590.09" y2="337.1" stroke="#1a1a1a" stroke-width="1"/>
<text transform="translate(588.66,345.71) rotate(-45)" text-anchor="end" font-size="9.99" textLength="37.99" lengthAdjust="spacingAndGlyphs">FedProx</text>
<line x1="613.82" y1="333.7" x2="613.82" y2="337.1" stroke="#1a1a1a" stroke-width="1"/>
<text transform="translate(612.39,345.71) rotate(-45)" text-anchor="end" font-size="9.99" textLength="51.23" lengthAdjust="spacingAndGlyphs">SCAFFOLD</text>
<line x1="637.55" y1="333.7" x2="637.55" y2="337.1" stroke="#1a1a1a" stroke-width="1"/>
<text transform="translate(636.12,345.71) rotate(-45)" text-anchor="end" font-size="9.99" textLength="46.43" lengthAdjust="spacingAndGlyphs">FairMixup</text>
<line x1="661.28" y1="333.7" x2="661.28" y2="337.1" stroke="#1a1a1a" stroke-width="1"/>
<text transform="translate(659.85,345.71) rotate(-45)" text-anchor="end" font-size="9.99" textLength="34.49" lengthAdjust="spacingAndGlyphs">FairFed</text>
<text x="591.6" y="8.7" text-anchor="middle" font-size="11.99" textLength="94.53" lengthAdjust="spacingAndGlyphs">Fundus Vascular</text>
<text transform="translate(7.85,168.65) rotate(-90)" text-anchor="middle" font-size="9.99" textLength="51.71" lengthAdjust="spacingAndGlyphs">Dice Score</text>
<rect x="500.3" y="201.6" width="86" height="115.9" rx="2" ry="2" fill="#fff" fill-opacity="0.8" stroke="#cccccc" stroke-width="1"/>
<rect x="503.7" y="205.85" width="20.2" height="6.7" fill="#dd4a4c" fill-opacity="0.95"/>
<rect x="503.7" y="205.85" width="20.2" height="6.7" fill="url(#hl)"/>
<text x="531.05" y="212.75" font-size="9.99" textLength="37.13" lengthAdjust="spacingAndGlyphs">FlexFair</text>
<rect x="503.7" y="220.13" width="20.2" height="6.7" fill="#f98e52" fill-opacity="0.95"/>
<rect x="503.7" y="220.13" width="20.2" height="6.7" fill="url(#hl)"/>
<text x="531.05" y="227.03" font-size="9.99" textLength="35.13" lengthAdjust="spacingAndGlyphs">FedAvg</text>
<rect x="503.7" y="234.41" width="20.2" height="6.7" fill="#fed481" fill-opacity="0.95"/>
<rect x="503.7" y="234.41" width="20.2" height="6.7" fill="url(#hl)"/>
<text x="531.05" y="241.31" font-size="9.99" textLength="42.05" lengthAdjust="spacingAndGlyphs">FedNova</text>
<rect x="503.7" y="248.69" width="20.2" height="6.7" fill="#ffffbe" fill-opacity="0.95"/>
<rect x="503.7" y="248.69" width="20.2" height="6.7" fill="url(#hl)"/>
<text x="531.05" y="255.59" font-size="9.99" textLength="37.99" lengthAdjust="spacingAndGlyphs">FedProx</text>
<rect x="503.7" y="262.97" width="20.2" height="6.7" fill="#d6ee9b" fill-opacity="0.95"/>
<rect x="503.7" y="262.97" width="20.2" height="6.7" fill="url(#hl)"/>
<text x="531.05" y="269.87" font-size="9.99" textLength="51.23" lengthAdjust="spacingAndGlyphs">SCAFFOLD</text>
<rect x="503.7" y="277.25" width="20.2" height="6.7" fill="#86cfa5" fill-opacity="0.95"/>
<rect x="503.7" y="277.25" width="20.2" height="6.7" fill="url(#hl)"/>
<text x="531.05" y="284.15" font-size="9.99" textLength="46.43" lengthAdjust="spacingAndGlyphs">FairMixup</text>
<rect x="503.7" y="291.53" width="20.2" height="6.7" fill="#3d95b8" fill-opacity="0.95"/>
<rect x="503.7" y="291.53" width="20.2" height="6.7" fill="url(#hl)"/>
<text x="531.05" y="298.43" font-size="9.99" textLength="34.49" lengthAdjust="spacingAndGlyphs">FairFed</text>
<path d="M510,305.46 L517.4,312.86 M510,312.86 L517.4,305.46" stroke="#ff0000" stroke-width="1.2" fill="none"/>
<text x="531.05" y="312.71" font-size="9.99" textLength="26.43" lengthAdjust="spacingAndGlyphs">Mean</text>
</svg></body></html>
